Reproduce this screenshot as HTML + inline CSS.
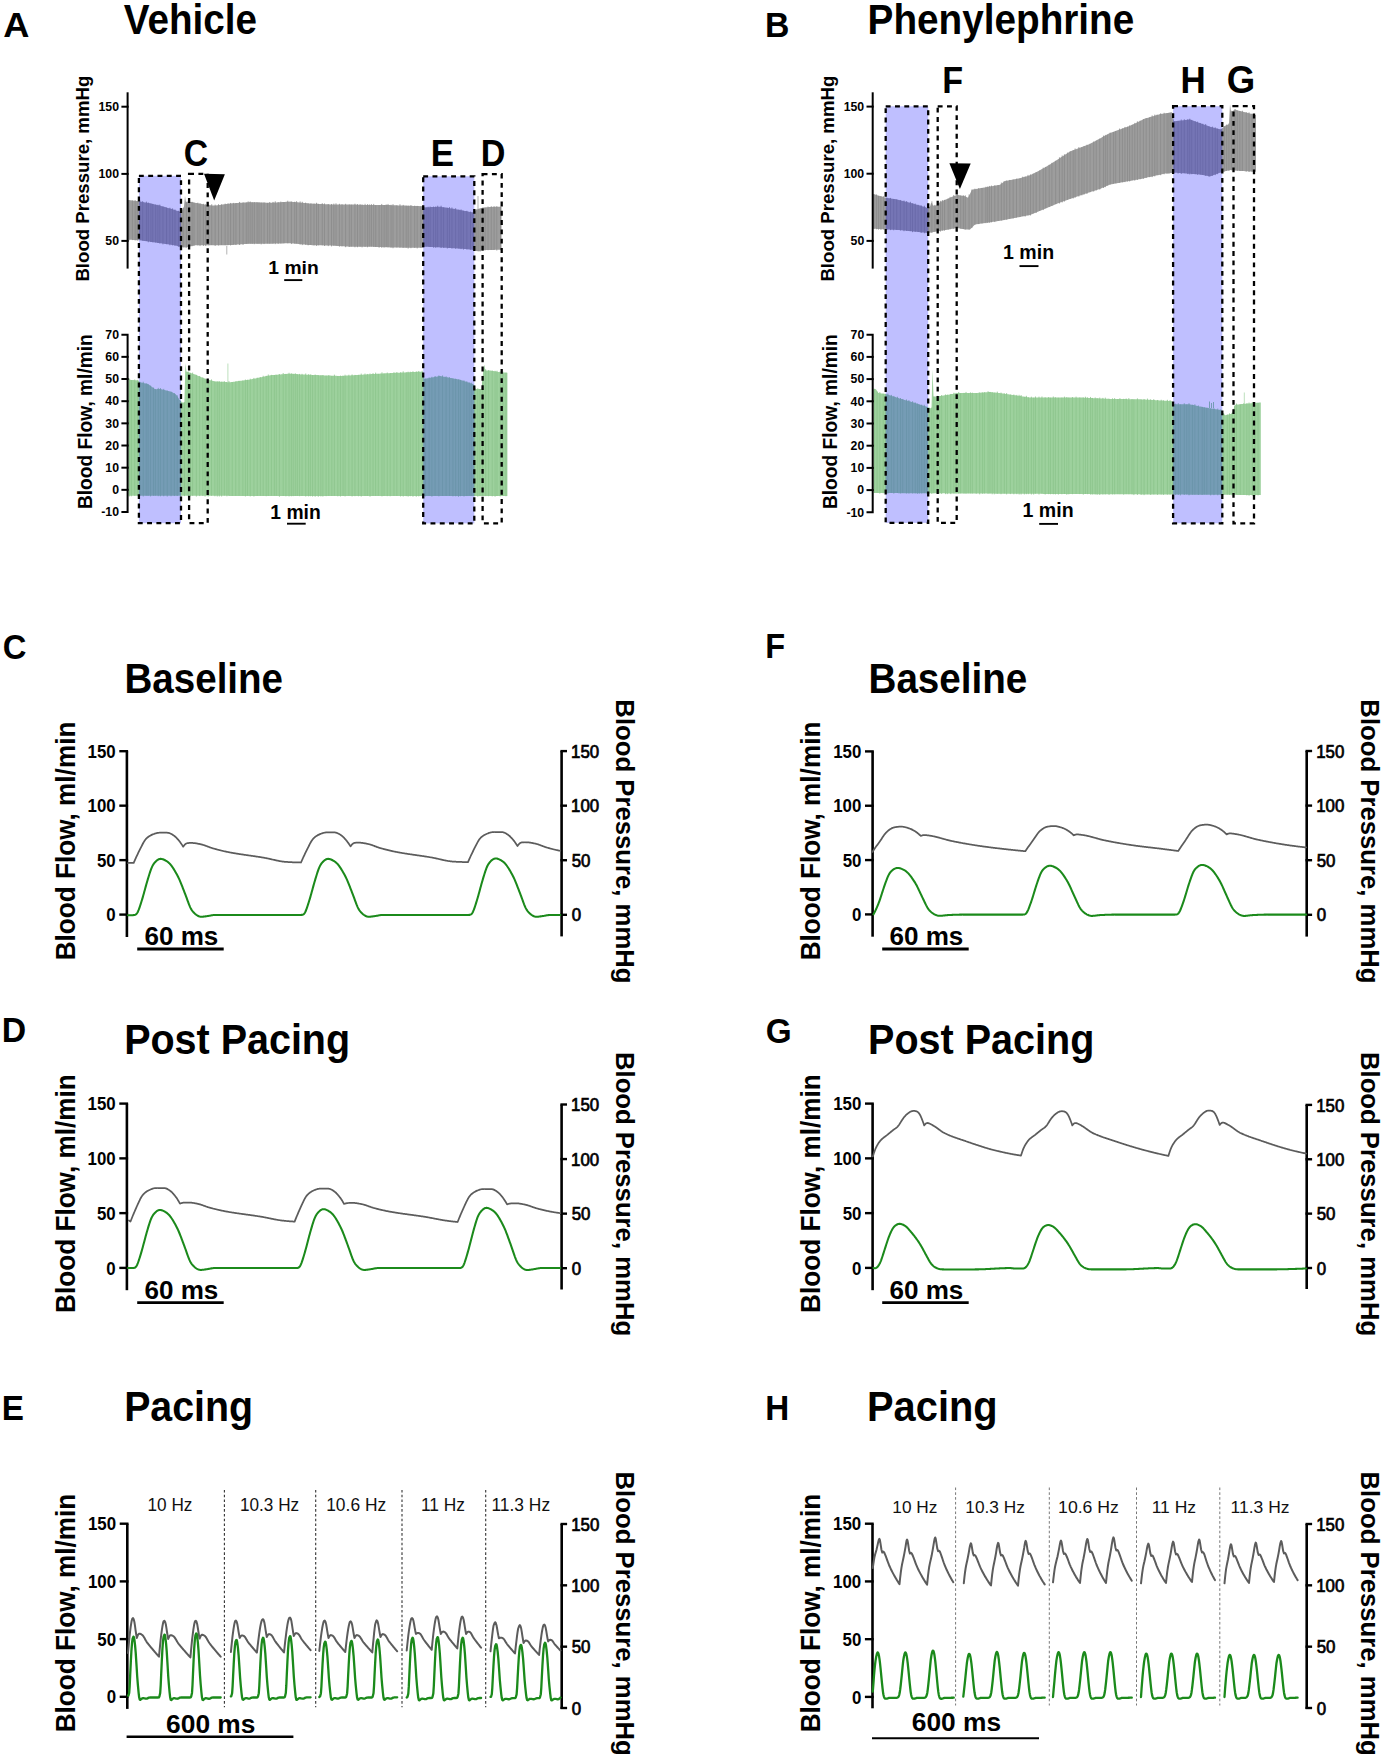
<!DOCTYPE html>
<html><head><meta charset="utf-8"><title>Figure</title>
<style>html,body{margin:0;padding:0;background:#fff;} svg{display:block;} text{font-family:"Liberation Sans", sans-serif;}</style>
</head><body>
<svg width="1385" height="1761" viewBox="0 0 1385 1761">
<rect width="1385" height="1761" fill="#fff"/>
<path d="M128.00,200.00 L129.00,200.12 L130.00,200.24 L131.00,200.35 L132.00,200.47 L133.00,200.59 L134.00,200.71 L135.00,200.83 L136.00,200.95 L137.00,201.06 L138.00,201.18 L139.00,201.30 L140.00,201.48 L141.00,201.66 L142.00,201.85 L143.00,202.03 L144.00,202.21 L145.00,202.39 L146.00,202.57 L147.00,202.75 L148.00,202.94 L149.00,203.12 L150.00,203.30 L151.00,203.53 L152.00,203.76 L153.00,203.99 L154.00,204.22 L155.00,204.45 L156.00,204.68 L157.00,204.91 L158.00,205.14 L159.00,205.37 L160.00,205.60 L161.00,205.89 L162.00,206.18 L163.00,206.47 L164.00,206.76 L165.00,207.05 L166.00,207.34 L167.00,207.63 L168.00,207.92 L169.00,208.21 L170.00,208.50 L171.00,208.81 L172.00,209.12 L173.00,209.44 L174.00,209.75 L175.00,210.06 L176.00,210.38 L177.00,210.69 L178.00,211.00 L179.00,211.33 L180.00,211.67 L181.00,212.00 L182.00,210.18 L183.00,208.36 L184.00,206.55 L185.00,196.00 L186.00,202.78 L187.00,202.04 L188.00,201.30 L189.00,201.50 L190.00,201.70 L191.00,201.90 L192.00,202.10 L193.00,202.30 L194.00,202.50 L195.00,202.70 L196.00,202.89 L197.00,203.08 L198.00,203.27 L199.00,203.47 L200.00,203.66 L201.00,203.85 L202.00,204.04 L203.00,204.23 L204.00,204.43 L205.00,204.62 L206.00,204.81 L207.00,205.00 L208.00,205.07 L209.00,205.15 L210.00,205.22 L211.00,205.30 L212.00,205.38 L213.00,205.45 L214.00,205.53 L215.00,205.60 L216.00,205.46 L217.00,205.32 L218.00,205.18 L219.00,205.04 L220.00,204.90 L221.00,204.76 L222.00,204.62 L223.00,204.48 L224.00,204.34 L225.00,204.20 L226.00,204.06 L227.00,203.92 L228.00,203.78 L229.00,203.64 L230.00,203.50 L231.00,203.43 L232.00,203.36 L233.00,203.29 L234.00,203.22 L235.00,203.15 L236.00,203.08 L237.00,203.01 L238.00,202.94 L239.00,202.87 L240.00,202.80 L241.00,202.73 L242.00,202.66 L243.00,202.59 L244.00,202.52 L245.00,202.45 L246.00,202.38 L247.00,202.31 L248.00,202.24 L249.00,202.17 L250.00,202.10 L251.00,202.13 L252.00,202.17 L253.00,202.20 L254.00,202.24 L255.00,202.28 L256.00,202.31 L257.00,202.34 L258.00,202.38 L259.00,202.41 L260.00,202.45 L261.00,202.49 L262.00,202.52 L263.00,202.56 L264.00,202.59 L265.00,202.62 L266.00,202.66 L267.00,202.70 L268.00,202.73 L269.00,202.77 L270.00,202.80 L271.00,202.74 L272.00,202.68 L273.00,202.62 L274.00,202.56 L275.00,202.50 L276.00,202.44 L277.00,202.38 L278.00,202.32 L279.00,202.26 L280.00,202.20 L281.00,202.14 L282.00,202.08 L283.00,202.02 L284.00,201.96 L285.00,201.90 L286.00,201.84 L287.00,201.78 L288.00,201.72 L289.00,201.66 L290.00,201.60 L291.00,201.69 L292.00,201.79 L293.00,201.88 L294.00,201.98 L295.00,202.07 L296.00,202.17 L297.00,202.26 L298.00,202.36 L299.00,202.45 L300.00,202.55 L301.00,202.65 L302.00,202.74 L303.00,202.84 L304.00,202.93 L305.00,203.03 L306.00,203.12 L307.00,203.22 L308.00,203.31 L309.00,203.41 L310.00,203.50 L311.00,203.54 L312.00,203.59 L313.00,203.63 L314.00,203.68 L315.00,203.72 L316.00,203.77 L317.00,203.81 L318.00,203.86 L319.00,203.91 L320.00,203.95 L321.00,204.00 L322.00,204.04 L323.00,204.09 L324.00,204.13 L325.00,204.18 L326.00,204.22 L327.00,204.27 L328.00,204.31 L329.00,204.36 L330.00,204.40 L331.00,204.40 L332.00,204.40 L333.00,204.40 L334.00,204.40 L335.00,204.40 L336.00,204.40 L337.00,204.40 L338.00,204.40 L339.00,204.40 L340.00,204.40 L341.00,204.40 L342.00,204.40 L343.00,204.40 L344.00,204.40 L345.00,204.40 L346.00,204.40 L347.00,204.40 L348.00,204.40 L349.00,204.40 L350.00,204.40 L351.00,204.44 L352.00,204.47 L353.00,204.50 L354.00,204.54 L355.00,204.57 L356.00,204.61 L357.00,204.65 L358.00,204.68 L359.00,204.72 L360.00,204.75 L361.00,204.78 L362.00,204.82 L363.00,204.85 L364.00,204.89 L365.00,204.93 L366.00,204.96 L367.00,205.00 L368.00,205.03 L369.00,205.06 L370.00,205.10 L371.00,205.10 L372.00,205.10 L373.00,205.10 L374.00,205.10 L375.00,205.10 L376.00,205.10 L377.00,205.10 L378.00,205.10 L379.00,205.10 L380.00,205.10 L381.00,205.10 L382.00,205.10 L383.00,205.10 L384.00,205.10 L385.00,205.10 L386.00,205.10 L387.00,205.10 L388.00,205.10 L389.00,205.10 L390.00,205.10 L391.00,205.13 L392.00,205.17 L393.00,205.20 L394.00,205.24 L395.00,205.28 L396.00,205.31 L397.00,205.34 L398.00,205.38 L399.00,205.41 L400.00,205.45 L401.00,205.49 L402.00,205.52 L403.00,205.56 L404.00,205.59 L405.00,205.62 L406.00,205.66 L407.00,205.70 L408.00,205.73 L409.00,205.77 L410.00,205.80 L411.00,205.83 L412.00,205.87 L413.00,205.90 L414.00,205.93 L415.00,205.97 L416.00,206.00 L417.00,206.03 L418.00,206.07 L419.00,206.10 L420.00,206.13 L421.00,206.17 L422.00,206.20 L423.00,206.60 L424.00,207.00 L425.00,207.40 L426.00,207.35 L427.00,207.31 L428.00,207.26 L429.00,207.21 L430.00,207.17 L431.00,207.12 L432.00,207.07 L433.00,207.03 L434.00,206.98 L435.00,206.93 L436.00,206.89 L437.00,206.84 L438.00,206.79 L439.00,206.75 L440.00,206.70 L441.00,206.85 L442.00,207.01 L443.00,207.16 L444.00,207.31 L445.00,207.47 L446.00,207.62 L447.00,207.77 L448.00,207.93 L449.00,208.08 L450.00,208.23 L451.00,208.39 L452.00,208.54 L453.00,208.69 L454.00,208.85 L455.00,209.00 L456.00,209.19 L457.00,209.38 L458.00,209.57 L459.00,209.76 L460.00,209.95 L461.00,210.14 L462.00,210.33 L463.00,210.52 L464.00,210.71 L465.00,210.90 L466.00,211.10 L467.00,211.30 L468.00,211.50 L469.00,211.70 L470.00,211.90 L471.00,212.10 L472.00,212.30 L473.00,212.50 L474.00,212.70 L475.00,211.20 L476.00,209.70 L477.00,209.39 L478.00,209.07 L479.00,208.76 L480.00,208.49 L481.00,208.27 L482.00,208.05 L483.00,207.84 L484.00,207.62 L485.00,207.40 L486.00,207.33 L487.00,207.26 L488.00,207.19 L489.00,207.12 L490.00,207.05 L491.00,206.98 L492.00,206.91 L493.00,206.84 L494.00,206.77 L495.00,206.70 L496.00,206.70 L497.00,206.70 L498.00,206.70 L499.00,206.70 L500.00,206.70 L501.00,206.70 L501.50,206.70 L501.50,249.70 L501.00,249.71 L500.00,249.74 L499.00,249.76 L498.00,249.78 L497.00,249.81 L496.00,249.83 L495.00,249.86 L494.00,249.88 L493.00,249.91 L492.00,249.93 L491.00,249.95 L490.00,249.98 L489.00,250.00 L488.00,250.03 L487.00,250.05 L486.00,250.08 L485.00,250.10 L484.00,250.27 L483.00,250.44 L482.00,250.61 L481.00,250.79 L480.00,250.96 L479.00,251.13 L478.00,251.30 L477.00,251.00 L476.00,250.70 L475.00,250.40 L474.00,250.10 L473.00,249.98 L472.00,249.86 L471.00,249.73 L470.00,249.61 L469.00,249.49 L468.00,249.37 L467.00,249.24 L466.00,249.12 L465.00,249.00 L464.00,248.93 L463.00,248.86 L462.00,248.79 L461.00,248.72 L460.00,248.65 L459.00,248.58 L458.00,248.51 L457.00,248.44 L456.00,248.37 L455.00,248.30 L454.00,248.24 L453.00,248.18 L452.00,248.12 L451.00,248.06 L450.00,248.00 L449.00,247.94 L448.00,247.88 L447.00,247.82 L446.00,247.76 L445.00,247.70 L444.00,247.64 L443.00,247.58 L442.00,247.52 L441.00,247.46 L440.00,247.40 L439.00,247.35 L438.00,247.31 L437.00,247.26 L436.00,247.21 L435.00,247.17 L434.00,247.12 L433.00,247.07 L432.00,247.03 L431.00,246.98 L430.00,246.93 L429.00,246.89 L428.00,246.84 L427.00,246.79 L426.00,246.75 L425.00,246.70 L424.00,247.07 L423.00,247.43 L422.00,247.80 L421.00,247.80 L420.00,247.80 L419.00,247.80 L418.00,247.80 L417.00,247.80 L416.00,247.80 L415.00,247.80 L414.00,247.80 L413.00,247.80 L412.00,247.80 L411.00,247.80 L410.00,247.80 L409.00,247.78 L408.00,247.76 L407.00,247.74 L406.00,247.72 L405.00,247.70 L404.00,247.68 L403.00,247.66 L402.00,247.64 L401.00,247.62 L400.00,247.60 L399.00,247.58 L398.00,247.56 L397.00,247.54 L396.00,247.52 L395.00,247.50 L394.00,247.48 L393.00,247.46 L392.00,247.44 L391.00,247.42 L390.00,247.40 L389.00,247.37 L388.00,247.33 L387.00,247.30 L386.00,247.26 L385.00,247.22 L384.00,247.19 L383.00,247.16 L382.00,247.12 L381.00,247.09 L380.00,247.05 L379.00,247.01 L378.00,246.98 L377.00,246.94 L376.00,246.91 L375.00,246.88 L374.00,246.84 L373.00,246.80 L372.00,246.77 L371.00,246.73 L370.00,246.70 L369.00,246.70 L368.00,246.70 L367.00,246.70 L366.00,246.70 L365.00,246.70 L364.00,246.70 L363.00,246.70 L362.00,246.70 L361.00,246.70 L360.00,246.70 L359.00,246.70 L358.00,246.70 L357.00,246.70 L356.00,246.70 L355.00,246.70 L354.00,246.70 L353.00,246.70 L352.00,246.70 L351.00,246.70 L350.00,246.70 L349.00,246.64 L348.00,246.58 L347.00,246.52 L346.00,246.46 L345.00,246.40 L344.00,246.34 L343.00,246.28 L342.00,246.22 L341.00,246.16 L340.00,246.10 L339.00,246.04 L338.00,245.98 L337.00,245.92 L336.00,245.86 L335.00,245.80 L334.00,245.74 L333.00,245.68 L332.00,245.62 L331.00,245.56 L330.00,245.50 L329.00,245.48 L328.00,245.46 L327.00,245.44 L326.00,245.42 L325.00,245.40 L324.00,245.38 L323.00,245.36 L322.00,245.34 L321.00,245.32 L320.00,245.30 L319.00,245.28 L318.00,245.26 L317.00,245.24 L316.00,245.22 L315.00,245.20 L314.00,245.18 L313.00,245.16 L312.00,245.14 L311.00,245.12 L310.00,245.10 L309.00,245.00 L308.00,244.91 L307.00,244.81 L306.00,244.72 L305.00,244.62 L304.00,244.53 L303.00,244.44 L302.00,244.34 L301.00,244.25 L300.00,244.15 L299.00,244.05 L298.00,243.96 L297.00,243.86 L296.00,243.77 L295.00,243.67 L294.00,243.58 L293.00,243.48 L292.00,243.39 L291.00,243.29 L290.00,243.20 L289.00,243.22 L288.00,243.25 L287.00,243.27 L286.00,243.30 L285.00,243.32 L284.00,243.35 L283.00,243.38 L282.00,243.40 L281.00,243.42 L280.00,243.45 L279.00,243.47 L278.00,243.50 L277.00,243.52 L276.00,243.55 L275.00,243.57 L274.00,243.60 L273.00,243.62 L272.00,243.65 L271.00,243.67 L270.00,243.70 L269.00,243.70 L268.00,243.70 L267.00,243.70 L266.00,243.70 L265.00,243.70 L264.00,243.70 L263.00,243.70 L262.00,243.70 L261.00,243.70 L260.00,243.70 L259.00,243.70 L258.00,243.70 L257.00,243.70 L256.00,243.70 L255.00,243.70 L254.00,243.70 L253.00,243.70 L252.00,243.70 L251.00,243.70 L250.00,243.70 L249.00,243.77 L248.00,243.84 L247.00,243.91 L246.00,243.98 L245.00,244.05 L244.00,244.12 L243.00,244.19 L242.00,244.26 L241.00,244.33 L240.00,244.40 L239.00,244.47 L238.00,244.54 L237.00,244.61 L236.00,244.68 L235.00,244.75 L234.00,244.82 L233.00,244.89 L232.00,244.96 L231.00,245.03 L230.00,245.10 L229.00,245.11 L228.00,245.12 L227.00,245.13 L226.00,245.14 L225.00,245.15 L224.00,245.16 L223.00,245.17 L222.00,245.18 L221.00,245.19 L220.00,245.20 L219.00,245.21 L218.00,245.22 L217.00,245.23 L216.00,245.24 L215.00,245.25 L214.00,245.26 L213.00,245.27 L212.00,245.28 L211.00,245.29 L210.00,245.30 L209.00,245.30 L208.00,245.30 L207.00,245.30 L206.00,245.30 L205.00,245.30 L204.00,245.30 L203.00,245.30 L202.00,245.30 L201.00,245.30 L200.00,245.30 L199.00,245.30 L198.00,245.30 L197.00,245.30 L196.00,245.30 L195.00,245.30 L194.00,245.54 L193.00,245.79 L192.00,246.03 L191.00,246.28 L190.00,246.52 L189.00,246.77 L188.00,247.01 L187.00,247.26 L186.00,247.50 L185.00,247.38 L184.00,247.27 L183.00,247.15 L182.00,247.03 L181.00,246.92 L180.00,246.80 L179.00,246.50 L178.00,246.20 L177.00,245.90 L176.00,245.60 L175.00,245.30 L174.00,245.16 L173.00,245.02 L172.00,244.88 L171.00,244.74 L170.00,244.60 L169.00,244.46 L168.00,244.32 L167.00,244.18 L166.00,244.04 L165.00,243.90 L164.00,243.76 L163.00,243.62 L162.00,243.48 L161.00,243.34 L160.00,243.20 L159.00,243.05 L158.00,242.91 L157.00,242.76 L156.00,242.62 L155.00,242.47 L154.00,242.33 L153.00,242.19 L152.00,242.04 L151.00,241.90 L150.00,241.75 L149.00,241.60 L148.00,241.46 L147.00,241.31 L146.00,241.17 L145.00,241.03 L144.00,240.88 L143.00,240.74 L142.00,240.59 L141.00,240.45 L140.00,240.30 L139.00,240.24 L138.00,240.18 L137.00,240.12 L136.00,240.07 L135.00,240.01 L134.00,239.95 L133.00,239.89 L132.00,239.83 L131.00,239.78 L130.00,239.72 L129.00,239.66 L128.00,239.60Z" fill="#9d9d9d"/>
<path d="M129.00,200.22V240.29M132.41,200.44V240.10M135.16,200.17V240.59M137.18,201.34V240.75M139.90,200.62V240.00M142.65,201.18V240.64M146.43,201.60V240.97M148.30,202.48V242.24M150.92,203.49V242.05M152.80,203.91V242.34M155.65,204.55V242.52M157.92,204.73V242.92M159.79,204.60V243.48M162.94,206.48V244.40M166.55,207.62V244.18M169.87,207.70V245.31M172.57,208.36V245.40M175.02,209.49V245.98M178.60,210.74V246.73M180.50,211.77V247.43M183.18,208.08V247.47M186.46,201.73V247.50M189.19,201.08V247.28M192.10,201.83V246.25M193.98,202.73V246.02M197.84,202.66V245.43M200.02,203.21V246.08M203.44,203.81V245.95M205.74,204.29V246.05M208.76,204.74V245.30M211.72,204.22V244.99M215.17,204.64V245.92M218.53,204.19V245.49M221.52,204.35V244.95M225.15,203.62V245.07M228.02,203.35V245.21M230.56,202.95V245.45M233.65,202.86V244.57M235.95,203.12V245.03M239.56,201.93V245.01M243.08,202.50V244.81M246.30,202.53V243.68M248.15,201.40V243.80M250.20,201.47V243.78M252.16,202.24V243.98M254.33,202.14V244.18M257.10,202.17V243.92M258.97,202.13V243.86M261.18,202.63V244.39M264.06,202.58V244.07M267.58,202.98V243.42M269.71,202.01V243.58M272.99,201.90V243.92M275.27,201.32V244.15M278.16,202.28V243.91M280.81,201.59V243.48M283.94,202.18V243.38M287.77,200.72V243.29M291.38,201.57V244.06M294.74,201.73V243.63M296.58,201.21V243.57M300.11,201.42V244.49M302.28,201.77V245.14M305.57,202.62V244.79M308.11,203.31V245.36M310.83,203.55V244.93M314.03,203.54V245.43M316.53,202.79V245.92M318.39,203.88V245.33M322.26,203.18V245.42M324.53,203.44V246.01M328.28,204.11V246.14M331.53,203.97V246.38M333.84,203.61V245.52M336.01,203.33V245.80M339.41,203.80V246.69M342.00,204.19V246.24M345.62,203.79V247.19M349.29,204.50V246.96M351.33,204.69V246.48M354.95,203.69V247.31M357.48,204.04V247.26M360.08,204.20V246.65M362.07,204.72V247.38M365.07,203.84V246.90M367.46,204.13V247.31M369.31,204.37V246.50M371.37,204.07V246.49M373.69,203.92V246.99M375.75,205.15V246.87M379.11,205.25V247.72M381.72,203.94V247.81M384.15,205.02V247.42M386.18,204.42V247.01M388.02,203.93V247.36M391.08,204.76V247.47M393.03,204.14V248.23M396.87,205.47V247.47M399.98,204.28V247.90M403.23,204.87V247.65M406.18,205.51V247.69M408.16,205.61V248.55M410.92,205.15V248.21M414.69,205.67V247.84M417.19,205.86V248.43M420.87,206.01V247.87M423.82,206.36V247.49M426.15,207.62V246.72M428.12,206.73V246.62M430.10,206.51V246.96M433.57,206.56V247.75M435.71,206.45V247.77M437.69,205.68V247.18M441.12,205.69V248.07M443.61,207.39V247.88M447.34,207.69V248.52M449.46,207.08V247.70M451.93,207.48V248.70M455.64,208.16V248.87M458.89,209.77V248.75M461.04,209.38V249.16M463.39,210.80V249.65M466.89,210.75V249.53M470.48,211.62V249.81M473.00,212.41V249.71M476.17,209.32V251.08M478.12,208.80V251.13M480.20,208.36V251.53M482.85,207.57V250.84M485.15,207.68V250.38M488.01,206.52V250.21M491.26,206.16V249.91M494.11,206.34V249.83M496.79,206.16V250.51M500.52,206.59V250.13" stroke="#8a8a8a" stroke-width="0.8" fill="none"/>
<path d="M128.40,379.60 L129.40,379.69 L130.40,379.79 L131.40,379.88 L132.40,379.98 L133.40,380.07 L134.40,380.16 L135.40,380.26 L136.40,380.35 L137.40,380.44 L138.40,380.84 L139.40,381.69 L140.40,382.29 L141.40,382.51 L142.40,382.74 L143.40,382.96 L144.40,383.19 L145.40,383.42 L146.40,383.64 L147.40,383.87 L148.40,384.30 L149.40,385.04 L150.40,385.78 L151.40,386.53 L152.40,387.27 L153.40,388.01 L154.40,388.75 L155.40,389.18 L156.40,389.14 L157.40,389.10 L158.40,389.06 L159.40,389.02 L160.40,389.10 L161.40,389.35 L162.40,389.60 L163.40,389.85 L164.40,390.10 L165.40,390.35 L166.40,390.60 L167.40,390.85 L168.40,391.10 L169.40,391.35 L170.40,391.60 L171.40,391.85 L172.40,392.25 L173.40,392.88 L174.40,393.50 L175.40,394.12 L176.40,395.10 L177.40,396.60 L178.40,398.10 L179.40,399.50 L180.40,400.75 L181.40,401.90 L182.40,402.50 L183.40,402.50 L184.40,402.50 L185.40,363.36 L186.40,371.62 L187.40,371.93 L188.40,372.25 L189.40,372.58 L190.40,372.90 L191.40,373.23 L192.40,373.56 L193.40,373.88 L194.40,374.20 L195.40,374.58 L196.40,375.02 L197.40,375.46 L198.40,375.90 L199.40,376.34 L200.40,376.78 L201.40,377.22 L202.40,377.66 L203.40,378.10 L204.40,378.54 L205.40,378.90 L206.40,379.16 L207.40,379.42 L208.40,379.68 L209.40,379.94 L210.40,380.20 L211.40,380.46 L212.40,380.72 L213.40,380.98 L214.40,381.24 L215.40,381.42 L216.40,381.47 L217.40,381.53 L218.40,381.58 L219.40,381.63 L220.40,381.69 L221.40,381.74 L222.40,381.79 L223.40,381.85 L224.40,381.90 L225.40,381.95 L226.40,382.01 L227.40,382.06 L228.40,382.11 L229.40,382.17 L230.40,382.15 L231.40,382.02 L232.40,381.89 L233.40,381.76 L234.40,381.63 L235.40,381.50 L236.40,381.37 L237.40,381.24 L238.40,381.11 L239.40,380.98 L240.40,380.85 L241.40,380.72 L242.40,380.59 L243.40,380.46 L244.40,380.33 L245.40,380.20 L246.40,380.07 L247.40,379.94 L248.40,379.81 L249.40,379.68 L250.40,379.51 L251.40,379.30 L252.40,379.08 L253.40,378.87 L254.40,378.65 L255.40,378.44 L256.40,378.22 L257.40,378.01 L258.40,377.79 L259.40,377.58 L260.40,377.36 L261.40,377.15 L262.40,376.93 L263.40,376.72 L264.40,376.50 L265.40,376.29 L266.40,376.07 L267.40,375.86 L268.40,375.64 L269.40,375.43 L270.40,375.27 L271.40,375.18 L272.40,375.10 L273.40,375.01 L274.40,374.93 L275.40,374.84 L276.40,374.76 L277.40,374.67 L278.40,374.59 L279.40,374.50 L280.40,374.42 L281.40,374.33 L282.40,374.25 L283.40,374.16 L284.40,374.08 L285.40,373.99 L286.40,373.91 L287.40,373.82 L288.40,373.74 L289.40,373.65 L290.40,373.63 L291.40,373.71 L292.40,373.79 L293.40,373.87 L294.40,373.95 L295.40,374.03 L296.40,374.11 L297.40,374.19 L298.40,374.27 L299.40,374.35 L300.40,374.42 L301.40,374.46 L302.40,374.50 L303.40,374.54 L304.40,374.58 L305.40,374.62 L306.40,374.66 L307.40,374.70 L308.40,374.74 L309.40,374.78 L310.40,374.82 L311.40,374.86 L312.40,374.90 L313.40,374.94 L314.40,374.98 L315.40,375.02 L316.40,375.06 L317.40,375.10 L318.40,375.14 L319.40,375.18 L320.40,375.22 L321.40,375.26 L322.40,375.30 L323.40,375.34 L324.40,375.38 L325.40,375.42 L326.40,375.46 L327.40,375.50 L328.40,375.54 L329.40,375.58 L330.40,375.62 L331.40,375.66 L332.40,375.70 L333.40,375.74 L334.40,375.78 L335.40,375.82 L336.40,375.86 L337.40,375.90 L338.40,375.94 L339.40,375.98 L340.40,375.98 L341.40,375.92 L342.40,375.86 L343.40,375.80 L344.40,375.74 L345.40,375.68 L346.40,375.62 L347.40,375.56 L348.40,375.50 L349.40,375.44 L350.40,375.38 L351.40,375.32 L352.40,375.26 L353.40,375.20 L354.40,375.14 L355.40,375.08 L356.40,375.02 L357.40,374.96 L358.40,374.90 L359.40,374.84 L360.40,374.78 L361.40,374.72 L362.40,374.66 L363.40,374.60 L364.40,374.54 L365.40,374.48 L366.40,374.42 L367.40,374.36 L368.40,374.30 L369.40,374.24 L370.40,374.18 L371.40,374.12 L372.40,374.06 L373.40,374.00 L374.40,373.94 L375.40,373.88 L376.40,373.82 L377.40,373.76 L378.40,373.70 L379.40,373.64 L380.40,373.58 L381.40,373.53 L382.40,373.49 L383.40,373.44 L384.40,373.39 L385.40,373.34 L386.40,373.30 L387.40,373.25 L388.40,373.20 L389.40,373.15 L390.40,373.11 L391.40,373.06 L392.40,373.01 L393.40,372.96 L394.40,372.92 L395.40,372.87 L396.40,372.82 L397.40,372.77 L398.40,372.73 L399.40,372.68 L400.40,372.63 L401.40,372.58 L402.40,372.54 L403.40,372.49 L404.40,372.44 L405.40,372.39 L406.40,372.35 L407.40,372.30 L408.40,372.25 L409.40,372.20 L410.40,372.16 L411.40,372.11 L412.40,372.06 L413.40,372.01 L414.40,371.97 L415.40,371.92 L416.40,371.87 L417.40,371.82 L418.40,371.78 L419.40,371.73 L420.40,371.70 L421.40,371.70 L422.40,371.70 L423.40,374.62 L424.40,378.93 L425.40,378.74 L426.40,378.55 L427.40,378.36 L428.40,378.18 L429.40,377.99 L430.40,377.80 L431.40,377.61 L432.40,377.43 L433.40,377.24 L434.40,377.05 L435.40,376.86 L436.40,376.68 L437.40,376.49 L438.40,376.30 L439.40,376.11 L440.40,376.07 L441.40,376.26 L442.40,376.44 L443.40,376.63 L444.40,376.81 L445.40,377.00 L446.40,377.18 L447.40,377.37 L448.40,377.55 L449.40,377.74 L450.40,377.92 L451.40,378.11 L452.40,378.29 L453.40,378.48 L454.40,378.66 L455.40,378.85 L456.40,379.03 L457.40,379.22 L458.40,379.40 L459.40,379.59 L460.40,379.83 L461.40,380.17 L462.40,380.51 L463.40,380.84 L464.40,381.18 L465.40,381.51 L466.40,381.85 L467.40,382.18 L468.40,382.52 L469.40,382.86 L470.40,383.19 L471.40,383.53 L472.40,383.86 L473.40,384.20 L474.40,385.65 L475.40,388.79 L476.40,389.10 L477.40,389.10 L478.40,389.10 L479.40,389.10 L480.40,389.10 L481.40,389.10 L482.40,381.98 L483.40,367.38 L484.40,365.06 L485.40,370.40 L486.40,370.40 L487.40,370.40 L488.40,370.40 L489.40,370.40 L490.40,370.47 L491.40,370.65 L492.40,370.83 L493.40,371.01 L494.40,371.19 L495.40,371.37 L496.40,371.55 L497.40,371.73 L498.40,371.91 L499.40,372.09 L500.40,372.23 L501.40,372.31 L502.40,372.39 L503.40,372.48 L504.40,372.56 L505.40,372.64 L506.40,372.72 L507.40,372.80 L507.40,496.00 L506.40,496.00 L505.40,496.00 L504.40,496.00 L503.40,496.00 L502.40,496.00 L501.40,496.00 L500.40,496.00 L499.40,496.00 L498.40,496.00 L497.40,496.00 L496.40,496.00 L495.40,496.00 L494.40,496.00 L493.40,496.00 L492.40,496.00 L491.40,496.00 L490.40,496.00 L489.40,496.00 L488.40,496.00 L487.40,496.00 L486.40,496.00 L485.40,496.00 L484.40,496.00 L483.40,496.00 L482.40,496.00 L481.40,496.00 L480.40,496.00 L479.40,496.00 L478.40,496.00 L477.40,496.00 L476.40,496.00 L475.40,496.00 L474.40,496.00 L473.40,496.00 L472.40,496.00 L471.40,496.00 L470.40,496.00 L469.40,496.00 L468.40,496.00 L467.40,496.00 L466.40,496.00 L465.40,496.00 L464.40,496.00 L463.40,496.00 L462.40,496.00 L461.40,496.00 L460.40,496.00 L459.40,496.00 L458.40,496.00 L457.40,496.00 L456.40,496.00 L455.40,496.00 L454.40,496.00 L453.40,496.00 L452.40,496.00 L451.40,496.00 L450.40,496.00 L449.40,496.00 L448.40,496.00 L447.40,496.00 L446.40,496.00 L445.40,496.00 L444.40,496.00 L443.40,496.00 L442.40,496.00 L441.40,496.00 L440.40,496.00 L439.40,496.00 L438.40,496.00 L437.40,496.00 L436.40,496.00 L435.40,496.00 L434.40,496.00 L433.40,496.00 L432.40,496.00 L431.40,496.00 L430.40,496.00 L429.40,496.00 L428.40,496.00 L427.40,496.00 L426.40,496.00 L425.40,496.00 L424.40,496.00 L423.40,496.00 L422.40,496.00 L421.40,496.00 L420.40,496.00 L419.40,496.00 L418.40,496.00 L417.40,496.00 L416.40,496.00 L415.40,496.00 L414.40,496.00 L413.40,496.00 L412.40,496.00 L411.40,496.00 L410.40,496.00 L409.40,496.00 L408.40,496.00 L407.40,496.00 L406.40,496.00 L405.40,496.00 L404.40,496.00 L403.40,496.00 L402.40,496.00 L401.40,496.00 L400.40,496.00 L399.40,496.00 L398.40,496.00 L397.40,496.00 L396.40,496.00 L395.40,496.00 L394.40,496.00 L393.40,496.00 L392.40,496.00 L391.40,496.00 L390.40,496.00 L389.40,496.00 L388.40,496.00 L387.40,496.00 L386.40,496.00 L385.40,496.00 L384.40,496.00 L383.40,496.00 L382.40,496.00 L381.40,496.00 L380.40,496.00 L379.40,496.00 L378.40,496.00 L377.40,496.00 L376.40,496.00 L375.40,496.00 L374.40,496.00 L373.40,496.00 L372.40,496.00 L371.40,496.00 L370.40,496.00 L369.40,496.00 L368.40,496.00 L367.40,496.00 L366.40,496.00 L365.40,496.00 L364.40,496.00 L363.40,496.00 L362.40,496.00 L361.40,496.00 L360.40,496.00 L359.40,496.00 L358.40,496.00 L357.40,496.00 L356.40,496.00 L355.40,496.00 L354.40,496.00 L353.40,496.00 L352.40,496.00 L351.40,496.00 L350.40,496.00 L349.40,496.00 L348.40,496.00 L347.40,496.00 L346.40,496.00 L345.40,496.00 L344.40,496.00 L343.40,496.00 L342.40,496.00 L341.40,496.00 L340.40,496.00 L339.40,496.00 L338.40,496.00 L337.40,496.00 L336.40,496.00 L335.40,496.00 L334.40,496.00 L333.40,496.00 L332.40,496.00 L331.40,496.00 L330.40,496.00 L329.40,496.00 L328.40,496.00 L327.40,496.00 L326.40,496.00 L325.40,496.00 L324.40,496.00 L323.40,496.00 L322.40,496.00 L321.40,496.00 L320.40,496.00 L319.40,496.00 L318.40,496.00 L317.40,496.00 L316.40,496.00 L315.40,496.00 L314.40,496.00 L313.40,496.00 L312.40,496.00 L311.40,496.00 L310.40,496.00 L309.40,496.00 L308.40,496.00 L307.40,496.00 L306.40,496.00 L305.40,496.00 L304.40,496.00 L303.40,496.00 L302.40,496.00 L301.40,496.00 L300.40,496.00 L299.40,496.00 L298.40,496.00 L297.40,496.00 L296.40,495.99 L295.40,495.99 L294.40,495.99 L293.40,495.99 L292.40,495.99 L291.40,495.98 L290.40,495.98 L289.40,495.98 L288.40,495.98 L287.40,495.98 L286.40,495.98 L285.40,495.97 L284.40,495.97 L283.40,495.97 L282.40,495.97 L281.40,495.97 L280.40,495.97 L279.40,495.96 L278.40,495.96 L277.40,495.96 L276.40,495.96 L275.40,495.96 L274.40,495.96 L273.40,495.95 L272.40,495.95 L271.40,495.95 L270.40,495.95 L269.40,495.95 L268.40,495.94 L267.40,495.94 L266.40,495.94 L265.40,495.94 L264.40,495.94 L263.40,495.94 L262.40,495.93 L261.40,495.93 L260.40,495.93 L259.40,495.93 L258.40,495.93 L257.40,495.93 L256.40,495.92 L255.40,495.92 L254.40,495.92 L253.40,495.92 L252.40,495.92 L251.40,495.92 L250.40,495.91 L249.40,495.91 L248.40,495.91 L247.40,495.91 L246.40,495.91 L245.40,495.90 L244.40,495.90 L243.40,495.90 L242.40,495.90 L241.40,495.90 L240.40,495.90 L239.40,495.89 L238.40,495.89 L237.40,495.89 L236.40,495.89 L235.40,495.89 L234.40,495.89 L233.40,495.88 L232.40,495.88 L231.40,495.88 L230.40,495.88 L229.40,495.88 L228.40,495.87 L227.40,495.87 L226.40,495.87 L225.40,495.87 L224.40,495.87 L223.40,495.87 L222.40,495.86 L221.40,495.86 L220.40,495.86 L219.40,495.86 L218.40,495.86 L217.40,495.86 L216.40,495.85 L215.40,495.85 L214.40,495.85 L213.40,495.85 L212.40,495.85 L211.40,495.85 L210.40,495.84 L209.40,495.84 L208.40,495.84 L207.40,495.84 L206.40,495.84 L205.40,495.83 L204.40,495.83 L203.40,495.83 L202.40,495.83 L201.40,495.83 L200.40,495.83 L199.40,495.82 L198.40,495.82 L197.40,495.82 L196.40,495.82 L195.40,495.82 L194.40,495.82 L193.40,495.81 L192.40,495.81 L191.40,495.81 L190.40,495.81 L189.40,495.81 L188.40,495.80 L187.40,495.80 L186.40,495.80 L185.40,495.80 L184.40,495.80 L183.40,495.80 L182.40,495.79 L181.40,495.79 L180.40,495.79 L179.40,495.79 L178.40,495.79 L177.40,495.79 L176.40,495.78 L175.40,495.78 L174.40,495.78 L173.40,495.78 L172.40,495.78 L171.40,495.78 L170.40,495.77 L169.40,495.77 L168.40,495.77 L167.40,495.77 L166.40,495.77 L165.40,495.76 L164.40,495.76 L163.40,495.76 L162.40,495.76 L161.40,495.76 L160.40,495.76 L159.40,495.75 L158.40,495.75 L157.40,495.75 L156.40,495.75 L155.40,495.75 L154.40,495.75 L153.40,495.74 L152.40,495.74 L151.40,495.74 L150.40,495.74 L149.40,495.74 L148.40,495.73 L147.40,495.73 L146.40,495.73 L145.40,495.73 L144.40,495.73 L143.40,495.73 L142.40,495.72 L141.40,495.72 L140.40,495.72 L139.40,495.72 L138.40,495.72 L137.40,495.72 L136.40,495.71 L135.40,495.71 L134.40,495.71 L133.40,495.71 L132.40,495.71 L131.40,495.71 L130.40,495.70 L129.40,495.70 L128.40,495.70Z" fill="#9dd19d"/>
<path d="M129.40,378.56V496.44M131.34,380.05V496.32M134.69,379.48V495.75M137.77,379.87V496.06M139.92,381.78V495.85M143.24,381.74V496.47M146.19,383.23V495.73M148.09,384.32V495.95M150.57,385.64V496.42M153.48,387.53V495.70M155.35,389.00V495.60M158.24,387.87V496.19M160.43,388.07V496.33M163.78,388.89V496.30M167.24,390.58V496.55M171.06,391.82V496.30M174.37,393.09V496.06M177.21,395.23V496.04M180.76,400.97V496.46M184.45,402.11V496.12M188.19,371.40V496.04M190.47,372.74V496.28M192.63,372.57V495.81M196.35,374.83V496.57M199.64,375.98V496.09M202.81,377.26V495.87M205.07,378.35V496.56M208.18,379.81V496.44M211.51,379.43V495.76M214.88,381.58V496.27M217.27,381.48V496.52M219.31,381.15V496.50M221.64,381.74V496.53M224.34,381.12V495.60M226.91,382.08V496.31M228.91,381.01V495.60M232.24,382.18V495.86M235.75,381.52V495.79M239.01,380.75V495.64M242.89,380.60V495.64M245.43,379.57V496.42M247.48,379.72V495.64M250.24,378.70V496.43M253.93,377.92V496.57M257.22,377.64V495.87M260.41,377.19V495.74M263.17,375.76V495.78M266.20,375.83V496.21M268.32,374.52V495.93M271.40,374.85V495.67M274.38,375.02V495.72M276.27,374.83V495.76M279.41,374.04V496.75M283.18,372.99V495.93M285.92,373.87V496.33M289.04,372.78V496.46M291.39,373.38V496.26M293.22,374.10V496.14M295.27,373.24V495.96M297.30,374.21V495.95M299.57,373.88V496.21M302.04,373.82V495.93M305.74,373.49V496.50M308.47,374.27V496.34M310.39,374.49V496.28M312.59,375.06V496.58M315.17,374.53V496.71M318.26,375.00V496.78M320.86,375.51V496.45M322.89,375.16V496.62M326.10,375.72V496.20M328.78,375.12V495.93M331.82,375.86V496.01M334.42,374.67V495.78M337.81,375.92V496.33M340.44,375.58V496.53M343.09,375.93V495.83M345.07,374.72V496.41M348.89,374.73V495.73M352.08,374.41V496.50M354.94,374.87V496.20M358.42,374.79V496.28M361.23,373.59V496.58M364.99,373.55V496.03M367.29,373.93V495.99M370.00,373.48V496.71M373.04,373.09V495.81M375.60,372.67V495.86M378.29,373.90V495.79M381.97,372.32V496.41M384.06,373.26V495.95M387.27,372.53V496.18M390.18,373.25V496.29M393.98,372.10V495.81M396.87,372.03V495.98M400.55,372.23V496.47M403.21,371.30V496.56M406.23,372.44V496.19M408.11,371.67V496.67M410.30,371.70V496.23M412.97,371.27V496.73M416.25,371.47V496.76M418.76,370.94V496.42M422.17,370.72V495.95M425.28,378.46V496.43M429.13,377.39V495.71M431.92,376.75V496.67M435.09,376.00V495.72M438.87,375.42V496.37M442.57,375.45V495.81M446.09,376.28V495.92M449.46,377.17V495.91M452.95,378.49V496.37M455.67,378.82V496.32M458.47,379.41V496.76M460.44,380.14V496.23M464.00,380.35V496.53M466.83,381.28V496.07M469.20,382.34V495.73M471.19,382.63V495.89M474.57,385.31V496.14M477.79,388.22V496.65M479.89,389.16V496.12M482.68,376.85V495.71M485.66,369.25V496.10M488.60,370.13V496.19M492.23,370.64V496.41M495.06,370.80V496.71M497.03,370.73V496.03M500.20,371.32V496.42M502.84,371.47V495.80M505.97,372.40V496.28" stroke="#8cc48c" stroke-width="0.8" fill="none"/>
<path d="M873.00,194.00 L874.00,194.28 L875.00,194.57 L876.00,194.85 L877.00,195.14 L878.00,195.42 L879.00,195.71 L880.00,195.99 L881.00,196.28 L882.00,196.56 L883.00,196.85 L884.00,197.13 L885.00,197.42 L886.00,197.70 L887.00,197.86 L888.00,198.01 L889.00,198.17 L890.00,198.32 L891.00,198.48 L892.00,198.63 L893.00,198.79 L894.00,198.94 L895.00,199.10 L896.00,199.34 L897.00,199.58 L898.00,199.82 L899.00,200.06 L900.00,200.30 L901.00,200.54 L902.00,200.78 L903.00,201.02 L904.00,201.26 L905.00,201.50 L906.00,201.74 L907.00,201.98 L908.00,202.22 L909.00,202.46 L910.00,202.70 L911.00,202.99 L912.00,203.27 L913.00,203.56 L914.00,203.85 L915.00,204.13 L916.00,204.42 L917.00,204.71 L918.00,204.99 L919.00,205.28 L920.00,205.57 L921.00,205.85 L922.00,206.14 L923.00,206.43 L924.00,206.71 L925.00,207.00 L926.00,207.50 L927.00,208.00 L928.00,208.50 L929.00,207.50 L930.00,206.50 L931.00,203.25 L932.00,203.05 L933.00,205.60 L934.00,205.60 L935.00,205.60 L936.00,205.60 L937.00,204.70 L938.00,203.80 L939.00,202.90 L940.00,202.00 L941.00,201.57 L942.00,201.14 L943.00,200.71 L944.00,200.28 L945.00,199.85 L946.00,199.42 L947.00,198.99 L948.00,198.56 L949.00,198.13 L950.00,197.70 L951.00,197.29 L952.00,196.87 L953.00,196.46 L954.00,196.04 L955.00,195.63 L956.00,195.21 L957.00,194.80 L958.00,194.98 L959.00,195.15 L960.00,195.32 L961.00,195.50 L962.00,195.68 L963.00,195.85 L964.00,196.02 L965.00,196.20 L966.00,196.70 L967.00,197.20 L968.00,197.70 L969.00,195.70 L970.00,193.70 L971.00,191.70 L972.00,189.70 L973.00,189.52 L974.00,189.35 L975.00,189.18 L976.00,189.00 L977.00,188.82 L978.00,188.65 L979.00,188.48 L980.00,188.30 L981.00,188.12 L982.00,187.94 L983.00,187.76 L984.00,187.58 L985.00,187.40 L986.00,187.22 L987.00,187.04 L988.00,186.86 L989.00,186.68 L990.00,186.50 L991.00,186.32 L992.00,186.14 L993.00,185.96 L994.00,185.78 L995.00,185.60 L996.00,185.42 L997.00,185.24 L998.00,185.06 L999.00,184.88 L1000.00,184.70 L1001.00,183.96 L1002.00,183.22 L1003.00,182.48 L1004.00,181.74 L1005.00,181.00 L1006.00,180.81 L1007.00,180.63 L1008.00,180.44 L1009.00,180.25 L1010.00,180.07 L1011.00,179.88 L1012.00,179.69 L1013.00,179.51 L1014.00,179.32 L1015.00,179.13 L1016.00,178.95 L1017.00,178.76 L1018.00,178.57 L1019.00,178.39 L1020.00,178.20 L1021.00,177.91 L1022.00,177.62 L1023.00,177.33 L1024.00,177.04 L1025.00,176.75 L1026.00,176.46 L1027.00,176.17 L1028.00,175.88 L1029.00,175.59 L1030.00,175.30 L1031.00,174.79 L1032.00,174.28 L1033.00,173.77 L1034.00,173.26 L1035.00,172.75 L1036.00,172.24 L1037.00,171.73 L1038.00,171.22 L1039.00,170.71 L1040.00,170.20 L1041.00,169.62 L1042.00,169.04 L1043.00,168.46 L1044.00,167.88 L1045.00,167.30 L1046.00,166.72 L1047.00,166.14 L1048.00,165.56 L1049.00,164.98 L1050.00,164.40 L1051.00,163.76 L1052.00,163.12 L1053.00,162.48 L1054.00,161.84 L1055.00,161.20 L1056.00,160.56 L1057.00,159.92 L1058.00,159.28 L1059.00,158.64 L1060.00,158.00 L1061.00,157.35 L1062.00,156.70 L1063.00,156.05 L1064.00,155.40 L1065.00,154.75 L1066.00,154.10 L1067.00,153.45 L1068.00,152.80 L1069.00,152.15 L1070.00,151.50 L1071.00,151.12 L1072.00,150.74 L1073.00,150.36 L1074.00,149.98 L1075.00,149.60 L1076.00,149.22 L1077.00,148.84 L1078.00,148.46 L1079.00,148.08 L1080.00,147.70 L1081.00,147.32 L1082.00,146.94 L1083.00,146.56 L1084.00,146.18 L1085.00,145.80 L1086.00,145.42 L1087.00,145.04 L1088.00,144.66 L1089.00,144.28 L1090.00,143.90 L1091.00,143.36 L1092.00,142.81 L1093.00,142.27 L1094.00,141.72 L1095.00,141.18 L1096.00,140.63 L1097.00,140.09 L1098.00,139.54 L1099.00,139.00 L1100.00,138.45 L1101.00,137.91 L1102.00,137.36 L1103.00,136.81 L1104.00,136.27 L1105.00,135.72 L1106.00,135.18 L1107.00,134.63 L1108.00,134.09 L1109.00,133.54 L1110.00,133.00 L1111.00,132.64 L1112.00,132.28 L1113.00,131.92 L1114.00,131.56 L1115.00,131.20 L1116.00,130.84 L1117.00,130.48 L1118.00,130.12 L1119.00,129.76 L1120.00,129.40 L1121.00,129.04 L1122.00,128.68 L1123.00,128.32 L1124.00,127.96 L1125.00,127.60 L1126.00,127.24 L1127.00,126.88 L1128.00,126.52 L1129.00,126.16 L1130.00,125.80 L1131.00,125.32 L1132.00,124.84 L1133.00,124.36 L1134.00,123.88 L1135.00,123.40 L1136.00,122.92 L1137.00,122.44 L1138.00,121.96 L1139.00,121.48 L1140.00,121.00 L1141.00,120.52 L1142.00,120.04 L1143.00,119.56 L1144.00,119.08 L1145.00,118.60 L1146.00,118.30 L1147.00,118.00 L1148.00,117.70 L1149.00,117.40 L1150.00,117.10 L1151.00,116.80 L1152.00,116.50 L1153.00,116.20 L1154.00,115.90 L1155.00,115.60 L1156.00,115.30 L1157.00,115.00 L1158.00,114.70 L1159.00,114.40 L1160.00,114.10 L1161.00,113.95 L1162.00,113.80 L1163.00,113.65 L1164.00,113.50 L1165.00,113.35 L1166.00,113.20 L1167.00,113.05 L1168.00,112.90 L1169.00,112.75 L1170.00,112.60 L1171.00,112.45 L1172.00,112.30 L1173.00,116.80 L1174.00,121.30 L1175.00,121.19 L1176.00,121.08 L1177.00,120.96 L1178.00,120.85 L1179.00,120.74 L1180.00,120.62 L1181.00,120.51 L1182.00,120.40 L1183.00,120.29 L1184.00,120.17 L1185.00,120.06 L1186.00,119.95 L1187.00,119.84 L1188.00,119.72 L1189.00,119.61 L1190.00,119.50 L1191.00,119.86 L1192.00,120.22 L1193.00,120.58 L1194.00,120.94 L1195.00,121.30 L1196.00,121.66 L1197.00,122.02 L1198.00,122.38 L1199.00,122.74 L1200.00,123.10 L1201.00,123.46 L1202.00,123.82 L1203.00,124.18 L1204.00,124.54 L1205.00,124.90 L1206.00,125.26 L1207.00,125.62 L1208.00,125.98 L1209.00,126.34 L1210.00,126.70 L1211.00,126.95 L1212.00,127.19 L1213.00,127.44 L1214.00,127.68 L1215.00,127.93 L1216.00,128.17 L1217.00,128.42 L1218.00,128.66 L1219.00,128.91 L1220.00,129.15 L1221.00,129.40 L1222.00,128.50 L1223.00,127.60 L1224.00,126.70 L1225.00,125.80 L1226.00,125.39 L1227.00,124.98 L1228.00,124.57 L1229.00,124.16 L1230.00,104.20 L1231.00,111.78 L1232.00,111.24 L1233.00,110.69 L1234.00,110.15 L1235.00,109.60 L1236.00,109.87 L1237.00,110.14 L1238.00,110.41 L1239.00,110.68 L1240.00,110.95 L1241.00,111.22 L1242.00,111.49 L1243.00,111.76 L1244.00,112.03 L1245.00,112.30 L1246.00,112.55 L1247.00,112.79 L1248.00,113.04 L1249.00,113.28 L1250.00,113.53 L1251.00,113.77 L1252.00,114.02 L1253.00,114.26 L1254.00,114.51 L1255.00,114.75 L1256.00,115.00 L1256.00,171.80 L1255.00,171.74 L1254.00,171.69 L1253.00,171.63 L1252.00,171.58 L1251.00,171.52 L1250.00,171.46 L1249.00,171.41 L1248.00,171.35 L1247.00,171.29 L1246.00,171.24 L1245.00,171.18 L1244.00,171.12 L1243.00,171.07 L1242.00,171.01 L1241.00,170.96 L1240.00,170.90 L1239.00,170.81 L1238.00,170.72 L1237.00,170.63 L1236.00,170.54 L1235.00,170.45 L1234.00,170.36 L1233.00,170.27 L1232.00,170.18 L1231.00,170.09 L1230.00,170.00 L1229.00,170.27 L1228.00,170.54 L1227.00,170.81 L1226.00,171.08 L1225.00,171.35 L1224.00,171.62 L1223.00,171.89 L1222.00,172.16 L1221.00,172.43 L1220.00,172.70 L1219.00,173.07 L1218.00,173.44 L1217.00,173.81 L1216.00,174.18 L1215.00,174.55 L1214.00,174.92 L1213.00,175.29 L1212.00,175.66 L1211.00,176.03 L1210.00,176.40 L1209.00,176.21 L1208.00,176.02 L1207.00,175.83 L1206.00,175.64 L1205.00,175.45 L1204.00,175.26 L1203.00,175.07 L1202.00,174.88 L1201.00,174.69 L1200.00,174.50 L1199.00,174.43 L1198.00,174.36 L1197.00,174.28 L1196.00,174.21 L1195.00,174.14 L1194.00,174.07 L1193.00,174.00 L1192.00,173.92 L1191.00,173.85 L1190.00,173.78 L1189.00,173.71 L1188.00,173.64 L1187.00,173.56 L1186.00,173.49 L1185.00,173.42 L1184.00,173.35 L1183.00,173.28 L1182.00,173.20 L1181.00,173.13 L1180.00,173.06 L1179.00,172.99 L1178.00,172.92 L1177.00,172.84 L1176.00,172.77 L1175.00,172.70 L1174.00,172.79 L1173.00,172.88 L1172.00,172.97 L1171.00,173.06 L1170.00,173.15 L1169.00,173.24 L1168.00,173.33 L1167.00,173.42 L1166.00,173.51 L1165.00,173.60 L1164.00,173.82 L1163.00,174.04 L1162.00,174.26 L1161.00,174.48 L1160.00,174.70 L1159.00,174.92 L1158.00,175.14 L1157.00,175.36 L1156.00,175.58 L1155.00,175.80 L1154.00,176.02 L1153.00,176.24 L1152.00,176.46 L1151.00,176.68 L1150.00,176.90 L1149.00,177.12 L1148.00,177.34 L1147.00,177.56 L1146.00,177.78 L1145.00,178.00 L1144.00,178.22 L1143.00,178.44 L1142.00,178.66 L1141.00,178.88 L1140.00,179.10 L1139.00,179.28 L1138.00,179.46 L1137.00,179.64 L1136.00,179.82 L1135.00,180.00 L1134.00,180.18 L1133.00,180.36 L1132.00,180.54 L1131.00,180.72 L1130.00,180.90 L1129.00,181.08 L1128.00,181.26 L1127.00,181.44 L1126.00,181.62 L1125.00,181.80 L1124.00,181.98 L1123.00,182.16 L1122.00,182.34 L1121.00,182.52 L1120.00,182.70 L1119.00,182.88 L1118.00,183.06 L1117.00,183.24 L1116.00,183.42 L1115.00,183.60 L1114.00,183.78 L1113.00,183.96 L1112.00,184.14 L1111.00,184.32 L1110.00,184.50 L1109.00,184.94 L1108.00,185.38 L1107.00,185.82 L1106.00,186.26 L1105.00,186.70 L1104.00,187.14 L1103.00,187.58 L1102.00,188.02 L1101.00,188.46 L1100.00,188.90 L1099.00,189.23 L1098.00,189.56 L1097.00,189.89 L1096.00,190.22 L1095.00,190.55 L1094.00,190.88 L1093.00,191.21 L1092.00,191.54 L1091.00,191.87 L1090.00,192.20 L1089.00,192.53 L1088.00,192.86 L1087.00,193.19 L1086.00,193.52 L1085.00,193.85 L1084.00,194.18 L1083.00,194.51 L1082.00,194.84 L1081.00,195.17 L1080.00,195.50 L1079.00,195.85 L1078.00,196.20 L1077.00,196.55 L1076.00,196.90 L1075.00,197.25 L1074.00,197.60 L1073.00,197.95 L1072.00,198.30 L1071.00,198.65 L1070.00,199.00 L1069.00,199.35 L1068.00,199.70 L1067.00,200.05 L1066.00,200.40 L1065.00,200.75 L1064.00,201.10 L1063.00,201.45 L1062.00,201.80 L1061.00,202.15 L1060.00,202.50 L1059.00,202.92 L1058.00,203.33 L1057.00,203.75 L1056.00,204.17 L1055.00,204.58 L1054.00,205.00 L1053.00,205.42 L1052.00,205.83 L1051.00,206.25 L1050.00,206.67 L1049.00,207.08 L1048.00,207.50 L1047.00,207.92 L1046.00,208.33 L1045.00,208.75 L1044.00,209.17 L1043.00,209.58 L1042.00,210.00 L1041.00,210.42 L1040.00,210.83 L1039.00,211.25 L1038.00,211.67 L1037.00,212.08 L1036.00,212.50 L1035.00,212.92 L1034.00,213.33 L1033.00,213.75 L1032.00,214.17 L1031.00,214.58 L1030.00,215.00 L1029.00,215.19 L1028.00,215.39 L1027.00,215.58 L1026.00,215.77 L1025.00,215.97 L1024.00,216.16 L1023.00,216.35 L1022.00,216.55 L1021.00,216.74 L1020.00,216.93 L1019.00,217.13 L1018.00,217.32 L1017.00,217.51 L1016.00,217.71 L1015.00,217.90 L1014.00,218.09 L1013.00,218.29 L1012.00,218.48 L1011.00,218.67 L1010.00,218.87 L1009.00,219.06 L1008.00,219.25 L1007.00,219.45 L1006.00,219.64 L1005.00,219.83 L1004.00,220.03 L1003.00,220.22 L1002.00,220.41 L1001.00,220.61 L1000.00,220.80 L999.00,220.95 L998.00,221.10 L997.00,221.24 L996.00,221.39 L995.00,221.54 L994.00,221.69 L993.00,221.84 L992.00,221.98 L991.00,222.13 L990.00,222.28 L989.00,222.43 L988.00,222.58 L987.00,222.72 L986.00,222.87 L985.00,223.02 L984.00,223.17 L983.00,223.32 L982.00,223.46 L981.00,223.61 L980.00,223.76 L979.00,223.91 L978.00,224.06 L977.00,224.20 L976.00,224.35 L975.00,224.50 L974.00,225.50 L973.00,226.50 L972.00,227.50 L971.00,228.50 L970.00,229.50 L969.00,229.48 L968.00,229.46 L967.00,229.44 L966.00,229.42 L965.00,229.40 L964.00,229.22 L963.00,229.05 L962.00,228.88 L961.00,228.70 L960.00,228.53 L959.00,228.35 L958.00,228.18 L957.00,228.00 L956.00,228.17 L955.00,228.34 L954.00,228.51 L953.00,228.68 L952.00,228.85 L951.00,229.02 L950.00,229.19 L949.00,229.36 L948.00,229.54 L947.00,229.71 L946.00,229.88 L945.00,230.05 L944.00,230.22 L943.00,230.39 L942.00,230.56 L941.00,230.73 L940.00,230.90 L939.00,231.08 L938.00,231.25 L937.00,231.43 L936.00,231.60 L935.00,231.78 L934.00,231.95 L933.00,232.12 L932.00,232.30 L931.00,232.47 L930.00,232.65 L929.00,232.82 L928.00,233.00 L927.00,232.90 L926.00,232.79 L925.00,232.69 L924.00,232.59 L923.00,232.48 L922.00,232.38 L921.00,232.28 L920.00,232.17 L919.00,232.07 L918.00,231.96 L917.00,231.86 L916.00,231.76 L915.00,231.65 L914.00,231.55 L913.00,231.45 L912.00,231.34 L911.00,231.24 L910.00,231.14 L909.00,231.03 L908.00,230.93 L907.00,230.82 L906.00,230.72 L905.00,230.62 L904.00,230.51 L903.00,230.41 L902.00,230.31 L901.00,230.20 L900.00,230.10 L899.00,230.05 L898.00,230.00 L897.00,229.94 L896.00,229.89 L895.00,229.84 L894.00,229.79 L893.00,229.74 L892.00,229.69 L891.00,229.63 L890.00,229.58 L889.00,229.53 L888.00,229.48 L887.00,229.43 L886.00,229.37 L885.00,229.32 L884.00,229.27 L883.00,229.22 L882.00,229.17 L881.00,229.11 L880.00,229.06 L879.00,229.01 L878.00,228.96 L877.00,228.91 L876.00,228.86 L875.00,228.80 L874.00,228.75 L873.00,228.70Z" fill="#9d9d9d"/>
<path d="M874.00,194.23V229.05M876.59,194.42V229.27M878.55,195.86V229.61M880.91,196.20V229.91M883.70,196.09V229.48M886.85,197.91V229.82M890.48,197.91V230.12M893.69,199.10V230.31M896.74,199.37V229.67M900.36,199.98V230.63M904.01,200.49V231.23M906.65,201.00V230.98M910.42,201.80V230.99M912.52,203.40V232.16M915.25,203.57V231.71M918.13,204.75V232.06M921.16,205.32V232.99M924.40,205.73V233.27M928.28,207.51V232.83M931.89,201.35V233.01M934.90,204.83V231.73M938.45,202.84V231.19M940.40,200.85V231.62M942.40,200.07V230.64M944.54,199.91V230.67M948.17,198.72V229.88M950.08,196.89V229.24M953.74,194.98V228.81M957.63,194.75V227.90M960.70,195.70V228.56M963.37,195.30V228.99M965.28,195.34V229.45M969.09,194.47V229.60M971.87,189.48V228.04M974.93,188.65V224.95M978.70,188.07V224.13M982.02,187.88V223.49M985.88,186.76V223.19M987.72,186.59V222.96M989.58,185.95V222.74M991.53,185.58V222.27M994.76,185.41V222.05M998.12,185.31V220.85M1001.34,182.56V220.52M1004.11,181.07V220.06M1006.69,180.52V219.61M1009.75,179.96V219.03M1013.17,179.73V218.58M1016.52,178.68V217.55M1020.01,178.14V216.84M1022.74,176.66V216.22M1025.23,176.48V216.54M1027.96,174.91V215.28M1030.48,174.38V215.47M1033.24,173.61V213.48M1036.16,172.17V213.02M1039.72,170.36V210.95M1043.22,167.67V210.08M1045.76,166.96V208.45M1049.23,164.74V207.07M1051.92,162.84V206.02M1055.66,160.85V204.02M1059.44,157.34V203.52M1062.16,155.47V202.46M1064.44,154.29V201.57M1067.64,152.55V199.84M1070.17,151.39V198.71M1073.22,150.15V198.47M1075.13,148.50V197.67M1078.87,147.08V196.58M1081.89,147.26V195.40M1084.07,146.00V194.59M1086.98,144.73V193.93M1090.07,143.65V192.15M1093.69,141.48V191.54M1096.24,140.50V190.43M1099.76,138.63V189.55M1103.49,135.64V187.97M1105.33,134.90V187.20M1107.25,134.39V185.70M1110.17,132.60V184.69M1113.61,132.00V183.61M1115.69,131.06V183.25M1119.54,128.59V182.58M1122.40,128.36V182.31M1124.95,126.95V182.15M1127.52,126.71V181.41M1129.60,125.41V181.46M1132.21,124.92V180.40M1134.81,122.89V180.60M1137.42,121.34V179.95M1140.14,120.68V179.32M1143.42,119.03V178.81M1146.20,118.17V178.03M1149.46,117.45V177.19M1152.17,115.43V177.15M1154.77,114.62V176.42M1157.13,114.56V175.17M1160.64,113.31V175.23M1164.11,112.78V174.30M1167.10,113.18V173.76M1168.93,112.84V173.80M1170.85,112.64V172.88M1174.50,121.28V172.47M1178.07,120.96V173.55M1181.29,119.53V173.90M1184.31,119.24V173.11M1187.73,119.29V174.10M1189.77,118.70V174.49M1191.72,119.93V174.22M1195.26,121.33V174.06M1197.60,121.61V174.86M1200.24,122.94V174.68M1202.79,123.78V174.82M1205.65,123.97V175.73M1209.02,126.41V176.67M1212.42,126.58V175.77M1215.24,127.32V175.15M1217.37,128.67V174.19M1221.10,128.83V172.59M1224.42,126.35V171.50M1226.65,124.55V170.95M1228.95,123.45V171.03M1231.39,110.81V170.28M1234.98,109.03V170.44M1237.26,110.47V170.88M1239.87,110.96V170.99M1242.36,110.73V170.89M1246.24,112.19V171.61M1249.04,112.34V172.01M1252.02,113.60V172.07" stroke="#8a8a8a" stroke-width="0.8" fill="none"/>
<path d="M873.50,388.80 L874.50,388.88 L875.50,388.96 L876.50,390.00 L877.50,392.00 L878.50,393.06 L879.50,393.19 L880.50,393.31 L881.50,393.44 L882.50,393.56 L883.50,393.69 L884.50,393.81 L885.50,393.94 L886.50,394.16 L887.50,394.49 L888.50,394.82 L889.50,395.15 L890.50,395.48 L891.50,395.81 L892.50,396.14 L893.50,396.46 L894.50,396.79 L895.50,397.12 L896.50,397.45 L897.50,397.78 L898.50,398.11 L899.50,398.44 L900.50,398.74 L901.50,399.03 L902.50,399.32 L903.50,399.60 L904.50,399.89 L905.50,400.18 L906.50,400.46 L907.50,400.75 L908.50,401.04 L909.50,401.32 L910.50,401.61 L911.50,401.90 L912.50,402.18 L913.50,402.47 L914.50,402.76 L915.50,403.07 L916.50,403.40 L917.50,403.73 L918.50,404.06 L919.50,404.39 L920.50,404.72 L921.50,405.05 L922.50,405.38 L923.50,405.71 L924.50,406.04 L925.50,406.37 L926.50,406.70 L927.50,407.03 L928.50,407.48 L929.50,408.02 L930.50,408.23 L931.50,408.07 L932.50,369.30 L933.50,396.40 L934.50,396.40 L935.50,396.40 L936.50,396.40 L937.50,396.33 L938.50,396.19 L939.50,396.06 L940.50,395.92 L941.50,395.78 L942.50,395.64 L943.50,395.51 L944.50,395.37 L945.50,395.21 L946.50,395.03 L947.50,394.84 L948.50,394.66 L949.50,394.48 L950.50,394.29 L951.50,394.11 L952.50,393.93 L953.50,393.74 L954.50,393.56 L955.50,393.38 L956.50,393.19 L957.50,393.10 L958.50,393.10 L959.50,393.10 L960.50,393.10 L961.50,393.10 L962.50,393.10 L963.50,393.10 L964.50,393.10 L965.50,393.10 L966.50,393.10 L967.50,393.10 L968.50,393.10 L969.50,393.10 L970.50,393.10 L971.50,393.10 L972.50,393.10 L973.50,393.10 L974.50,393.10 L975.50,393.06 L976.50,392.99 L977.50,392.92 L978.50,392.84 L979.50,392.77 L980.50,392.70 L981.50,392.62 L982.50,392.55 L983.50,392.48 L984.50,392.40 L985.50,392.33 L986.50,392.26 L987.50,392.18 L988.50,392.11 L989.50,392.04 L990.50,392.06 L991.50,392.17 L992.50,392.27 L993.50,392.38 L994.50,392.50 L995.50,392.61 L996.50,392.72 L997.50,392.83 L998.50,392.94 L999.50,393.05 L1000.50,393.17 L1001.50,393.32 L1002.50,393.47 L1003.50,393.61 L1004.50,393.76 L1005.50,393.91 L1006.50,394.05 L1007.50,394.20 L1008.50,394.35 L1009.50,394.49 L1010.50,394.64 L1011.50,394.79 L1012.50,394.93 L1013.50,395.08 L1014.50,395.23 L1015.50,395.37 L1016.50,395.52 L1017.50,395.67 L1018.50,395.81 L1019.50,395.96 L1020.50,396.11 L1021.50,396.25 L1022.50,396.40 L1023.50,396.55 L1024.50,396.69 L1025.50,396.84 L1026.50,396.99 L1027.50,397.13 L1028.50,397.28 L1029.50,397.43 L1030.50,397.50 L1031.50,397.50 L1032.50,397.50 L1033.50,397.50 L1034.50,397.50 L1035.50,397.50 L1036.50,397.50 L1037.50,397.50 L1038.50,397.50 L1039.50,397.50 L1040.50,397.50 L1041.50,397.50 L1042.50,397.50 L1043.50,397.50 L1044.50,397.50 L1045.50,397.50 L1046.50,397.50 L1047.50,397.50 L1048.50,397.50 L1049.50,397.50 L1050.50,397.50 L1051.50,397.50 L1052.50,397.50 L1053.50,397.50 L1054.50,397.50 L1055.50,397.50 L1056.50,397.50 L1057.50,397.50 L1058.50,397.50 L1059.50,397.50 L1060.50,397.50 L1061.50,397.50 L1062.50,397.50 L1063.50,397.50 L1064.50,397.50 L1065.50,397.50 L1066.50,397.50 L1067.50,397.50 L1068.50,397.50 L1069.50,397.50 L1070.50,397.50 L1071.50,397.50 L1072.50,397.50 L1073.50,397.50 L1074.50,397.50 L1075.50,397.50 L1076.50,397.50 L1077.50,397.50 L1078.50,397.50 L1079.50,397.50 L1080.50,397.52 L1081.50,397.57 L1082.50,397.62 L1083.50,397.66 L1084.50,397.71 L1085.50,397.76 L1086.50,397.80 L1087.50,397.85 L1088.50,397.90 L1089.50,397.94 L1090.50,397.99 L1091.50,398.04 L1092.50,398.08 L1093.50,398.13 L1094.50,398.18 L1095.50,398.22 L1096.50,398.27 L1097.50,398.32 L1098.50,398.36 L1099.50,398.41 L1100.50,398.46 L1101.50,398.50 L1102.50,398.55 L1103.50,398.60 L1104.50,398.64 L1105.50,398.69 L1106.50,398.74 L1107.50,398.78 L1108.50,398.83 L1109.50,398.88 L1110.50,398.91 L1111.50,398.92 L1112.50,398.93 L1113.50,398.95 L1114.50,398.96 L1115.50,398.97 L1116.50,398.99 L1117.50,399.00 L1118.50,399.01 L1119.50,399.03 L1120.50,399.04 L1121.50,399.05 L1122.50,399.07 L1123.50,399.08 L1124.50,399.09 L1125.50,399.11 L1126.50,399.12 L1127.50,399.13 L1128.50,399.15 L1129.50,399.16 L1130.50,399.17 L1131.50,399.19 L1132.50,399.20 L1133.50,399.21 L1134.50,399.23 L1135.50,399.24 L1136.50,399.25 L1137.50,399.27 L1138.50,399.28 L1139.50,399.29 L1140.50,399.33 L1141.50,399.38 L1142.50,399.44 L1143.50,399.50 L1144.50,399.55 L1145.50,399.61 L1146.50,399.67 L1147.50,399.72 L1148.50,399.78 L1149.50,399.83 L1150.50,399.89 L1151.50,399.95 L1152.50,400.00 L1153.50,400.06 L1154.50,400.12 L1155.50,400.17 L1156.50,400.23 L1157.50,400.28 L1158.50,400.34 L1159.50,400.40 L1160.50,400.45 L1161.50,400.51 L1162.50,400.57 L1163.50,400.62 L1164.50,400.68 L1165.50,400.73 L1166.50,400.79 L1167.50,400.85 L1168.50,400.90 L1169.50,400.96 L1170.50,401.02 L1171.50,401.07 L1172.50,401.90 L1173.50,403.50 L1174.50,404.30 L1175.50,404.30 L1176.50,404.30 L1177.50,404.30 L1178.50,404.30 L1179.50,404.30 L1180.50,404.30 L1181.50,404.30 L1182.50,404.30 L1183.50,404.30 L1184.50,404.30 L1185.50,404.30 L1186.50,404.30 L1187.50,404.30 L1188.50,404.30 L1189.50,404.30 L1190.50,404.41 L1191.50,404.63 L1192.50,404.85 L1193.50,405.07 L1194.50,405.29 L1195.50,405.51 L1196.50,405.73 L1197.50,405.95 L1198.50,406.17 L1199.50,406.39 L1200.50,406.59 L1201.50,406.77 L1202.50,406.95 L1203.50,407.13 L1204.50,407.31 L1205.50,407.49 L1206.50,407.67 L1207.50,407.85 L1208.50,408.03 L1209.50,408.21 L1210.50,408.38 L1211.50,408.55 L1212.50,408.71 L1213.50,408.87 L1214.50,409.04 L1215.50,409.20 L1216.50,409.36 L1217.50,409.53 L1218.50,409.69 L1219.50,409.85 L1220.50,410.02 L1221.50,410.78 L1222.50,412.12 L1223.50,413.48 L1224.50,414.82 L1225.50,415.37 L1226.50,415.11 L1227.50,414.86 L1228.50,414.60 L1229.50,414.34 L1230.50,414.09 L1231.50,413.83 L1232.50,412.20 L1233.50,409.20 L1234.50,406.20 L1235.50,404.65 L1236.50,404.56 L1237.50,404.48 L1238.50,404.38 L1239.50,404.30 L1240.50,404.20 L1241.50,404.12 L1242.50,404.02 L1243.50,403.94 L1244.50,403.85 L1245.50,403.76 L1246.50,403.68 L1247.50,403.59 L1248.50,403.51 L1249.50,403.43 L1250.50,403.35 L1251.50,403.27 L1252.50,403.18 L1253.50,403.10 L1254.50,403.02 L1255.50,402.94 L1256.50,402.85 L1257.50,402.77 L1258.50,402.69 L1259.50,402.61 L1260.50,402.52 L1260.80,402.50 L1260.80,495.00 L1260.50,495.00 L1259.50,494.99 L1258.50,494.99 L1257.50,494.98 L1256.50,494.98 L1255.50,494.97 L1254.50,494.97 L1253.50,494.96 L1252.50,494.96 L1251.50,494.95 L1250.50,494.95 L1249.50,494.94 L1248.50,494.94 L1247.50,494.93 L1246.50,494.93 L1245.50,494.92 L1244.50,494.92 L1243.50,494.91 L1242.50,494.91 L1241.50,494.90 L1240.50,494.90 L1239.50,494.89 L1238.50,494.88 L1237.50,494.88 L1236.50,494.87 L1235.50,494.87 L1234.50,494.86 L1233.50,494.86 L1232.50,494.85 L1231.50,494.85 L1230.50,494.84 L1229.50,494.84 L1228.50,494.83 L1227.50,494.83 L1226.50,494.82 L1225.50,494.82 L1224.50,494.81 L1223.50,494.81 L1222.50,494.80 L1221.50,494.80 L1220.50,494.79 L1219.50,494.79 L1218.50,494.78 L1217.50,494.78 L1216.50,494.77 L1215.50,494.77 L1214.50,494.76 L1213.50,494.76 L1212.50,494.75 L1211.50,494.75 L1210.50,494.74 L1209.50,494.74 L1208.50,494.73 L1207.50,494.72 L1206.50,494.72 L1205.50,494.71 L1204.50,494.71 L1203.50,494.70 L1202.50,494.70 L1201.50,494.69 L1200.50,494.69 L1199.50,494.68 L1198.50,494.68 L1197.50,494.67 L1196.50,494.67 L1195.50,494.66 L1194.50,494.66 L1193.50,494.65 L1192.50,494.65 L1191.50,494.64 L1190.50,494.64 L1189.50,494.63 L1188.50,494.63 L1187.50,494.62 L1186.50,494.62 L1185.50,494.61 L1184.50,494.61 L1183.50,494.60 L1182.50,494.60 L1181.50,494.59 L1180.50,494.59 L1179.50,494.58 L1178.50,494.58 L1177.50,494.57 L1176.50,494.56 L1175.50,494.56 L1174.50,494.55 L1173.50,494.55 L1172.50,494.54 L1171.50,494.54 L1170.50,494.53 L1169.50,494.53 L1168.50,494.52 L1167.50,494.52 L1166.50,494.51 L1165.50,494.51 L1164.50,494.50 L1163.50,494.50 L1162.50,494.49 L1161.50,494.49 L1160.50,494.48 L1159.50,494.48 L1158.50,494.47 L1157.50,494.47 L1156.50,494.46 L1155.50,494.46 L1154.50,494.45 L1153.50,494.45 L1152.50,494.44 L1151.50,494.44 L1150.50,494.43 L1149.50,494.43 L1148.50,494.42 L1147.50,494.41 L1146.50,494.41 L1145.50,494.40 L1144.50,494.40 L1143.50,494.39 L1142.50,494.39 L1141.50,494.38 L1140.50,494.38 L1139.50,494.37 L1138.50,494.37 L1137.50,494.36 L1136.50,494.36 L1135.50,494.35 L1134.50,494.35 L1133.50,494.34 L1132.50,494.34 L1131.50,494.33 L1130.50,494.33 L1129.50,494.32 L1128.50,494.32 L1127.50,494.31 L1126.50,494.31 L1125.50,494.30 L1124.50,494.30 L1123.50,494.29 L1122.50,494.29 L1121.50,494.28 L1120.50,494.28 L1119.50,494.27 L1118.50,494.27 L1117.50,494.26 L1116.50,494.25 L1115.50,494.25 L1114.50,494.24 L1113.50,494.24 L1112.50,494.23 L1111.50,494.23 L1110.50,494.22 L1109.50,494.22 L1108.50,494.21 L1107.50,494.21 L1106.50,494.20 L1105.50,494.20 L1104.50,494.19 L1103.50,494.19 L1102.50,494.18 L1101.50,494.18 L1100.50,494.17 L1099.50,494.17 L1098.50,494.16 L1097.50,494.16 L1096.50,494.15 L1095.50,494.15 L1094.50,494.14 L1093.50,494.14 L1092.50,494.13 L1091.50,494.13 L1090.50,494.12 L1089.50,494.12 L1088.50,494.11 L1087.50,494.11 L1086.50,494.10 L1085.50,494.09 L1084.50,494.09 L1083.50,494.08 L1082.50,494.08 L1081.50,494.07 L1080.50,494.07 L1079.50,494.06 L1078.50,494.06 L1077.50,494.05 L1076.50,494.05 L1075.50,494.04 L1074.50,494.04 L1073.50,494.03 L1072.50,494.03 L1071.50,494.02 L1070.50,494.02 L1069.50,494.01 L1068.50,494.01 L1067.50,494.00 L1066.50,494.00 L1065.50,493.99 L1064.50,493.99 L1063.50,493.98 L1062.50,493.98 L1061.50,493.97 L1060.50,493.97 L1059.50,493.96 L1058.50,493.96 L1057.50,493.95 L1056.50,493.95 L1055.50,493.94 L1054.50,493.93 L1053.50,493.93 L1052.50,493.92 L1051.50,493.92 L1050.50,493.91 L1049.50,493.91 L1048.50,493.90 L1047.50,493.90 L1046.50,493.89 L1045.50,493.89 L1044.50,493.88 L1043.50,493.88 L1042.50,493.87 L1041.50,493.87 L1040.50,493.86 L1039.50,493.86 L1038.50,493.85 L1037.50,493.85 L1036.50,493.84 L1035.50,493.84 L1034.50,493.83 L1033.50,493.83 L1032.50,493.82 L1031.50,493.82 L1030.50,493.81 L1029.50,493.81 L1028.50,493.80 L1027.50,493.80 L1026.50,493.79 L1025.50,493.78 L1024.50,493.78 L1023.50,493.77 L1022.50,493.77 L1021.50,493.76 L1020.50,493.76 L1019.50,493.75 L1018.50,493.75 L1017.50,493.74 L1016.50,493.74 L1015.50,493.73 L1014.50,493.73 L1013.50,493.72 L1012.50,493.72 L1011.50,493.71 L1010.50,493.71 L1009.50,493.70 L1008.50,493.70 L1007.50,493.69 L1006.50,493.69 L1005.50,493.68 L1004.50,493.68 L1003.50,493.67 L1002.50,493.67 L1001.50,493.66 L1000.50,493.66 L999.50,493.65 L998.50,493.65 L997.50,493.64 L996.50,493.64 L995.50,493.63 L994.50,493.62 L993.50,493.62 L992.50,493.61 L991.50,493.61 L990.50,493.60 L989.50,493.60 L988.50,493.59 L987.50,493.59 L986.50,493.58 L985.50,493.58 L984.50,493.57 L983.50,493.57 L982.50,493.56 L981.50,493.56 L980.50,493.55 L979.50,493.55 L978.50,493.54 L977.50,493.54 L976.50,493.53 L975.50,493.53 L974.50,493.52 L973.50,493.52 L972.50,493.51 L971.50,493.51 L970.50,493.50 L969.50,493.50 L968.50,493.49 L967.50,493.49 L966.50,493.48 L965.50,493.48 L964.50,493.47 L963.50,493.46 L962.50,493.46 L961.50,493.45 L960.50,493.45 L959.50,493.44 L958.50,493.44 L957.50,493.43 L956.50,493.43 L955.50,493.42 L954.50,493.42 L953.50,493.41 L952.50,493.41 L951.50,493.40 L950.50,493.40 L949.50,493.39 L948.50,493.39 L947.50,493.38 L946.50,493.38 L945.50,493.37 L944.50,493.37 L943.50,493.36 L942.50,493.36 L941.50,493.35 L940.50,493.35 L939.50,493.34 L938.50,493.34 L937.50,493.33 L936.50,493.33 L935.50,493.32 L934.50,493.32 L933.50,493.31 L932.50,493.30 L931.50,493.30 L930.50,493.29 L929.50,493.29 L928.50,493.28 L927.50,493.28 L926.50,493.27 L925.50,493.27 L924.50,493.26 L923.50,493.26 L922.50,493.25 L921.50,493.25 L920.50,493.24 L919.50,493.24 L918.50,493.23 L917.50,493.23 L916.50,493.22 L915.50,493.22 L914.50,493.21 L913.50,493.21 L912.50,493.20 L911.50,493.20 L910.50,493.19 L909.50,493.19 L908.50,493.18 L907.50,493.18 L906.50,493.17 L905.50,493.17 L904.50,493.16 L903.50,493.15 L902.50,493.15 L901.50,493.14 L900.50,493.14 L899.50,493.13 L898.50,493.13 L897.50,493.12 L896.50,493.12 L895.50,493.11 L894.50,493.11 L893.50,493.10 L892.50,493.10 L891.50,493.09 L890.50,493.09 L889.50,493.08 L888.50,493.08 L887.50,493.07 L886.50,493.07 L885.50,493.06 L884.50,493.06 L883.50,493.05 L882.50,493.05 L881.50,493.04 L880.50,493.04 L879.50,493.03 L878.50,493.03 L877.50,493.02 L876.50,493.02 L875.50,493.01 L874.50,493.01 L873.50,493.00Z" fill="#9dd19d"/>
<path d="M874.50,388.83V492.82M877.14,391.36V492.79M879.80,392.15V493.61M883.21,393.62V493.34M885.61,393.99V492.88M887.87,393.52V493.69M891.37,394.86V493.01M893.83,395.93V493.61M897.43,396.74V492.92M900.51,398.04V493.40M902.70,398.96V492.95M906.47,399.46V493.47M908.91,400.09V493.51M912.57,401.23V493.46M915.25,402.38V493.39M917.40,403.54V493.82M919.31,404.56V493.63M921.72,404.62V493.47M924.25,404.76V493.18M926.93,406.84V493.67M929.32,407.69V493.81M931.81,407.49V494.00M933.84,396.61V493.26M937.25,395.74V493.29M939.76,396.05V493.55M941.67,395.01V494.04M945.47,394.41V494.13M947.33,394.74V494.14M950.76,393.93V494.14M953.88,392.75V493.44M956.09,392.90V493.28M958.71,391.96V493.50M960.55,393.33V493.34M964.00,392.86V493.49M966.02,391.93V493.64M968.27,393.31V493.25M970.44,392.38V493.37M972.35,392.66V493.48M976.24,393.13V493.81M979.67,392.44V494.33M982.49,392.49V493.71M984.38,392.08V493.55M988.05,391.20V493.84M989.94,391.92V493.57M992.19,392.19V494.27M994.31,392.70V494.34M997.30,391.62V493.78M1001.00,392.56V494.23M1004.36,393.30V493.48M1006.62,393.06V494.38M1010.37,394.42V494.13M1013.85,394.47V494.32M1016.77,394.88V494.19M1019.15,394.82V494.50M1021.12,395.04V494.52M1024.33,396.90V494.47M1026.42,395.82V494.22M1028.36,397.31V494.20M1031.37,396.68V494.54M1033.64,397.80V494.54M1035.49,396.49V493.66M1038.99,396.63V494.52M1041.96,396.48V493.79M1045.17,397.30V494.57M1048.60,397.09V494.18M1050.48,397.75V494.27M1053.31,396.50V494.30M1055.42,397.26V494.48M1058.33,397.78V494.58M1061.87,397.67V494.27M1064.48,396.62V494.03M1066.79,397.07V494.76M1068.81,397.63V494.39M1072.47,397.03V494.20M1076.07,396.64V493.82M1079.73,397.51V494.10M1083.29,397.32V494.66M1085.46,396.74V493.99M1087.59,397.41V494.18M1090.53,396.94V494.60M1092.37,397.91V494.43M1095.20,397.44V494.38M1097.17,398.23V494.79M1099.74,397.57V494.95M1102.86,397.85V494.55M1105.33,397.61V494.41M1109.05,398.70V494.87M1112.50,398.31V494.42M1114.62,398.10V494.34M1117.81,399.10V494.05M1119.93,398.12V494.17M1123.63,398.82V494.63M1126.18,398.48V494.11M1128.84,398.05V494.22M1132.02,399.00V494.37M1133.88,399.49V495.09M1137.43,398.36V494.95M1141.23,399.43V494.73M1144.08,398.97V495.13M1147.48,398.57V494.24M1150.66,399.19V494.95M1153.77,399.13V494.48M1157.51,399.98V494.83M1161.20,399.74V494.53M1163.50,400.43V494.89M1167.39,399.79V494.66M1170.05,400.06V494.54M1172.72,402.53V494.45M1175.67,403.56V494.94M1178.24,403.17V494.96M1180.39,404.50V495.36M1184.26,403.22V494.97M1186.73,404.46V494.60M1189.01,403.21V495.31M1192.45,404.92V494.61M1194.89,404.25V494.54M1198.36,405.42V494.98M1202.17,406.80V494.97M1204.32,407.43V494.44M1206.80,407.84V494.49M1210.68,408.28V495.42M1213.96,408.15V495.18M1217.77,408.55V495.27M1220.75,409.32V495.29M1223.72,413.32V494.68M1227.30,414.48V494.60M1229.47,413.34V494.82M1232.10,412.68V495.50M1234.60,405.61V495.03M1236.48,403.55V494.60M1240.30,404.29V494.77M1243.88,402.97V494.87M1246.85,403.23V495.42M1249.06,402.53V495.74M1252.35,402.11V495.69M1254.96,402.01V495.59M1258.00,402.87V495.37" stroke="#8cc48c" stroke-width="0.8" fill="none"/>
<line x1="227.90" y1="383.00" x2="227.90" y2="363.50" stroke="#b5dcb5" stroke-width="0.9"/>
<line x1="226.80" y1="246.00" x2="226.80" y2="254.50" stroke="#aaaaaa" stroke-width="0.9"/>
<line x1="1244.30" y1="404.00" x2="1244.30" y2="392.50" stroke="#b5dcb5" stroke-width="0.9"/>
<line x1="1209.50" y1="408.00" x2="1209.50" y2="401.50" stroke="#9dd19d" stroke-width="1.0"/>
<line x1="1211.50" y1="408.00" x2="1211.50" y2="403.00" stroke="#9dd19d" stroke-width="1.0"/>
<line x1="1213.50" y1="408.00" x2="1213.50" y2="402.00" stroke="#9dd19d" stroke-width="1.0"/>
<line x1="478.00" y1="209.00" x2="478.00" y2="196.00" stroke="#aaaaaa" stroke-width="0.9"/>
<rect x="138.90" y="175.80" width="42.10" height="347.40" fill="rgb(0,0,255)" fill-opacity="0.25"/>
<rect x="423.20" y="176.30" width="51.10" height="347.10" fill="rgb(0,0,255)" fill-opacity="0.25"/>
<rect x="885.70" y="106.30" width="42.50" height="416.60" fill="rgb(0,0,255)" fill-opacity="0.25"/>
<rect x="1173.10" y="106.20" width="49.20" height="417.10" fill="rgb(0,0,255)" fill-opacity="0.25"/>
<rect x="138.90" y="175.80" width="42.10" height="347.40" fill="none" stroke="#000" stroke-width="2.3" stroke-dasharray="4.9 4.4"/>
<rect x="189.10" y="173.80" width="18.60" height="349.40" fill="none" stroke="#000" stroke-width="2.3" stroke-dasharray="4.9 4.4"/>
<rect x="423.20" y="176.30" width="51.10" height="347.10" fill="none" stroke="#000" stroke-width="2.3" stroke-dasharray="4.9 4.4"/>
<rect x="482.60" y="174.10" width="19.10" height="349.30" fill="none" stroke="#000" stroke-width="2.3" stroke-dasharray="4.9 4.4"/>
<rect x="885.70" y="106.30" width="42.50" height="416.60" fill="none" stroke="#000" stroke-width="2.3" stroke-dasharray="4.9 4.4"/>
<rect x="937.70" y="106.30" width="19.00" height="416.60" fill="none" stroke="#000" stroke-width="2.3" stroke-dasharray="4.9 4.4"/>
<rect x="1173.10" y="106.20" width="49.20" height="417.10" fill="none" stroke="#000" stroke-width="2.3" stroke-dasharray="4.9 4.4"/>
<rect x="1233.50" y="106.20" width="20.50" height="417.10" fill="none" stroke="#000" stroke-width="2.3" stroke-dasharray="4.9 4.4"/>
<path d="M204,173.7 L224.9,174.2 L214.2,200.4 Z" fill="#000"/>
<path d="M949.4,163.2 L970.7,163.4 L959.9,189 Z" fill="#000"/>
<line x1="127.60" y1="92.30" x2="127.60" y2="268.60" stroke="#000" stroke-width="2.0"/>
<line x1="121.40" y1="106.70" x2="128.60" y2="106.70" stroke="#000" stroke-width="2.0"/>
<line x1="121.40" y1="173.90" x2="128.60" y2="173.90" stroke="#000" stroke-width="2.0"/>
<line x1="121.40" y1="240.90" x2="128.60" y2="240.90" stroke="#000" stroke-width="2.0"/>
<path d="M121.40,334.70 H127.60 V512.00 H121.40" fill="none" stroke="#000" stroke-width="2"/>
<line x1="121.40" y1="356.86" x2="128.60" y2="356.86" stroke="#000" stroke-width="2.0"/>
<line x1="121.40" y1="379.02" x2="128.60" y2="379.02" stroke="#000" stroke-width="2.0"/>
<line x1="121.40" y1="401.19" x2="128.60" y2="401.19" stroke="#000" stroke-width="2.0"/>
<line x1="121.40" y1="423.35" x2="128.60" y2="423.35" stroke="#000" stroke-width="2.0"/>
<line x1="121.40" y1="445.51" x2="128.60" y2="445.51" stroke="#000" stroke-width="2.0"/>
<line x1="121.40" y1="467.68" x2="128.60" y2="467.68" stroke="#000" stroke-width="2.0"/>
<line x1="121.40" y1="489.84" x2="128.60" y2="489.84" stroke="#000" stroke-width="2.0"/>
<line x1="872.70" y1="92.30" x2="872.70" y2="268.60" stroke="#000" stroke-width="2.0"/>
<line x1="866.50" y1="106.60" x2="873.70" y2="106.60" stroke="#000" stroke-width="2.0"/>
<line x1="866.50" y1="173.70" x2="873.70" y2="173.70" stroke="#000" stroke-width="2.0"/>
<line x1="866.50" y1="240.90" x2="873.70" y2="240.90" stroke="#000" stroke-width="2.0"/>
<path d="M866.50,334.70 H872.70 V512.30 H866.50" fill="none" stroke="#000" stroke-width="2"/>
<line x1="866.50" y1="356.90" x2="873.70" y2="356.90" stroke="#000" stroke-width="2.0"/>
<line x1="866.50" y1="379.10" x2="873.70" y2="379.10" stroke="#000" stroke-width="2.0"/>
<line x1="866.50" y1="401.30" x2="873.70" y2="401.30" stroke="#000" stroke-width="2.0"/>
<line x1="866.50" y1="423.50" x2="873.70" y2="423.50" stroke="#000" stroke-width="2.0"/>
<line x1="866.50" y1="445.70" x2="873.70" y2="445.70" stroke="#000" stroke-width="2.0"/>
<line x1="866.50" y1="467.90" x2="873.70" y2="467.90" stroke="#000" stroke-width="2.0"/>
<line x1="866.50" y1="490.10" x2="873.70" y2="490.10" stroke="#000" stroke-width="2.0"/>
<line x1="284.20" y1="280.10" x2="302.30" y2="280.10" stroke="#000" stroke-width="1.9"/>
<line x1="287.00" y1="523.70" x2="305.70" y2="523.70" stroke="#000" stroke-width="1.9"/>
<line x1="1019.50" y1="266.10" x2="1038.50" y2="266.10" stroke="#000" stroke-width="1.9"/>
<line x1="1039.20" y1="523.90" x2="1058.00" y2="523.90" stroke="#000" stroke-width="1.9"/>
<line x1="137.20" y1="949.00" x2="223.70" y2="949.00" stroke="#000" stroke-width="2.9"/>
<line x1="137.20" y1="1302.70" x2="223.70" y2="1302.70" stroke="#000" stroke-width="2.7"/>
<line x1="882.20" y1="949.00" x2="968.70" y2="949.00" stroke="#000" stroke-width="2.9"/>
<line x1="882.20" y1="1302.70" x2="968.70" y2="1302.70" stroke="#000" stroke-width="2.7"/>
<line x1="126.60" y1="1736.80" x2="293.40" y2="1736.80" stroke="#000" stroke-width="2.6"/>
<line x1="872.00" y1="1738.30" x2="1039.00" y2="1738.30" stroke="#000" stroke-width="1.9"/>
<line x1="126.90" y1="751.20" x2="126.90" y2="937.00" stroke="#000" stroke-width="2.6"/>
<line x1="119.30" y1="751.20" x2="128.10" y2="751.20" stroke="#000" stroke-width="2.4"/>
<line x1="119.30" y1="805.67" x2="128.10" y2="805.67" stroke="#000" stroke-width="2.4"/>
<line x1="119.30" y1="860.13" x2="128.10" y2="860.13" stroke="#000" stroke-width="2.4"/>
<line x1="119.30" y1="914.60" x2="128.10" y2="914.60" stroke="#000" stroke-width="2.4"/>
<line x1="561.60" y1="751.10" x2="561.60" y2="936.40" stroke="#000" stroke-width="2.6"/>
<line x1="560.40" y1="751.10" x2="567.00" y2="751.10" stroke="#000" stroke-width="2.4"/>
<line x1="560.40" y1="805.67" x2="567.00" y2="805.67" stroke="#000" stroke-width="2.4"/>
<line x1="560.40" y1="860.23" x2="567.00" y2="860.23" stroke="#000" stroke-width="2.4"/>
<line x1="560.40" y1="914.80" x2="567.00" y2="914.80" stroke="#000" stroke-width="2.4"/>
<line x1="126.90" y1="1103.60" x2="126.90" y2="1290.20" stroke="#000" stroke-width="2.6"/>
<line x1="119.30" y1="1103.60" x2="128.10" y2="1103.60" stroke="#000" stroke-width="2.4"/>
<line x1="119.30" y1="1158.37" x2="128.10" y2="1158.37" stroke="#000" stroke-width="2.4"/>
<line x1="119.30" y1="1213.13" x2="128.10" y2="1213.13" stroke="#000" stroke-width="2.4"/>
<line x1="119.30" y1="1267.90" x2="128.10" y2="1267.90" stroke="#000" stroke-width="2.4"/>
<line x1="561.60" y1="1104.50" x2="561.60" y2="1289.50" stroke="#000" stroke-width="2.6"/>
<line x1="560.40" y1="1104.50" x2="567.00" y2="1104.50" stroke="#000" stroke-width="2.4"/>
<line x1="560.40" y1="1159.07" x2="567.00" y2="1159.07" stroke="#000" stroke-width="2.4"/>
<line x1="560.40" y1="1213.63" x2="567.00" y2="1213.63" stroke="#000" stroke-width="2.4"/>
<line x1="560.40" y1="1268.20" x2="567.00" y2="1268.20" stroke="#000" stroke-width="2.4"/>
<line x1="127.30" y1="1523.70" x2="127.30" y2="1708.90" stroke="#000" stroke-width="2.6"/>
<line x1="119.70" y1="1523.70" x2="128.50" y2="1523.70" stroke="#000" stroke-width="2.4"/>
<line x1="119.70" y1="1581.40" x2="128.50" y2="1581.40" stroke="#000" stroke-width="2.4"/>
<line x1="119.70" y1="1639.10" x2="128.50" y2="1639.10" stroke="#000" stroke-width="2.4"/>
<line x1="119.70" y1="1696.80" x2="128.50" y2="1696.80" stroke="#000" stroke-width="2.4"/>
<line x1="561.70" y1="1524.00" x2="561.70" y2="1708.90" stroke="#000" stroke-width="2.6"/>
<line x1="560.50" y1="1524.00" x2="567.10" y2="1524.00" stroke="#000" stroke-width="2.4"/>
<line x1="560.50" y1="1585.33" x2="567.10" y2="1585.33" stroke="#000" stroke-width="2.4"/>
<line x1="560.50" y1="1646.67" x2="567.10" y2="1646.67" stroke="#000" stroke-width="2.4"/>
<line x1="560.50" y1="1708.00" x2="567.10" y2="1708.00" stroke="#000" stroke-width="2.4"/>
<line x1="872.60" y1="751.40" x2="872.60" y2="936.70" stroke="#000" stroke-width="2.6"/>
<line x1="865.00" y1="751.40" x2="873.80" y2="751.40" stroke="#000" stroke-width="2.4"/>
<line x1="865.00" y1="805.73" x2="873.80" y2="805.73" stroke="#000" stroke-width="2.4"/>
<line x1="865.00" y1="860.07" x2="873.80" y2="860.07" stroke="#000" stroke-width="2.4"/>
<line x1="865.00" y1="914.40" x2="873.80" y2="914.40" stroke="#000" stroke-width="2.4"/>
<line x1="1306.70" y1="751.00" x2="1306.70" y2="936.60" stroke="#000" stroke-width="2.6"/>
<line x1="1305.50" y1="751.00" x2="1312.10" y2="751.00" stroke="#000" stroke-width="2.4"/>
<line x1="1305.50" y1="805.60" x2="1312.10" y2="805.60" stroke="#000" stroke-width="2.4"/>
<line x1="1305.50" y1="860.20" x2="1312.10" y2="860.20" stroke="#000" stroke-width="2.4"/>
<line x1="1305.50" y1="914.80" x2="1312.10" y2="914.80" stroke="#000" stroke-width="2.4"/>
<line x1="872.60" y1="1103.60" x2="872.60" y2="1290.20" stroke="#000" stroke-width="2.6"/>
<line x1="865.00" y1="1103.60" x2="873.80" y2="1103.60" stroke="#000" stroke-width="2.4"/>
<line x1="865.00" y1="1158.37" x2="873.80" y2="1158.37" stroke="#000" stroke-width="2.4"/>
<line x1="865.00" y1="1213.13" x2="873.80" y2="1213.13" stroke="#000" stroke-width="2.4"/>
<line x1="865.00" y1="1267.90" x2="873.80" y2="1267.90" stroke="#000" stroke-width="2.4"/>
<line x1="1306.70" y1="1104.90" x2="1306.70" y2="1289.00" stroke="#000" stroke-width="2.6"/>
<line x1="1305.50" y1="1104.90" x2="1312.10" y2="1104.90" stroke="#000" stroke-width="2.4"/>
<line x1="1305.50" y1="1159.27" x2="1312.10" y2="1159.27" stroke="#000" stroke-width="2.4"/>
<line x1="1305.50" y1="1213.63" x2="1312.10" y2="1213.63" stroke="#000" stroke-width="2.4"/>
<line x1="1305.50" y1="1268.00" x2="1312.10" y2="1268.00" stroke="#000" stroke-width="2.4"/>
<line x1="872.50" y1="1523.70" x2="872.50" y2="1708.30" stroke="#000" stroke-width="2.6"/>
<line x1="864.90" y1="1523.70" x2="873.70" y2="1523.70" stroke="#000" stroke-width="2.4"/>
<line x1="864.90" y1="1581.43" x2="873.70" y2="1581.43" stroke="#000" stroke-width="2.4"/>
<line x1="864.90" y1="1639.17" x2="873.70" y2="1639.17" stroke="#000" stroke-width="2.4"/>
<line x1="864.90" y1="1696.90" x2="873.70" y2="1696.90" stroke="#000" stroke-width="2.4"/>
<line x1="1306.70" y1="1524.00" x2="1306.70" y2="1708.90" stroke="#000" stroke-width="2.6"/>
<line x1="1305.50" y1="1524.00" x2="1312.10" y2="1524.00" stroke="#000" stroke-width="2.4"/>
<line x1="1305.50" y1="1585.33" x2="1312.10" y2="1585.33" stroke="#000" stroke-width="2.4"/>
<line x1="1305.50" y1="1646.67" x2="1312.10" y2="1646.67" stroke="#000" stroke-width="2.4"/>
<line x1="1305.50" y1="1708.00" x2="1312.10" y2="1708.00" stroke="#000" stroke-width="2.4"/>
<path d="M128.00,863.00 L128.52,862.98 L129.04,862.96 L129.55,862.95 L130.07,862.93 L130.59,862.91 L131.11,862.89 L131.63,862.87 L132.15,862.85 L132.66,862.84 L133.18,862.82 L133.70,862.80 L134.20,861.67 L134.70,860.54 L135.20,859.42 L135.70,858.31 L136.20,857.21 L136.70,856.13 L137.20,855.07 L137.70,854.02 L138.20,852.98 L138.70,851.95 L139.20,850.93 L139.70,849.91 L140.20,848.89 L140.73,847.86 L141.25,846.82 L141.78,845.78 L142.31,844.75 L142.84,843.75 L143.36,842.78 L143.89,841.86 L144.42,841.02 L144.95,840.25 L145.47,839.55 L146.00,838.94 L146.51,838.40 L147.03,837.91 L147.54,837.47 L148.06,837.06 L148.57,836.68 L149.09,836.33 L149.60,836.00 L150.11,835.69 L150.63,835.41 L151.14,835.14 L151.66,834.89 L152.17,834.65 L152.69,834.43 L153.20,834.22 L153.73,834.03 L154.25,833.83 L154.78,833.65 L155.31,833.48 L155.84,833.32 L156.36,833.17 L156.89,833.04 L157.42,832.94 L157.95,832.85 L158.47,832.79 L159.00,832.75 L159.51,832.72 L160.02,832.71 L160.54,832.70 L161.05,832.70 L161.56,832.70 L162.07,832.70 L162.58,832.70 L163.09,832.70 L163.61,832.70 L164.12,832.70 L164.63,832.70 L165.14,832.70 L165.65,832.70 L166.16,832.71 L166.68,832.72 L167.19,832.74 L167.70,832.78 L168.22,832.85 L168.74,832.95 L169.25,833.09 L169.77,833.27 L170.29,833.48 L170.81,833.72 L171.33,833.99 L171.85,834.28 L172.36,834.59 L172.88,834.92 L173.40,835.27 L173.93,835.64 L174.45,836.04 L174.98,836.48 L175.51,836.94 L176.04,837.44 L176.56,837.97 L177.09,838.52 L177.62,839.10 L178.15,839.69 L178.67,840.30 L179.20,840.92 L179.70,841.57 L180.20,842.24 L180.70,842.93 L181.20,843.64 L181.70,844.38 L182.20,845.14 L182.70,845.91 L183.20,846.70 L183.73,845.97 L184.27,845.28 L184.80,844.66 L185.33,844.14 L185.87,843.74 L186.40,843.45 L186.93,843.25 L187.46,843.13 L187.99,843.06 L188.52,843.02 L189.05,842.99 L189.58,842.97 L190.11,842.96 L190.64,842.95 L191.17,842.95 L191.70,842.96 L192.21,842.97 L192.72,842.99 L193.23,843.02 L193.74,843.06 L194.26,843.11 L194.77,843.17 L195.28,843.24 L195.79,843.31 L196.30,843.39 L196.81,843.48 L197.32,843.57 L197.83,843.67 L198.34,843.77 L198.86,843.87 L199.37,843.98 L199.88,844.08 L200.39,844.19 L200.90,844.30 L201.40,844.42 L201.90,844.55 L202.40,844.68 L202.90,844.82 L203.40,844.98 L203.90,845.14 L204.40,845.30 L204.90,845.48 L205.40,845.66 L205.90,845.84 L206.40,846.03 L206.90,846.22 L207.40,846.42 L207.90,846.61 L208.40,846.80 L208.90,846.99 L209.40,847.17 L209.90,847.36 L210.40,847.54 L210.90,847.71 L211.40,847.87 L211.90,848.03 L212.40,848.19 L212.91,848.34 L213.43,848.49 L213.94,848.64 L214.45,848.78 L214.96,848.92 L215.48,849.06 L215.99,849.20 L216.50,849.34 L217.02,849.48 L217.53,849.61 L218.04,849.75 L218.55,849.88 L219.07,850.01 L219.58,850.14 L220.09,850.27 L220.61,850.40 L221.12,850.52 L221.63,850.65 L222.15,850.77 L222.66,850.89 L223.17,851.01 L223.68,851.13 L224.20,851.24 L224.71,851.36 L225.22,851.47 L225.74,851.58 L226.25,851.69 L226.76,851.80 L227.27,851.90 L227.79,852.01 L228.30,852.11 L228.80,852.21 L229.30,852.31 L229.80,852.40 L230.31,852.50 L230.81,852.59 L231.31,852.68 L231.81,852.77 L232.31,852.86 L232.81,852.95 L233.31,853.04 L233.82,853.13 L234.32,853.21 L234.82,853.30 L235.32,853.38 L235.82,853.47 L236.32,853.55 L236.82,853.63 L237.32,853.71 L237.83,853.79 L238.33,853.87 L238.83,853.95 L239.33,854.03 L239.83,854.10 L240.33,854.18 L240.83,854.26 L241.34,854.33 L241.84,854.41 L242.34,854.48 L242.84,854.56 L243.34,854.63 L243.84,854.71 L244.34,854.78 L244.85,854.85 L245.35,854.92 L245.85,855.00 L246.35,855.07 L246.85,855.14 L247.35,855.21 L247.85,855.28 L248.36,855.36 L248.86,855.43 L249.36,855.50 L249.86,855.57 L250.36,855.64 L250.86,855.71 L251.36,855.79 L251.87,855.86 L252.37,855.93 L252.87,856.00 L253.37,856.08 L253.87,856.15 L254.37,856.22 L254.87,856.30 L255.37,856.37 L255.88,856.44 L256.38,856.52 L256.88,856.59 L257.38,856.67 L257.88,856.75 L258.38,856.82 L258.88,856.90 L259.39,856.98 L259.89,857.06 L260.39,857.14 L260.89,857.22 L261.39,857.30 L261.89,857.38 L262.39,857.47 L262.90,857.55 L263.40,857.63 L263.90,857.72 L264.40,857.81 L264.90,857.90 L265.40,857.99 L265.91,858.09 L266.41,858.19 L266.91,858.29 L267.41,858.39 L267.92,858.50 L268.42,858.60 L268.92,858.71 L269.42,858.82 L269.93,858.94 L270.43,859.05 L270.93,859.16 L271.43,859.28 L271.93,859.40 L272.44,859.51 L272.94,859.63 L273.44,859.74 L273.94,859.86 L274.45,859.97 L274.95,860.09 L275.45,860.20 L275.95,860.31 L276.46,860.42 L276.96,860.53 L277.46,860.63 L277.96,860.73 L278.47,860.84 L278.97,860.93 L279.47,861.03 L279.97,861.12 L280.47,861.21 L280.98,861.29 L281.48,861.37 L281.98,861.45 L282.48,861.52 L282.99,861.59 L283.49,861.65 L283.99,861.71 L284.49,861.76 L285.00,861.81 L285.50,861.85 L286.00,861.89 L286.50,861.92 L287.00,861.96 L287.50,861.99 L288.00,862.02 L288.50,862.05 L289.00,862.08 L289.50,862.11 L290.00,862.14 L290.50,862.17 L291.00,862.19 L291.50,862.22 L292.00,862.24 L292.50,862.27 L293.00,862.29 L293.50,862.32 L294.00,862.34 L294.50,862.36 L295.00,862.38 L295.50,862.39 L296.00,862.41 L296.50,862.43 L297.00,862.44 L297.50,862.45 L298.00,862.46 L298.50,862.47 L299.00,862.48 L299.50,862.49 L300.00,862.49 L300.50,862.50 L301.00,862.50 L301.50,861.37 L302.00,860.24 L302.50,859.12 L303.00,858.01 L303.50,856.91 L304.00,855.83 L304.50,854.77 L305.00,853.72 L305.50,852.68 L306.00,851.65 L306.50,850.63 L307.00,849.61 L307.50,848.59 L308.03,847.56 L308.55,846.52 L309.08,845.48 L309.61,844.45 L310.14,843.45 L310.66,842.48 L311.19,841.56 L311.72,840.72 L312.25,839.95 L312.77,839.25 L313.30,838.64 L313.81,838.10 L314.33,837.61 L314.84,837.17 L315.36,836.76 L315.87,836.38 L316.39,836.03 L316.90,835.70 L317.41,835.39 L317.93,835.11 L318.44,834.84 L318.96,834.59 L319.47,834.35 L319.99,834.13 L320.50,833.92 L321.03,833.73 L321.55,833.53 L322.08,833.35 L322.61,833.18 L323.14,833.02 L323.66,832.87 L324.19,832.74 L324.72,832.64 L325.25,832.55 L325.77,832.49 L326.30,832.45 L326.81,832.42 L327.32,832.41 L327.84,832.40 L328.35,832.40 L328.86,832.40 L329.37,832.40 L329.88,832.40 L330.39,832.40 L330.91,832.40 L331.42,832.40 L331.93,832.40 L332.44,832.40 L332.95,832.40 L333.46,832.41 L333.98,832.42 L334.49,832.44 L335.00,832.48 L335.52,832.55 L336.04,832.65 L336.55,832.79 L337.07,832.97 L337.59,833.18 L338.11,833.42 L338.63,833.69 L339.15,833.98 L339.66,834.29 L340.18,834.62 L340.70,834.97 L341.23,835.34 L341.75,835.74 L342.28,836.18 L342.81,836.64 L343.34,837.14 L343.86,837.67 L344.39,838.22 L344.92,838.80 L345.45,839.39 L345.97,840.00 L346.50,840.62 L347.00,841.27 L347.50,841.94 L348.00,842.63 L348.50,843.34 L349.00,844.08 L349.50,844.84 L350.00,845.61 L350.50,846.40 L351.03,845.67 L351.57,844.98 L352.10,844.36 L352.63,843.84 L353.17,843.44 L353.70,843.15 L354.23,842.95 L354.76,842.83 L355.29,842.76 L355.82,842.72 L356.35,842.69 L356.88,842.67 L357.41,842.66 L357.94,842.65 L358.47,842.65 L359.00,842.66 L359.51,842.67 L360.02,842.69 L360.53,842.72 L361.04,842.76 L361.56,842.81 L362.07,842.87 L362.58,842.94 L363.09,843.01 L363.60,843.09 L364.11,843.18 L364.62,843.27 L365.13,843.37 L365.64,843.47 L366.16,843.57 L366.67,843.68 L367.18,843.78 L367.69,843.89 L368.20,844.00 L368.70,844.12 L369.20,844.25 L369.70,844.38 L370.20,844.52 L370.70,844.68 L371.20,844.84 L371.70,845.00 L372.20,845.18 L372.70,845.36 L373.20,845.54 L373.70,845.73 L374.20,845.92 L374.70,846.12 L375.20,846.31 L375.70,846.50 L376.20,846.69 L376.70,846.87 L377.20,847.06 L377.70,847.24 L378.20,847.41 L378.70,847.57 L379.20,847.73 L379.70,847.89 L380.21,848.04 L380.73,848.19 L381.24,848.34 L381.75,848.48 L382.26,848.62 L382.78,848.76 L383.29,848.90 L383.80,849.04 L384.32,849.18 L384.83,849.31 L385.34,849.45 L385.85,849.58 L386.37,849.71 L386.88,849.84 L387.39,849.97 L387.91,850.10 L388.42,850.22 L388.93,850.35 L389.45,850.47 L389.96,850.59 L390.47,850.71 L390.98,850.83 L391.50,850.94 L392.01,851.06 L392.52,851.17 L393.04,851.28 L393.55,851.39 L394.06,851.50 L394.57,851.60 L395.09,851.71 L395.60,851.81 L396.10,851.91 L396.60,852.01 L397.10,852.10 L397.61,852.20 L398.11,852.29 L398.61,852.38 L399.11,852.47 L399.61,852.56 L400.11,852.65 L400.61,852.74 L401.12,852.83 L401.62,852.91 L402.12,853.00 L402.62,853.08 L403.12,853.17 L403.62,853.25 L404.12,853.33 L404.62,853.41 L405.13,853.49 L405.63,853.57 L406.13,853.65 L406.63,853.73 L407.13,853.80 L407.63,853.88 L408.13,853.96 L408.64,854.03 L409.14,854.11 L409.64,854.18 L410.14,854.26 L410.64,854.33 L411.14,854.41 L411.64,854.48 L412.15,854.55 L412.65,854.62 L413.15,854.70 L413.65,854.77 L414.15,854.84 L414.65,854.91 L415.15,854.98 L415.66,855.06 L416.16,855.13 L416.66,855.20 L417.16,855.27 L417.66,855.34 L418.16,855.41 L418.66,855.49 L419.17,855.56 L419.67,855.63 L420.17,855.70 L420.67,855.78 L421.17,855.85 L421.67,855.92 L422.17,856.00 L422.68,856.07 L423.18,856.14 L423.68,856.22 L424.18,856.29 L424.68,856.37 L425.18,856.45 L425.68,856.52 L426.18,856.60 L426.69,856.68 L427.19,856.76 L427.69,856.84 L428.19,856.92 L428.69,857.00 L429.19,857.08 L429.69,857.17 L430.20,857.25 L430.70,857.33 L431.20,857.42 L431.70,857.51 L432.20,857.60 L432.70,857.69 L433.21,857.79 L433.71,857.89 L434.21,857.99 L434.71,858.09 L435.22,858.20 L435.72,858.31 L436.22,858.42 L436.72,858.53 L437.23,858.65 L437.73,858.76 L438.23,858.88 L438.73,858.99 L439.23,859.11 L439.74,859.23 L440.24,859.34 L440.74,859.46 L441.24,859.58 L441.75,859.69 L442.25,859.81 L442.75,859.92 L443.25,860.03 L443.76,860.14 L444.26,860.25 L444.76,860.36 L445.26,860.46 L445.77,860.56 L446.27,860.66 L446.77,860.75 L447.27,860.84 L447.77,860.93 L448.28,861.01 L448.78,861.09 L449.28,861.17 L449.78,861.24 L450.29,861.30 L450.79,861.36 L451.29,861.42 L451.79,861.47 L452.30,861.51 L452.80,861.55 L453.30,861.59 L453.81,861.62 L454.31,861.65 L454.82,861.68 L455.33,861.71 L455.83,861.73 L456.34,861.76 L456.85,861.78 L457.36,861.81 L457.86,861.83 L458.37,861.85 L458.88,861.88 L459.38,861.90 L459.89,861.92 L460.40,861.94 L460.90,861.96 L461.41,861.97 L461.92,861.99 L462.42,862.01 L462.93,862.02 L463.44,862.04 L463.94,862.05 L464.45,862.06 L464.96,862.07 L465.47,862.08 L465.97,862.08 L466.48,862.09 L466.99,862.09 L467.49,862.10 L468.00,862.10 L468.50,860.97 L469.00,859.84 L469.50,858.72 L470.00,857.61 L470.50,856.51 L471.00,855.43 L471.50,854.37 L472.00,853.32 L472.50,852.28 L473.00,851.25 L473.50,850.23 L474.00,849.21 L474.50,848.19 L475.03,847.16 L475.55,846.12 L476.08,845.08 L476.61,844.05 L477.14,843.05 L477.66,842.08 L478.19,841.16 L478.72,840.32 L479.25,839.55 L479.77,838.85 L480.30,838.24 L480.81,837.70 L481.33,837.21 L481.84,836.77 L482.36,836.36 L482.87,835.98 L483.39,835.63 L483.90,835.30 L484.41,834.99 L484.93,834.71 L485.44,834.44 L485.96,834.19 L486.47,833.95 L486.99,833.73 L487.50,833.52 L488.03,833.33 L488.55,833.13 L489.08,832.95 L489.61,832.78 L490.14,832.62 L490.66,832.47 L491.19,832.34 L491.72,832.24 L492.25,832.15 L492.77,832.09 L493.30,832.05 L493.81,832.02 L494.32,832.01 L494.84,832.00 L495.35,832.00 L495.86,832.00 L496.37,832.00 L496.88,832.00 L497.39,832.00 L497.91,832.00 L498.42,832.00 L498.93,832.00 L499.44,832.00 L499.95,832.00 L500.46,832.01 L500.98,832.02 L501.49,832.04 L502.00,832.08 L502.52,832.15 L503.04,832.25 L503.55,832.39 L504.07,832.57 L504.59,832.78 L505.11,833.02 L505.63,833.29 L506.15,833.58 L506.66,833.89 L507.18,834.22 L507.70,834.57 L508.23,834.94 L508.75,835.34 L509.28,835.78 L509.81,836.24 L510.34,836.74 L510.86,837.27 L511.39,837.82 L511.92,838.40 L512.45,838.99 L512.97,839.60 L513.50,840.22 L514.00,840.87 L514.50,841.54 L515.00,842.23 L515.50,842.94 L516.00,843.68 L516.50,844.44 L517.00,845.21 L517.50,846.00 L518.03,845.27 L518.57,844.58 L519.10,843.96 L519.63,843.44 L520.17,843.04 L520.70,842.75 L521.23,842.55 L521.76,842.43 L522.29,842.36 L522.82,842.32 L523.35,842.29 L523.88,842.27 L524.41,842.26 L524.94,842.25 L525.47,842.25 L526.00,842.26 L526.51,842.27 L527.02,842.29 L527.53,842.32 L528.04,842.36 L528.56,842.41 L529.07,842.47 L529.58,842.54 L530.09,842.61 L530.60,842.69 L531.11,842.78 L531.62,842.87 L532.13,842.97 L532.64,843.07 L533.16,843.17 L533.67,843.28 L534.18,843.38 L534.69,843.49 L535.20,843.60 L535.70,843.72 L536.20,843.85 L536.70,843.98 L537.20,844.12 L537.70,844.28 L538.20,844.44 L538.70,844.60 L539.20,844.78 L539.70,844.96 L540.20,845.15 L540.70,845.33 L541.20,845.52 L541.70,845.72 L542.20,845.91 L542.70,846.10 L543.20,846.29 L543.70,846.48 L544.20,846.66 L544.70,846.84 L545.20,847.01 L545.70,847.17 L546.20,847.33 L546.70,847.49 L547.20,847.64 L547.71,847.78 L548.21,847.93 L548.71,848.07 L549.22,848.20 L549.72,848.34 L550.23,848.48 L550.73,848.61 L551.23,848.75 L551.74,848.88 L552.24,849.01 L552.74,849.14 L553.25,849.26 L553.75,849.39 L554.26,849.51 L554.76,849.63 L555.26,849.75 L555.77,849.87 L556.27,849.99 L556.77,850.10 L557.28,850.21 L557.78,850.32 L558.29,850.43 L558.79,850.54 L559.29,850.64 L559.80,850.75 L560.30,850.85" fill="none" stroke="#5c5c5c" stroke-width="1.75" stroke-linejoin="round" stroke-linecap="round"/>
<path d="M128.00,915.30 L128.53,915.29 L129.05,915.29 L129.58,915.28 L130.11,915.26 L130.63,915.25 L131.16,915.23 L131.69,915.21 L132.21,915.18 L132.74,915.15 L133.27,915.11 L133.79,915.06 L134.32,914.99 L134.85,914.88 L135.37,914.70 L135.90,914.41 L136.43,913.96 L136.95,913.32 L137.48,912.47 L138.01,911.42 L138.54,910.18 L139.06,908.80 L139.59,907.30 L140.12,905.73 L140.65,904.11 L141.17,902.46 L141.70,900.79 L142.22,899.09 L142.74,897.35 L143.25,895.56 L143.77,893.71 L144.29,891.83 L144.81,889.93 L145.33,888.02 L145.85,886.14 L146.36,884.28 L146.88,882.46 L147.40,880.68 L147.93,878.92 L148.45,877.18 L148.98,875.46 L149.51,873.78 L150.04,872.15 L150.56,870.59 L151.09,869.14 L151.62,867.81 L152.15,866.63 L152.67,865.59 L153.20,864.69 L153.71,863.90 L154.23,863.20 L154.74,862.57 L155.26,862.00 L155.77,861.46 L156.29,860.97 L156.80,860.52 L157.31,860.11 L157.83,859.76 L158.34,859.46 L158.86,859.22 L159.37,859.04 L159.89,858.93 L160.40,858.87 L160.92,858.87 L161.44,858.91 L161.96,859.01 L162.49,859.14 L163.01,859.31 L163.53,859.51 L164.05,859.73 L164.57,859.98 L165.09,860.26 L165.61,860.54 L166.14,860.85 L166.66,861.17 L167.18,861.51 L167.70,861.87 L168.21,862.25 L168.71,862.68 L169.22,863.14 L169.72,863.65 L170.23,864.20 L170.73,864.79 L171.24,865.43 L171.74,866.10 L172.25,866.81 L172.75,867.55 L173.26,868.32 L173.76,869.12 L174.27,869.94 L174.77,870.79 L175.28,871.65 L175.78,872.53 L176.29,873.42 L176.79,874.34 L177.30,875.28 L177.80,876.25 L178.31,877.27 L178.83,878.33 L179.34,879.44 L179.86,880.61 L180.37,881.82 L180.89,883.07 L181.40,884.35 L181.91,885.66 L182.43,886.98 L182.94,888.30 L183.46,889.62 L183.97,890.95 L184.49,892.27 L185.00,893.60 L185.51,894.95 L186.03,896.32 L186.54,897.71 L187.06,899.12 L187.57,900.54 L188.09,901.95 L188.60,903.33 L189.11,904.66 L189.63,905.92 L190.14,907.09 L190.66,908.16 L191.17,909.11 L191.69,909.96 L192.20,910.70 L192.71,911.36 L193.22,911.95 L193.74,912.49 L194.25,913.00 L194.76,913.49 L195.27,913.94 L195.78,914.37 L196.29,914.77 L196.81,915.14 L197.32,915.48 L197.83,915.78 L198.34,916.04 L198.85,916.26 L199.36,916.44 L199.88,916.57 L200.39,916.66 L200.90,916.72 L201.40,916.74 L201.90,916.74 L202.40,916.72 L202.90,916.68 L203.40,916.63 L203.90,916.58 L204.40,916.52 L204.90,916.45 L205.40,916.38 L205.90,916.31 L206.40,916.24 L206.90,916.16 L207.40,916.09 L207.90,916.01 L208.43,915.93 L208.96,915.84 L209.49,915.75 L210.01,915.65 L210.54,915.55 L211.07,915.45 L211.60,915.36 L212.13,915.26 L212.66,915.18 L213.19,915.10 L213.71,915.04 L214.24,914.99 L214.77,914.95 L215.30,914.93 L215.80,914.92 L216.30,914.91 L216.80,914.90 L217.30,914.90 L217.81,914.90 L218.31,914.90 L218.81,914.90 L219.31,914.90 L219.81,914.90 L220.31,914.90 L220.81,914.90 L221.31,914.90 L221.82,914.90 L222.32,914.90 L222.82,914.90 L223.32,914.90 L223.82,914.90 L224.32,914.90 L224.82,914.90 L225.32,914.90 L225.83,914.90 L226.33,914.90 L226.83,914.90 L227.33,914.90 L227.83,914.90 L228.33,914.90 L228.83,914.90 L229.33,914.90 L229.84,914.90 L230.34,914.90 L230.84,914.90 L231.34,914.90 L231.84,914.90 L232.34,914.90 L232.84,914.90 L233.34,914.90 L233.85,914.90 L234.35,914.90 L234.85,914.90 L235.35,914.90 L235.85,914.90 L236.35,914.90 L236.85,914.90 L237.35,914.90 L237.86,914.90 L238.36,914.90 L238.86,914.90 L239.36,914.90 L239.86,914.90 L240.36,914.90 L240.86,914.90 L241.36,914.90 L241.87,914.90 L242.37,914.90 L242.87,914.90 L243.37,914.90 L243.87,914.90 L244.37,914.90 L244.87,914.90 L245.37,914.90 L245.88,914.90 L246.38,914.90 L246.88,914.90 L247.38,914.90 L247.88,914.90 L248.38,914.90 L248.88,914.90 L249.38,914.90 L249.89,914.90 L250.39,914.90 L250.89,914.90 L251.39,914.90 L251.89,914.90 L252.39,914.90 L252.89,914.90 L253.39,914.90 L253.90,914.90 L254.40,914.90 L254.90,914.90 L255.40,914.90 L255.90,914.90 L256.41,914.90 L256.91,914.90 L257.42,914.90 L257.93,914.90 L258.43,914.90 L258.94,914.90 L259.45,914.90 L259.95,914.90 L260.46,914.90 L260.97,914.90 L261.47,914.90 L261.98,914.90 L262.49,914.90 L262.99,914.90 L263.50,914.90 L264.01,914.90 L264.51,914.90 L265.02,914.90 L265.53,914.90 L266.04,914.90 L266.54,914.90 L267.05,914.90 L267.56,914.90 L268.06,914.90 L268.57,914.90 L269.08,914.90 L269.58,914.90 L270.09,914.90 L270.60,914.90 L271.10,914.90 L271.61,914.90 L272.12,914.90 L272.62,914.90 L273.13,914.90 L273.64,914.90 L274.14,914.90 L274.65,914.90 L275.16,914.90 L275.66,914.90 L276.17,914.90 L276.68,914.90 L277.18,914.90 L277.69,914.90 L278.20,914.90 L278.70,914.90 L279.21,914.90 L279.72,914.90 L280.22,914.90 L280.73,914.90 L281.24,914.90 L281.74,914.90 L282.25,914.90 L282.76,914.90 L283.26,914.90 L283.77,914.90 L284.28,914.90 L284.79,914.90 L285.29,914.90 L285.80,914.90 L286.31,914.90 L286.81,914.90 L287.32,914.90 L287.83,914.90 L288.33,914.90 L288.84,914.90 L289.35,914.90 L289.85,914.90 L290.36,914.90 L290.87,914.90 L291.37,914.90 L291.88,914.90 L292.39,914.90 L292.89,914.90 L293.40,914.90 L293.90,914.90 L294.40,914.90 L294.90,914.90 L295.40,914.90 L295.90,914.90 L296.40,914.90 L296.90,914.90 L297.40,914.90 L297.90,914.90 L298.40,914.90 L298.90,914.90 L299.40,914.90 L299.90,914.90 L300.40,914.90 L300.90,914.90 L301.40,914.88 L301.90,914.86 L302.40,914.79 L302.90,914.65 L303.40,914.39 L303.93,913.97 L304.45,913.36 L304.98,912.53 L305.51,911.49 L306.04,910.25 L306.56,908.86 L307.09,907.35 L307.62,905.76 L308.15,904.13 L308.67,902.48 L309.20,900.80 L309.72,899.10 L310.24,897.35 L310.75,895.56 L311.27,893.72 L311.79,891.83 L312.31,889.93 L312.83,888.02 L313.35,886.14 L313.86,884.28 L314.38,882.46 L314.90,880.68 L315.43,878.92 L315.95,877.18 L316.48,875.46 L317.01,873.78 L317.54,872.15 L318.06,870.59 L318.59,869.14 L319.12,867.81 L319.65,866.63 L320.17,865.59 L320.70,864.69 L321.21,863.90 L321.73,863.20 L322.24,862.57 L322.76,862.00 L323.27,861.46 L323.79,860.97 L324.30,860.52 L324.81,860.11 L325.33,859.76 L325.84,859.46 L326.36,859.22 L326.87,859.04 L327.39,858.93 L327.90,858.87 L328.42,858.87 L328.94,858.91 L329.46,859.01 L329.99,859.14 L330.51,859.31 L331.03,859.51 L331.55,859.73 L332.07,859.98 L332.59,860.26 L333.11,860.54 L333.64,860.85 L334.16,861.17 L334.68,861.51 L335.20,861.87 L335.70,862.25 L336.21,862.68 L336.71,863.14 L337.22,863.65 L337.72,864.20 L338.23,864.79 L338.73,865.43 L339.24,866.10 L339.74,866.81 L340.25,867.55 L340.75,868.32 L341.26,869.12 L341.76,869.94 L342.27,870.79 L342.77,871.65 L343.28,872.53 L343.78,873.42 L344.29,874.34 L344.79,875.28 L345.30,876.25 L345.81,877.27 L346.33,878.33 L346.84,879.44 L347.36,880.61 L347.87,881.82 L348.39,883.07 L348.90,884.35 L349.41,885.66 L349.93,886.98 L350.44,888.30 L350.96,889.62 L351.47,890.95 L351.99,892.27 L352.50,893.60 L353.01,894.95 L353.53,896.32 L354.04,897.71 L354.56,899.12 L355.07,900.54 L355.59,901.95 L356.10,903.33 L356.61,904.66 L357.13,905.92 L357.64,907.09 L358.16,908.16 L358.67,909.11 L359.19,909.96 L359.70,910.70 L360.21,911.36 L360.72,911.95 L361.24,912.49 L361.75,913.00 L362.26,913.49 L362.77,913.94 L363.28,914.37 L363.79,914.77 L364.31,915.14 L364.82,915.48 L365.33,915.78 L365.84,916.04 L366.35,916.26 L366.86,916.44 L367.38,916.57 L367.89,916.66 L368.40,916.72 L368.90,916.74 L369.40,916.74 L369.90,916.72 L370.40,916.68 L370.90,916.63 L371.40,916.58 L371.90,916.52 L372.40,916.45 L372.90,916.38 L373.40,916.31 L373.90,916.24 L374.40,916.16 L374.90,916.09 L375.40,916.01 L375.93,915.93 L376.46,915.84 L376.99,915.75 L377.51,915.65 L378.04,915.55 L378.57,915.45 L379.10,915.36 L379.63,915.26 L380.16,915.18 L380.69,915.10 L381.21,915.04 L381.74,914.99 L382.27,914.95 L382.80,914.93 L383.30,914.92 L383.80,914.91 L384.30,914.90 L384.80,914.90 L385.31,914.90 L385.81,914.90 L386.31,914.90 L386.81,914.90 L387.31,914.90 L387.81,914.90 L388.31,914.90 L388.81,914.90 L389.32,914.90 L389.82,914.90 L390.32,914.90 L390.82,914.90 L391.32,914.90 L391.82,914.90 L392.32,914.90 L392.82,914.90 L393.33,914.90 L393.83,914.90 L394.33,914.90 L394.83,914.90 L395.33,914.90 L395.83,914.90 L396.33,914.90 L396.83,914.90 L397.34,914.90 L397.84,914.90 L398.34,914.90 L398.84,914.90 L399.34,914.90 L399.84,914.90 L400.34,914.90 L400.84,914.90 L401.35,914.90 L401.85,914.90 L402.35,914.90 L402.85,914.90 L403.35,914.90 L403.85,914.90 L404.35,914.90 L404.85,914.90 L405.36,914.90 L405.86,914.90 L406.36,914.90 L406.86,914.90 L407.36,914.90 L407.86,914.90 L408.36,914.90 L408.86,914.90 L409.37,914.90 L409.87,914.90 L410.37,914.90 L410.87,914.90 L411.37,914.90 L411.87,914.90 L412.37,914.90 L412.87,914.90 L413.38,914.90 L413.88,914.90 L414.38,914.90 L414.88,914.90 L415.38,914.90 L415.88,914.90 L416.38,914.90 L416.88,914.90 L417.39,914.90 L417.89,914.90 L418.39,914.90 L418.89,914.90 L419.39,914.90 L419.89,914.90 L420.39,914.90 L420.89,914.90 L421.40,914.90 L421.90,914.90 L422.40,914.90 L422.90,914.90 L423.40,914.90 L423.90,914.90 L424.40,914.90 L424.90,914.90 L425.41,914.90 L425.91,914.90 L426.41,914.90 L426.91,914.90 L427.41,914.90 L427.91,914.90 L428.41,914.90 L428.91,914.90 L429.42,914.90 L429.92,914.90 L430.42,914.90 L430.92,914.90 L431.42,914.90 L431.92,914.90 L432.42,914.90 L432.93,914.90 L433.43,914.90 L433.93,914.90 L434.43,914.90 L434.93,914.90 L435.43,914.90 L435.93,914.90 L436.43,914.90 L436.94,914.90 L437.44,914.90 L437.94,914.90 L438.44,914.90 L438.94,914.90 L439.44,914.90 L439.94,914.90 L440.45,914.90 L440.95,914.90 L441.45,914.90 L441.95,914.90 L442.45,914.90 L442.95,914.90 L443.45,914.90 L443.95,914.90 L444.46,914.90 L444.96,914.90 L445.46,914.90 L445.96,914.90 L446.46,914.90 L446.96,914.90 L447.46,914.90 L447.97,914.90 L448.47,914.90 L448.97,914.90 L449.47,914.90 L449.97,914.90 L450.47,914.90 L450.97,914.90 L451.47,914.90 L451.98,914.90 L452.48,914.90 L452.98,914.90 L453.48,914.90 L453.98,914.90 L454.48,914.90 L454.98,914.90 L455.49,914.90 L455.99,914.90 L456.49,914.90 L456.99,914.90 L457.49,914.90 L457.99,914.90 L458.49,914.90 L458.99,914.90 L459.50,914.90 L460.00,914.90 L460.50,914.90 L461.00,914.90 L461.50,914.90 L462.00,914.90 L462.50,914.90 L463.00,914.90 L463.50,914.90 L464.00,914.90 L464.50,914.90 L465.00,914.90 L465.50,914.90 L466.00,914.90 L466.50,914.90 L467.00,914.90 L467.50,914.90 L468.00,914.90 L468.50,914.90 L469.00,914.88 L469.50,914.86 L470.00,914.79 L470.50,914.64 L471.00,914.39 L471.53,913.97 L472.05,913.35 L472.58,912.51 L473.11,911.46 L473.64,910.22 L474.16,908.81 L474.69,907.29 L475.22,905.70 L475.75,904.06 L476.27,902.39 L476.80,900.70 L477.32,898.99 L477.84,897.23 L478.35,895.42 L478.87,893.56 L479.39,891.67 L479.91,889.75 L480.43,887.83 L480.95,885.93 L481.46,884.06 L481.98,882.23 L482.50,880.43 L483.03,878.66 L483.55,876.91 L484.08,875.18 L484.61,873.48 L485.14,871.84 L485.66,870.28 L486.19,868.81 L486.72,867.48 L487.25,866.29 L487.77,865.24 L488.30,864.33 L488.81,863.54 L489.33,862.83 L489.84,862.20 L490.36,861.62 L490.87,861.08 L491.39,860.59 L491.90,860.13 L492.41,859.73 L492.93,859.37 L493.44,859.07 L493.96,858.83 L494.47,858.65 L494.99,858.53 L495.50,858.47 L496.02,858.47 L496.54,858.52 L497.06,858.61 L497.59,858.74 L498.11,858.91 L498.63,859.11 L499.15,859.34 L499.67,859.59 L500.19,859.87 L500.71,860.16 L501.24,860.46 L501.76,860.79 L502.28,861.13 L502.80,861.49 L503.31,861.88 L503.81,862.31 L504.31,862.77 L504.82,863.28 L505.32,863.84 L505.83,864.43 L506.33,865.07 L506.84,865.75 L507.34,866.47 L507.85,867.21 L508.36,867.99 L508.86,868.79 L509.37,869.62 L509.87,870.47 L510.38,871.34 L510.88,872.23 L511.38,873.13 L511.89,874.05 L512.39,875.00 L512.90,875.98 L513.41,877.00 L513.93,878.07 L514.44,879.19 L514.96,880.36 L515.47,881.58 L515.99,882.84 L516.50,884.14 L517.01,885.45 L517.53,886.78 L518.04,888.11 L518.56,889.44 L519.07,890.78 L519.59,892.11 L520.10,893.45 L520.61,894.81 L521.13,896.19 L521.64,897.59 L522.16,899.01 L522.67,900.44 L523.19,901.86 L523.70,903.24 L524.21,904.58 L524.73,905.85 L525.24,907.03 L525.76,908.11 L526.27,909.07 L526.79,909.92 L527.30,910.67 L527.81,911.33 L528.32,911.93 L528.84,912.48 L529.35,912.99 L529.86,913.48 L530.37,913.93 L530.88,914.37 L531.39,914.77 L531.91,915.14 L532.42,915.48 L532.93,915.78 L533.44,916.05 L533.95,916.27 L534.46,916.45 L534.98,916.58 L535.49,916.67 L536.00,916.73 L536.50,916.75 L537.00,916.75 L537.50,916.73 L538.00,916.69 L538.50,916.65 L539.00,916.59 L539.50,916.53 L540.00,916.46 L540.50,916.39 L541.00,916.32 L541.50,916.25 L542.00,916.17 L542.50,916.10 L543.00,916.02 L543.53,915.93 L544.06,915.85 L544.59,915.75 L545.11,915.66 L545.64,915.56 L546.17,915.46 L546.70,915.36 L547.23,915.27 L547.76,915.18 L548.29,915.11 L548.81,915.04 L549.34,914.99 L549.87,914.96 L550.40,914.93 L550.92,914.92 L551.44,914.91 L551.96,914.90 L552.48,914.90 L553.01,914.90 L553.53,914.90 L554.05,914.90 L554.57,914.90 L555.09,914.90 L555.61,914.90 L556.13,914.90 L556.65,914.90 L557.17,914.90 L557.69,914.90 L558.22,914.90 L558.74,914.90 L559.26,914.90 L559.78,914.90 L560.30,914.90" fill="none" stroke="#1b8a1b" stroke-width="2.05" stroke-linejoin="round" stroke-linecap="round"/>
<path d="M128.90,1220.50 L129.43,1220.83 L129.97,1221.17 L130.50,1221.50 L131.00,1220.24 L131.50,1218.98 L132.00,1217.74 L132.50,1216.50 L133.00,1215.28 L133.50,1214.08 L134.00,1212.89 L134.50,1211.72 L135.00,1210.57 L135.50,1209.43 L136.00,1208.29 L136.50,1207.16 L137.00,1206.02 L137.53,1204.87 L138.05,1203.72 L138.58,1202.56 L139.11,1201.42 L139.64,1200.30 L140.16,1199.22 L140.69,1198.20 L141.22,1197.26 L141.75,1196.40 L142.27,1195.63 L142.80,1194.95 L143.31,1194.34 L143.83,1193.80 L144.34,1193.31 L144.86,1192.85 L145.37,1192.43 L145.89,1192.04 L146.40,1191.67 L146.91,1191.33 L147.43,1191.01 L147.94,1190.71 L148.46,1190.43 L148.97,1190.17 L149.49,1189.93 L150.00,1189.70 L150.53,1189.47 L151.05,1189.26 L151.58,1189.06 L152.11,1188.86 L152.64,1188.68 L153.16,1188.52 L153.69,1188.38 L154.22,1188.26 L154.75,1188.17 L155.27,1188.10 L155.80,1188.06 L156.31,1188.03 L156.82,1188.01 L157.34,1188.00 L157.85,1188.00 L158.36,1188.00 L158.87,1188.00 L159.38,1188.00 L159.89,1188.00 L160.41,1188.00 L160.92,1188.00 L161.43,1188.00 L161.94,1188.00 L162.45,1188.00 L162.96,1188.01 L163.48,1188.02 L163.99,1188.05 L164.50,1188.09 L165.02,1188.17 L165.54,1188.28 L166.05,1188.44 L166.57,1188.63 L167.09,1188.87 L167.61,1189.14 L168.13,1189.44 L168.65,1189.76 L169.16,1190.11 L169.68,1190.47 L170.20,1190.86 L170.73,1191.27 L171.25,1191.72 L171.78,1192.20 L172.31,1192.72 L172.84,1193.28 L173.36,1193.86 L173.89,1194.48 L174.42,1195.12 L174.95,1195.78 L175.47,1196.46 L176.00,1197.15 L176.50,1197.87 L177.00,1198.61 L177.50,1199.38 L178.00,1200.18 L178.50,1201.00 L179.00,1201.84 L179.50,1202.71 L180.00,1203.58 L180.53,1203.40 L181.07,1203.22 L181.60,1203.06 L182.13,1202.93 L182.67,1202.82 L183.20,1202.73 L183.73,1202.67 L184.26,1202.62 L184.79,1202.59 L185.32,1202.56 L185.85,1202.54 L186.38,1202.52 L186.91,1202.51 L187.44,1202.51 L187.97,1202.50 L188.50,1202.51 L189.01,1202.52 L189.52,1202.54 L190.03,1202.57 L190.54,1202.61 L191.06,1202.66 L191.57,1202.71 L192.08,1202.78 L192.59,1202.85 L193.10,1202.93 L193.61,1203.01 L194.12,1203.10 L194.63,1203.19 L195.14,1203.29 L195.66,1203.38 L196.17,1203.48 L196.68,1203.58 L197.19,1203.69 L197.70,1203.80 L198.20,1203.91 L198.70,1204.03 L199.20,1204.16 L199.70,1204.29 L200.20,1204.44 L200.70,1204.59 L201.20,1204.75 L201.70,1204.92 L202.20,1205.09 L202.70,1205.27 L203.20,1205.45 L203.70,1205.63 L204.20,1205.82 L204.70,1206.00 L205.20,1206.18 L205.70,1206.37 L206.20,1206.54 L206.70,1206.72 L207.20,1206.89 L207.70,1207.05 L208.20,1207.21 L208.70,1207.37 L209.20,1207.52 L209.71,1207.66 L210.23,1207.80 L210.74,1207.94 L211.25,1208.08 L211.76,1208.22 L212.28,1208.35 L212.79,1208.48 L213.30,1208.62 L213.82,1208.75 L214.33,1208.88 L214.84,1209.01 L215.35,1209.13 L215.87,1209.26 L216.38,1209.38 L216.89,1209.51 L217.41,1209.63 L217.92,1209.75 L218.43,1209.87 L218.95,1209.98 L219.46,1210.10 L219.97,1210.21 L220.48,1210.33 L221.00,1210.44 L221.51,1210.55 L222.02,1210.65 L222.54,1210.76 L223.05,1210.87 L223.56,1210.97 L224.07,1211.07 L224.59,1211.17 L225.10,1211.27 L225.60,1211.36 L226.10,1211.46 L226.60,1211.55 L227.11,1211.64 L227.61,1211.73 L228.11,1211.82 L228.61,1211.90 L229.11,1211.99 L229.61,1212.08 L230.11,1212.16 L230.62,1212.24 L231.12,1212.33 L231.62,1212.41 L232.12,1212.49 L232.62,1212.57 L233.12,1212.65 L233.62,1212.72 L234.12,1212.80 L234.63,1212.88 L235.13,1212.95 L235.63,1213.03 L236.13,1213.10 L236.63,1213.18 L237.13,1213.25 L237.63,1213.32 L238.14,1213.40 L238.64,1213.47 L239.14,1213.54 L239.64,1213.61 L240.14,1213.68 L240.64,1213.75 L241.14,1213.82 L241.65,1213.89 L242.15,1213.96 L242.65,1214.03 L243.15,1214.10 L243.65,1214.17 L244.15,1214.24 L244.65,1214.31 L245.16,1214.37 L245.66,1214.44 L246.16,1214.51 L246.66,1214.58 L247.16,1214.65 L247.66,1214.72 L248.16,1214.79 L248.67,1214.86 L249.17,1214.92 L249.67,1214.99 L250.17,1215.06 L250.67,1215.13 L251.17,1215.20 L251.67,1215.27 L252.17,1215.35 L252.68,1215.42 L253.18,1215.49 L253.68,1215.56 L254.18,1215.63 L254.68,1215.71 L255.18,1215.78 L255.68,1215.85 L256.19,1215.93 L256.69,1216.01 L257.19,1216.08 L257.69,1216.16 L258.19,1216.24 L258.69,1216.32 L259.19,1216.39 L259.70,1216.47 L260.20,1216.56 L260.70,1216.64 L261.20,1216.72 L261.70,1216.81 L262.20,1216.89 L262.71,1216.98 L263.21,1217.07 L263.71,1217.17 L264.21,1217.26 L264.72,1217.36 L265.22,1217.45 L265.72,1217.55 L266.22,1217.65 L266.73,1217.75 L267.23,1217.85 L267.73,1217.95 L268.23,1218.06 L268.73,1218.16 L269.24,1218.26 L269.74,1218.37 L270.24,1218.47 L270.74,1218.57 L271.25,1218.68 L271.75,1218.78 L272.25,1218.88 L272.75,1218.98 L273.26,1219.08 L273.76,1219.18 L274.26,1219.28 L274.76,1219.38 L275.27,1219.47 L275.77,1219.56 L276.27,1219.66 L276.77,1219.75 L277.27,1219.83 L277.78,1219.92 L278.28,1220.00 L278.78,1220.08 L279.28,1220.16 L279.79,1220.24 L280.29,1220.31 L280.79,1220.38 L281.29,1220.45 L281.80,1220.51 L282.30,1220.57 L282.80,1220.63 L283.31,1220.69 L283.83,1220.74 L284.34,1220.80 L284.85,1220.85 L285.37,1220.90 L285.88,1220.95 L286.39,1221.00 L286.90,1221.05 L287.42,1221.09 L287.93,1221.14 L288.44,1221.18 L288.96,1221.23 L289.47,1221.27 L289.98,1221.31 L290.50,1221.35 L291.01,1221.38 L291.52,1221.42 L292.03,1221.45 L292.55,1221.48 L293.06,1221.52 L293.57,1221.54 L294.09,1221.57 L294.60,1221.60 L295.10,1220.36 L295.60,1219.12 L296.10,1217.89 L296.60,1216.68 L297.10,1215.48 L297.60,1214.29 L298.10,1213.12 L298.60,1211.97 L299.10,1210.83 L299.60,1209.71 L300.10,1208.59 L300.60,1207.47 L301.10,1206.35 L301.63,1205.22 L302.15,1204.08 L302.68,1202.94 L303.21,1201.82 L303.74,1200.71 L304.26,1199.65 L304.79,1198.65 L305.32,1197.72 L305.85,1196.87 L306.37,1196.11 L306.90,1195.44 L307.41,1194.85 L307.93,1194.31 L308.44,1193.83 L308.96,1193.38 L309.47,1192.97 L309.99,1192.58 L310.50,1192.22 L311.01,1191.88 L311.53,1191.57 L312.04,1191.27 L312.56,1191.00 L313.07,1190.74 L313.59,1190.50 L314.10,1190.27 L314.63,1190.05 L315.15,1189.84 L315.68,1189.64 L316.21,1189.45 L316.74,1189.27 L317.26,1189.11 L317.79,1188.97 L318.32,1188.86 L318.85,1188.77 L319.37,1188.70 L319.90,1188.65 L320.41,1188.63 L320.92,1188.61 L321.44,1188.60 L321.95,1188.60 L322.46,1188.60 L322.97,1188.60 L323.48,1188.60 L323.99,1188.60 L324.51,1188.60 L325.02,1188.60 L325.53,1188.60 L326.04,1188.60 L326.55,1188.60 L327.06,1188.61 L327.58,1188.62 L328.09,1188.65 L328.60,1188.69 L329.12,1188.77 L329.64,1188.88 L330.15,1189.03 L330.67,1189.22 L331.19,1189.46 L331.71,1189.72 L332.23,1190.02 L332.75,1190.34 L333.26,1190.68 L333.78,1191.04 L334.30,1191.42 L334.83,1191.83 L335.35,1192.27 L335.88,1192.74 L336.41,1193.25 L336.94,1193.80 L337.46,1194.38 L337.99,1194.98 L338.52,1195.61 L339.05,1196.26 L339.57,1196.93 L340.10,1197.62 L340.60,1198.32 L341.10,1199.05 L341.60,1199.81 L342.10,1200.59 L342.60,1201.40 L343.10,1202.24 L343.60,1203.09 L344.10,1203.94 L344.63,1203.77 L345.17,1203.59 L345.70,1203.44 L346.23,1203.31 L346.77,1203.20 L347.30,1203.11 L347.83,1203.05 L348.36,1203.00 L348.89,1202.97 L349.42,1202.94 L349.95,1202.92 L350.48,1202.91 L351.01,1202.90 L351.54,1202.89 L352.07,1202.89 L352.60,1202.89 L353.11,1202.90 L353.62,1202.92 L354.13,1202.95 L354.64,1202.99 L355.16,1203.04 L355.67,1203.09 L356.18,1203.16 L356.69,1203.23 L357.20,1203.30 L357.71,1203.39 L358.22,1203.47 L358.73,1203.56 L359.24,1203.66 L359.76,1203.75 L360.27,1203.85 L360.78,1203.95 L361.29,1204.05 L361.80,1204.16 L362.30,1204.27 L362.80,1204.39 L363.30,1204.52 L363.80,1204.65 L364.30,1204.79 L364.80,1204.95 L365.30,1205.10 L365.80,1205.27 L366.30,1205.44 L366.80,1205.61 L367.30,1205.79 L367.80,1205.97 L368.30,1206.15 L368.80,1206.33 L369.30,1206.51 L369.80,1206.69 L370.30,1206.87 L370.80,1207.04 L371.30,1207.21 L371.80,1207.37 L372.30,1207.53 L372.80,1207.68 L373.30,1207.83 L373.81,1207.97 L374.33,1208.11 L374.84,1208.24 L375.35,1208.38 L375.86,1208.51 L376.38,1208.65 L376.89,1208.78 L377.40,1208.91 L377.92,1209.04 L378.43,1209.17 L378.94,1209.29 L379.45,1209.42 L379.97,1209.54 L380.48,1209.66 L380.99,1209.79 L381.51,1209.91 L382.02,1210.02 L382.53,1210.14 L383.05,1210.26 L383.56,1210.37 L384.07,1210.48 L384.58,1210.59 L385.10,1210.70 L385.61,1210.81 L386.12,1210.92 L386.64,1211.02 L387.15,1211.12 L387.66,1211.23 L388.17,1211.33 L388.69,1211.42 L389.20,1211.52 L389.70,1211.61 L390.20,1211.71 L390.70,1211.80 L391.21,1211.89 L391.71,1211.97 L392.21,1212.06 L392.71,1212.15 L393.21,1212.23 L393.71,1212.32 L394.21,1212.40 L394.72,1212.48 L395.22,1212.56 L395.72,1212.64 L396.22,1212.72 L396.72,1212.80 L397.22,1212.88 L397.72,1212.95 L398.23,1213.03 L398.73,1213.11 L399.23,1213.18 L399.73,1213.26 L400.23,1213.33 L400.73,1213.40 L401.23,1213.47 L401.73,1213.55 L402.24,1213.62 L402.74,1213.69 L403.24,1213.76 L403.74,1213.83 L404.24,1213.90 L404.74,1213.97 L405.24,1214.04 L405.75,1214.11 L406.25,1214.17 L406.75,1214.24 L407.25,1214.31 L407.75,1214.38 L408.25,1214.45 L408.75,1214.51 L409.26,1214.58 L409.76,1214.65 L410.26,1214.72 L410.76,1214.78 L411.26,1214.85 L411.76,1214.92 L412.26,1214.99 L412.77,1215.05 L413.27,1215.12 L413.77,1215.19 L414.27,1215.26 L414.77,1215.33 L415.27,1215.40 L415.77,1215.47 L416.28,1215.54 L416.78,1215.61 L417.28,1215.68 L417.78,1215.75 L418.28,1215.82 L418.78,1215.89 L419.28,1215.97 L419.78,1216.04 L420.29,1216.11 L420.79,1216.19 L421.29,1216.26 L421.79,1216.34 L422.29,1216.42 L422.79,1216.49 L423.29,1216.57 L423.80,1216.65 L424.30,1216.73 L424.80,1216.81 L425.30,1216.89 L425.80,1216.98 L426.30,1217.06 L426.81,1217.15 L427.31,1217.23 L427.81,1217.32 L428.31,1217.41 L428.82,1217.50 L429.32,1217.59 L429.82,1217.69 L430.32,1217.78 L430.83,1217.87 L431.33,1217.97 L431.83,1218.06 L432.33,1218.16 L432.83,1218.26 L433.34,1218.35 L433.84,1218.45 L434.34,1218.55 L434.84,1218.64 L435.35,1218.74 L435.85,1218.84 L436.35,1218.93 L436.85,1219.03 L437.36,1219.13 L437.86,1219.22 L438.36,1219.32 L438.86,1219.41 L439.37,1219.50 L439.87,1219.60 L440.37,1219.69 L440.87,1219.78 L441.37,1219.87 L441.88,1219.95 L442.38,1220.04 L442.88,1220.12 L443.38,1220.21 L443.89,1220.29 L444.39,1220.37 L444.89,1220.45 L445.39,1220.53 L445.90,1220.60 L446.40,1220.67 L446.90,1220.74 L447.41,1220.82 L447.92,1220.88 L448.43,1220.95 L448.94,1221.02 L449.45,1221.08 L449.96,1221.15 L450.47,1221.21 L450.98,1221.28 L451.49,1221.34 L452.00,1221.40 L452.50,1221.46 L453.01,1221.52 L453.52,1221.57 L454.03,1221.63 L454.54,1221.68 L455.05,1221.74 L455.56,1221.79 L456.07,1221.85 L456.58,1221.90 L457.09,1221.95 L457.60,1222.00 L458.10,1220.76 L458.60,1219.52 L459.10,1218.29 L459.60,1217.08 L460.10,1215.88 L460.60,1214.69 L461.10,1213.52 L461.60,1212.37 L462.10,1211.23 L462.60,1210.11 L463.10,1208.99 L463.60,1207.87 L464.10,1206.75 L464.63,1205.62 L465.15,1204.48 L465.68,1203.34 L466.21,1202.22 L466.74,1201.11 L467.26,1200.05 L467.79,1199.05 L468.32,1198.12 L468.85,1197.27 L469.37,1196.51 L469.90,1195.84 L470.41,1195.25 L470.93,1194.71 L471.44,1194.23 L471.96,1193.78 L472.47,1193.37 L472.99,1192.98 L473.50,1192.62 L474.01,1192.28 L474.53,1191.97 L475.04,1191.67 L475.56,1191.40 L476.07,1191.14 L476.59,1190.90 L477.10,1190.67 L477.63,1190.45 L478.15,1190.24 L478.68,1190.04 L479.21,1189.85 L479.74,1189.67 L480.26,1189.51 L480.79,1189.37 L481.32,1189.26 L481.85,1189.17 L482.37,1189.10 L482.90,1189.05 L483.41,1189.03 L483.92,1189.01 L484.44,1189.00 L484.95,1189.00 L485.46,1189.00 L485.97,1189.00 L486.48,1189.00 L486.99,1189.00 L487.51,1189.00 L488.02,1189.00 L488.53,1189.00 L489.04,1189.00 L489.55,1189.00 L490.06,1189.01 L490.58,1189.02 L491.09,1189.05 L491.60,1189.09 L492.12,1189.17 L492.64,1189.28 L493.15,1189.43 L493.67,1189.62 L494.19,1189.86 L494.71,1190.12 L495.23,1190.42 L495.75,1190.74 L496.26,1191.08 L496.78,1191.44 L497.30,1191.82 L497.83,1192.23 L498.35,1192.67 L498.88,1193.14 L499.41,1193.65 L499.94,1194.20 L500.46,1194.78 L500.99,1195.38 L501.52,1196.01 L502.05,1196.66 L502.57,1197.33 L503.10,1198.02 L503.60,1198.72 L504.10,1199.45 L504.60,1200.21 L505.10,1200.99 L505.60,1201.80 L506.10,1202.64 L506.60,1203.49 L507.10,1204.35 L507.63,1204.17 L508.17,1203.99 L508.70,1203.84 L509.23,1203.71 L509.77,1203.60 L510.30,1203.51 L510.83,1203.45 L511.36,1203.40 L511.89,1203.37 L512.42,1203.34 L512.95,1203.32 L513.48,1203.31 L514.01,1203.30 L514.54,1203.29 L515.07,1203.29 L515.60,1203.29 L516.11,1203.30 L516.62,1203.32 L517.13,1203.35 L517.64,1203.39 L518.16,1203.44 L518.67,1203.49 L519.18,1203.56 L519.69,1203.63 L520.20,1203.70 L520.71,1203.79 L521.22,1203.87 L521.73,1203.96 L522.24,1204.06 L522.76,1204.15 L523.27,1204.25 L523.78,1204.35 L524.29,1204.45 L524.80,1204.56 L525.30,1204.67 L525.80,1204.79 L526.30,1204.92 L526.80,1205.05 L527.30,1205.19 L527.80,1205.35 L528.30,1205.50 L528.80,1205.67 L529.30,1205.84 L529.80,1206.01 L530.30,1206.19 L530.80,1206.37 L531.30,1206.55 L531.80,1206.73 L532.30,1206.91 L532.80,1207.09 L533.30,1207.27 L533.80,1207.44 L534.30,1207.61 L534.80,1207.77 L535.30,1207.93 L535.80,1208.08 L536.30,1208.23 L536.81,1208.37 L537.33,1208.51 L537.84,1208.65 L538.35,1208.78 L538.86,1208.92 L539.38,1209.05 L539.89,1209.19 L540.40,1209.32 L540.92,1209.45 L541.43,1209.58 L541.94,1209.71 L542.45,1209.83 L542.97,1209.96 L543.48,1210.08 L543.99,1210.20 L544.51,1210.32 L545.02,1210.44 L545.53,1210.56 L546.05,1210.68 L546.56,1210.79 L547.07,1210.90 L547.58,1211.01 L548.10,1211.12 L548.61,1211.23 L549.12,1211.33 L549.64,1211.44 L550.15,1211.54 L550.66,1211.64 L551.17,1211.73 L551.69,1211.83 L552.20,1211.92 L552.71,1212.01 L553.21,1212.10 L553.72,1212.18 L554.23,1212.26 L554.73,1212.35 L555.24,1212.42 L555.74,1212.50 L556.25,1212.58 L556.76,1212.65 L557.26,1212.73 L557.77,1212.80 L558.27,1212.87 L558.78,1212.93 L559.29,1213.00 L559.79,1213.06 L560.30,1213.13" fill="none" stroke="#5c5c5c" stroke-width="1.75" stroke-linejoin="round" stroke-linecap="round"/>
<path d="M128.00,1268.00 L128.51,1268.00 L129.03,1268.00 L129.54,1268.00 L130.06,1268.00 L130.57,1268.00 L131.09,1268.00 L131.60,1268.00 L132.11,1268.00 L132.63,1268.00 L133.14,1267.98 L133.66,1267.95 L134.17,1267.88 L134.69,1267.74 L135.20,1267.47 L135.73,1267.04 L136.25,1266.41 L136.78,1265.55 L137.31,1264.46 L137.84,1263.18 L138.36,1261.74 L138.89,1260.18 L139.42,1258.54 L139.95,1256.85 L140.47,1255.14 L141.00,1253.40 L141.52,1251.64 L142.04,1249.83 L142.55,1247.97 L143.07,1246.06 L143.59,1244.11 L144.11,1242.14 L144.63,1240.17 L145.15,1238.21 L145.66,1236.29 L146.18,1234.41 L146.70,1232.56 L147.23,1230.74 L147.75,1228.94 L148.28,1227.16 L148.81,1225.41 L149.34,1223.72 L149.86,1222.11 L150.39,1220.61 L150.92,1219.24 L151.45,1218.01 L151.97,1216.93 L152.50,1216.00 L153.01,1215.18 L153.53,1214.46 L154.04,1213.81 L154.56,1213.21 L155.07,1212.66 L155.59,1212.15 L156.10,1211.68 L156.61,1211.27 L157.13,1210.90 L157.64,1210.59 L158.16,1210.34 L158.67,1210.16 L159.19,1210.03 L159.70,1209.97 L160.22,1209.97 L160.74,1210.02 L161.26,1210.12 L161.79,1210.26 L162.31,1210.43 L162.83,1210.64 L163.35,1210.87 L163.87,1211.13 L164.39,1211.41 L164.91,1211.71 L165.44,1212.02 L165.96,1212.36 L166.48,1212.71 L167.00,1213.08 L167.50,1213.48 L168.01,1213.92 L168.51,1214.40 L169.02,1214.92 L169.53,1215.49 L170.03,1216.11 L170.53,1216.77 L171.04,1217.46 L171.54,1218.20 L172.05,1218.97 L172.56,1219.76 L173.06,1220.59 L173.56,1221.44 L174.07,1222.32 L174.57,1223.21 L175.08,1224.12 L175.59,1225.05 L176.09,1226.00 L176.59,1226.97 L177.10,1227.98 L177.61,1229.03 L178.13,1230.13 L178.64,1231.28 L179.16,1232.49 L179.67,1233.74 L180.19,1235.04 L180.70,1236.37 L181.21,1237.72 L181.73,1239.08 L182.24,1240.45 L182.76,1241.82 L183.27,1243.19 L183.79,1244.56 L184.30,1245.94 L184.81,1247.34 L185.33,1248.76 L185.84,1250.20 L186.36,1251.66 L186.87,1253.13 L187.39,1254.59 L187.90,1256.02 L188.41,1257.39 L188.93,1258.70 L189.44,1259.91 L189.96,1261.02 L190.47,1262.01 L190.99,1262.88 L191.50,1263.65 L192.01,1264.33 L192.52,1264.95 L193.04,1265.51 L193.55,1266.04 L194.06,1266.53 L194.57,1267.01 L195.08,1267.45 L195.59,1267.87 L196.11,1268.25 L196.62,1268.60 L197.13,1268.91 L197.64,1269.18 L198.15,1269.41 L198.66,1269.59 L199.18,1269.73 L199.69,1269.82 L200.20,1269.88 L200.70,1269.90 L201.20,1269.90 L201.70,1269.88 L202.20,1269.84 L202.70,1269.80 L203.20,1269.74 L203.70,1269.67 L204.20,1269.61 L204.70,1269.53 L205.20,1269.46 L205.70,1269.38 L206.20,1269.31 L206.70,1269.23 L207.20,1269.15 L207.73,1269.06 L208.26,1268.97 L208.79,1268.88 L209.31,1268.78 L209.84,1268.68 L210.37,1268.57 L210.90,1268.47 L211.43,1268.38 L211.96,1268.29 L212.49,1268.21 L213.01,1268.15 L213.54,1268.09 L214.07,1268.06 L214.60,1268.03 L215.10,1268.02 L215.60,1268.01 L216.10,1268.00 L216.60,1268.00 L217.11,1268.00 L217.61,1268.00 L218.11,1268.00 L218.61,1268.00 L219.11,1268.00 L219.61,1268.00 L220.11,1268.00 L220.61,1268.00 L221.12,1268.00 L221.62,1268.00 L222.12,1268.00 L222.62,1268.00 L223.12,1268.00 L223.62,1268.00 L224.12,1268.00 L224.62,1268.00 L225.13,1268.00 L225.63,1268.00 L226.13,1268.00 L226.63,1268.00 L227.13,1268.00 L227.63,1268.00 L228.13,1268.00 L228.63,1268.00 L229.14,1268.00 L229.64,1268.00 L230.14,1268.00 L230.64,1268.00 L231.14,1268.00 L231.64,1268.00 L232.14,1268.00 L232.64,1268.00 L233.15,1268.00 L233.65,1268.00 L234.15,1268.00 L234.65,1268.00 L235.15,1268.00 L235.65,1268.00 L236.15,1268.00 L236.65,1268.00 L237.16,1268.00 L237.66,1268.00 L238.16,1268.00 L238.66,1268.00 L239.16,1268.00 L239.66,1268.00 L240.16,1268.00 L240.66,1268.00 L241.17,1268.00 L241.67,1268.00 L242.17,1268.00 L242.67,1268.00 L243.17,1268.00 L243.67,1268.00 L244.17,1268.00 L244.67,1268.00 L245.18,1268.00 L245.68,1268.00 L246.18,1268.00 L246.68,1268.00 L247.18,1268.00 L247.68,1268.00 L248.18,1268.00 L248.68,1268.00 L249.19,1268.00 L249.69,1268.00 L250.19,1268.00 L250.69,1268.00 L251.19,1268.00 L251.69,1268.00 L252.19,1268.00 L252.69,1268.00 L253.20,1268.00 L253.70,1268.00 L254.20,1268.00 L254.70,1268.00 L255.20,1268.00 L255.70,1268.00 L256.20,1268.00 L256.70,1268.00 L257.21,1268.00 L257.71,1268.00 L258.21,1268.00 L258.71,1268.00 L259.21,1268.00 L259.71,1268.00 L260.21,1268.00 L260.72,1268.00 L261.22,1268.00 L261.72,1268.00 L262.22,1268.00 L262.72,1268.00 L263.22,1268.00 L263.73,1268.00 L264.23,1268.00 L264.73,1268.00 L265.23,1268.00 L265.73,1268.00 L266.23,1268.00 L266.73,1268.00 L267.24,1268.00 L267.74,1268.00 L268.24,1268.00 L268.74,1268.00 L269.24,1268.00 L269.74,1268.00 L270.24,1268.00 L270.75,1268.00 L271.25,1268.00 L271.75,1268.00 L272.25,1268.00 L272.75,1268.00 L273.25,1268.00 L273.76,1268.00 L274.26,1268.00 L274.76,1268.00 L275.26,1268.00 L275.76,1268.00 L276.26,1268.00 L276.76,1268.00 L277.27,1268.00 L277.77,1268.00 L278.27,1268.00 L278.77,1268.00 L279.27,1268.00 L279.77,1268.00 L280.27,1268.00 L280.78,1268.00 L281.28,1268.00 L281.78,1268.00 L282.28,1268.00 L282.78,1268.00 L283.28,1268.00 L283.79,1268.00 L284.29,1268.00 L284.79,1268.00 L285.29,1268.00 L285.79,1268.00 L286.29,1268.00 L286.79,1268.00 L287.30,1268.00 L287.80,1268.00 L288.30,1268.00 L288.80,1268.00 L289.30,1268.00 L289.80,1268.00 L290.30,1268.00 L290.80,1268.00 L291.30,1268.00 L291.80,1268.00 L292.30,1268.00 L292.80,1268.00 L293.30,1268.00 L293.80,1268.00 L294.30,1268.00 L294.80,1268.00 L295.30,1268.00 L295.80,1268.00 L296.30,1268.00 L296.80,1267.98 L297.30,1267.95 L297.80,1267.88 L298.30,1267.73 L298.80,1267.47 L299.33,1267.03 L299.85,1266.38 L300.38,1265.51 L300.91,1264.42 L301.44,1263.12 L301.96,1261.65 L302.49,1260.07 L303.02,1258.41 L303.55,1256.70 L304.07,1254.96 L304.60,1253.20 L305.12,1251.41 L305.64,1249.58 L306.15,1247.69 L306.67,1245.76 L307.19,1243.78 L307.71,1241.79 L308.23,1239.79 L308.75,1237.80 L309.26,1235.86 L309.78,1233.95 L310.30,1232.07 L310.83,1230.22 L311.35,1228.40 L311.88,1226.60 L312.41,1224.83 L312.94,1223.12 L313.46,1221.48 L313.99,1219.96 L314.52,1218.57 L315.05,1217.32 L315.57,1216.23 L316.10,1215.28 L316.61,1214.46 L317.13,1213.73 L317.64,1213.07 L318.16,1212.46 L318.67,1211.90 L319.19,1211.38 L319.70,1210.91 L320.21,1210.49 L320.73,1210.11 L321.24,1209.80 L321.76,1209.55 L322.27,1209.36 L322.79,1209.24 L323.30,1209.18 L323.82,1209.17 L324.34,1209.22 L324.86,1209.32 L325.39,1209.46 L325.91,1209.64 L326.43,1209.85 L326.95,1210.09 L327.47,1210.35 L327.99,1210.63 L328.51,1210.94 L329.04,1211.26 L329.56,1211.59 L330.08,1211.95 L330.60,1212.32 L331.11,1212.73 L331.61,1213.18 L332.12,1213.66 L332.62,1214.19 L333.12,1214.77 L333.63,1215.40 L334.13,1216.06 L334.64,1216.77 L335.14,1217.51 L335.65,1218.29 L336.16,1219.10 L336.66,1219.94 L337.17,1220.80 L337.67,1221.69 L338.18,1222.59 L338.68,1223.52 L339.19,1224.46 L339.69,1225.42 L340.19,1226.41 L340.70,1227.43 L341.21,1228.49 L341.73,1229.61 L342.24,1230.78 L342.76,1232.00 L343.27,1233.27 L343.79,1234.58 L344.30,1235.93 L344.81,1237.30 L345.33,1238.68 L345.84,1240.07 L346.36,1241.46 L346.87,1242.85 L347.39,1244.24 L347.90,1245.64 L348.41,1247.05 L348.93,1248.49 L349.44,1249.95 L349.96,1251.44 L350.47,1252.93 L350.99,1254.40 L351.50,1255.85 L352.01,1257.25 L352.53,1258.57 L353.04,1259.80 L353.56,1260.92 L354.07,1261.93 L354.59,1262.81 L355.10,1263.59 L355.61,1264.28 L356.12,1264.90 L356.64,1265.48 L357.15,1266.01 L357.66,1266.51 L358.17,1266.99 L358.68,1267.44 L359.19,1267.86 L359.71,1268.25 L360.22,1268.61 L360.73,1268.92 L361.24,1269.20 L361.75,1269.43 L362.26,1269.61 L362.78,1269.75 L363.29,1269.85 L363.80,1269.91 L364.30,1269.93 L364.80,1269.93 L365.30,1269.91 L365.80,1269.87 L366.30,1269.82 L366.80,1269.76 L367.30,1269.70 L367.80,1269.63 L368.30,1269.56 L368.80,1269.48 L369.30,1269.40 L369.80,1269.33 L370.30,1269.25 L370.80,1269.17 L371.33,1269.08 L371.86,1268.99 L372.39,1268.89 L372.91,1268.79 L373.44,1268.69 L373.97,1268.58 L374.50,1268.48 L375.03,1268.38 L375.56,1268.29 L376.09,1268.21 L376.61,1268.15 L377.14,1268.10 L377.67,1268.06 L378.20,1268.03 L378.70,1268.02 L379.20,1268.01 L379.70,1268.00 L380.20,1268.00 L380.71,1268.00 L381.21,1268.00 L381.71,1268.00 L382.21,1268.00 L382.71,1268.00 L383.21,1268.00 L383.71,1268.00 L384.21,1268.00 L384.72,1268.00 L385.22,1268.00 L385.72,1268.00 L386.22,1268.00 L386.72,1268.00 L387.22,1268.00 L387.72,1268.00 L388.22,1268.00 L388.73,1268.00 L389.23,1268.00 L389.73,1268.00 L390.23,1268.00 L390.73,1268.00 L391.23,1268.00 L391.73,1268.00 L392.23,1268.00 L392.74,1268.00 L393.24,1268.00 L393.74,1268.00 L394.24,1268.00 L394.74,1268.00 L395.24,1268.00 L395.74,1268.00 L396.24,1268.00 L396.75,1268.00 L397.25,1268.00 L397.75,1268.00 L398.25,1268.00 L398.75,1268.00 L399.25,1268.00 L399.75,1268.00 L400.25,1268.00 L400.76,1268.00 L401.26,1268.00 L401.76,1268.00 L402.26,1268.00 L402.76,1268.00 L403.26,1268.00 L403.76,1268.00 L404.26,1268.00 L404.77,1268.00 L405.27,1268.00 L405.77,1268.00 L406.27,1268.00 L406.77,1268.00 L407.27,1268.00 L407.77,1268.00 L408.27,1268.00 L408.78,1268.00 L409.28,1268.00 L409.78,1268.00 L410.28,1268.00 L410.78,1268.00 L411.28,1268.00 L411.78,1268.00 L412.28,1268.00 L412.79,1268.00 L413.29,1268.00 L413.79,1268.00 L414.29,1268.00 L414.79,1268.00 L415.29,1268.00 L415.79,1268.00 L416.29,1268.00 L416.80,1268.00 L417.30,1268.00 L417.80,1268.00 L418.30,1268.00 L418.80,1268.00 L419.30,1268.00 L419.80,1268.00 L420.30,1268.00 L420.80,1268.00 L421.30,1268.00 L421.80,1268.00 L422.30,1268.00 L422.80,1268.00 L423.30,1268.00 L423.80,1268.00 L424.30,1268.00 L424.80,1268.00 L425.30,1268.00 L425.80,1268.00 L426.30,1268.00 L426.80,1268.00 L427.30,1268.00 L427.80,1268.00 L428.30,1268.00 L428.80,1268.00 L429.30,1268.00 L429.80,1268.00 L430.30,1268.00 L430.80,1268.00 L431.30,1268.00 L431.80,1268.00 L432.30,1268.00 L432.80,1268.00 L433.30,1268.00 L433.80,1268.00 L434.30,1268.00 L434.80,1268.00 L435.30,1268.00 L435.80,1268.00 L436.30,1268.00 L436.80,1268.00 L437.30,1268.00 L437.80,1268.00 L438.30,1268.00 L438.80,1268.00 L439.30,1268.00 L439.80,1268.00 L440.30,1268.00 L440.80,1268.00 L441.30,1268.00 L441.80,1268.00 L442.30,1268.00 L442.80,1268.00 L443.30,1268.00 L443.80,1268.00 L444.30,1268.00 L444.80,1268.00 L445.30,1268.00 L445.80,1268.00 L446.30,1268.00 L446.80,1268.00 L447.30,1268.00 L447.80,1268.00 L448.30,1268.00 L448.80,1268.00 L449.30,1268.00 L449.80,1268.00 L450.30,1268.00 L450.80,1268.00 L451.30,1268.00 L451.80,1268.00 L452.30,1268.00 L452.80,1268.00 L453.30,1268.00 L453.80,1268.00 L454.30,1268.00 L454.80,1268.00 L455.30,1268.00 L455.80,1268.00 L456.30,1268.00 L456.80,1268.00 L457.30,1268.00 L457.80,1268.00 L458.30,1268.00 L458.80,1268.00 L459.30,1268.00 L459.80,1267.98 L460.30,1267.95 L460.80,1267.88 L461.30,1267.73 L461.80,1267.45 L462.33,1267.01 L462.85,1266.35 L463.38,1265.46 L463.91,1264.34 L464.44,1263.01 L464.96,1261.51 L465.49,1259.90 L466.02,1258.19 L466.55,1256.45 L467.07,1254.67 L467.60,1252.87 L468.12,1251.05 L468.64,1249.17 L469.15,1247.25 L469.67,1245.27 L470.19,1243.25 L470.71,1241.21 L471.23,1239.16 L471.75,1237.14 L472.26,1235.15 L472.78,1233.20 L473.30,1231.28 L473.83,1229.39 L474.35,1227.53 L474.88,1225.68 L475.41,1223.88 L475.94,1222.13 L476.46,1220.46 L476.99,1218.90 L477.52,1217.48 L478.05,1216.21 L478.57,1215.09 L479.10,1214.12 L479.61,1213.28 L480.13,1212.53 L480.64,1211.86 L481.16,1211.24 L481.67,1210.66 L482.19,1210.13 L482.70,1209.65 L483.21,1209.22 L483.73,1208.84 L484.24,1208.52 L484.76,1208.26 L485.27,1208.07 L485.79,1207.94 L486.30,1207.88 L486.82,1207.88 L487.34,1207.93 L487.86,1208.03 L488.39,1208.17 L488.91,1208.35 L489.43,1208.57 L489.95,1208.81 L490.47,1209.08 L490.99,1209.37 L491.51,1209.68 L492.04,1210.01 L492.56,1210.35 L493.08,1210.71 L493.60,1211.10 L494.11,1211.51 L494.61,1211.97 L495.12,1212.47 L495.62,1213.01 L496.12,1213.60 L496.63,1214.24 L497.13,1214.92 L497.64,1215.64 L498.14,1216.40 L498.65,1217.20 L499.16,1218.02 L499.66,1218.88 L500.17,1219.76 L500.67,1220.67 L501.18,1221.59 L501.68,1222.54 L502.19,1223.50 L502.69,1224.48 L503.19,1225.49 L503.70,1226.53 L504.21,1227.62 L504.73,1228.76 L505.24,1229.96 L505.76,1231.21 L506.27,1232.51 L506.79,1233.85 L507.30,1235.22 L507.81,1236.62 L508.33,1238.04 L508.84,1239.46 L509.36,1240.88 L509.87,1242.30 L510.39,1243.72 L510.90,1245.15 L511.41,1246.59 L511.93,1248.06 L512.44,1249.56 L512.96,1251.07 L513.47,1252.59 L513.99,1254.10 L514.50,1255.58 L515.01,1257.01 L515.53,1258.36 L516.04,1259.62 L516.56,1260.76 L517.07,1261.79 L517.59,1262.70 L518.10,1263.50 L518.61,1264.20 L519.12,1264.84 L519.64,1265.42 L520.15,1265.97 L520.66,1266.48 L521.17,1266.97 L521.68,1267.43 L522.19,1267.86 L522.71,1268.26 L523.22,1268.62 L523.73,1268.94 L524.24,1269.22 L524.75,1269.46 L525.26,1269.65 L525.78,1269.79 L526.29,1269.89 L526.80,1269.95 L527.30,1269.97 L527.80,1269.97 L528.30,1269.95 L528.80,1269.91 L529.30,1269.86 L529.80,1269.80 L530.30,1269.74 L530.80,1269.66 L531.30,1269.59 L531.80,1269.51 L532.30,1269.43 L532.80,1269.36 L533.30,1269.27 L533.80,1269.19 L534.33,1269.10 L534.86,1269.01 L535.39,1268.91 L535.91,1268.81 L536.44,1268.70 L536.97,1268.59 L537.50,1268.49 L538.03,1268.39 L538.56,1268.30 L539.09,1268.22 L539.61,1268.15 L540.14,1268.10 L540.67,1268.06 L541.20,1268.03 L541.70,1268.02 L542.21,1268.01 L542.71,1268.00 L543.21,1268.00 L543.71,1268.00 L544.22,1268.00 L544.72,1268.00 L545.22,1268.00 L545.72,1268.00 L546.23,1268.00 L546.73,1268.00 L547.23,1268.00 L547.73,1268.00 L548.24,1268.00 L548.74,1268.00 L549.24,1268.00 L549.74,1268.00 L550.25,1268.00 L550.75,1268.00 L551.25,1268.00 L551.76,1268.00 L552.26,1268.00 L552.76,1268.00 L553.26,1268.00 L553.77,1268.00 L554.27,1268.00 L554.77,1268.00 L555.27,1268.00 L555.78,1268.00 L556.28,1268.00 L556.78,1268.00 L557.28,1268.00 L557.79,1268.00 L558.29,1268.00 L558.79,1268.00 L559.29,1268.00 L559.80,1268.00 L560.30,1268.00" fill="none" stroke="#1b8a1b" stroke-width="2.05" stroke-linejoin="round" stroke-linecap="round"/>
<path d="M872.40,851.90 L872.90,851.17 L873.40,850.44 L873.90,849.71 L874.40,848.99 L874.90,848.26 L875.40,847.54 L875.90,846.82 L876.43,846.10 L876.96,845.38 L877.49,844.66 L878.01,843.94 L878.54,843.21 L879.07,842.48 L879.60,841.74 L880.12,840.98 L880.64,840.22 L881.16,839.44 L881.69,838.65 L882.21,837.85 L882.73,837.06 L883.25,836.28 L883.77,835.52 L884.29,834.79 L884.81,834.10 L885.34,833.45 L885.86,832.85 L886.38,832.29 L886.90,831.78 L887.41,831.31 L887.93,830.87 L888.44,830.45 L888.96,830.05 L889.47,829.68 L889.99,829.32 L890.50,828.99 L891.01,828.68 L891.53,828.40 L892.04,828.14 L892.56,827.92 L893.07,827.72 L893.59,827.56 L894.10,827.42 L894.61,827.31 L895.13,827.21 L895.64,827.12 L896.16,827.04 L896.67,826.96 L897.19,826.90 L897.70,826.84 L898.21,826.78 L898.73,826.74 L899.24,826.70 L899.76,826.67 L900.27,826.65 L900.79,826.64 L901.30,826.65 L901.81,826.67 L902.33,826.70 L902.84,826.75 L903.36,826.82 L903.87,826.91 L904.39,827.01 L904.90,827.12 L905.41,827.25 L905.93,827.38 L906.44,827.52 L906.96,827.67 L907.47,827.82 L907.99,827.98 L908.50,828.14 L909.01,828.32 L909.53,828.50 L910.04,828.70 L910.56,828.91 L911.07,829.13 L911.59,829.37 L912.10,829.62 L912.61,829.89 L913.13,830.16 L913.64,830.45 L914.16,830.74 L914.67,831.05 L915.19,831.37 L915.70,831.70 L916.21,832.05 L916.72,832.42 L917.23,832.81 L917.74,833.21 L918.25,833.63 L918.76,834.08 L919.27,834.53 L919.78,835.00 L920.29,835.48 L920.80,835.96 L921.35,835.71 L921.90,835.48 L922.45,835.29 L923.00,835.16 L923.51,835.08 L924.03,835.05 L924.54,835.05 L925.06,835.07 L925.57,835.11 L926.09,835.16 L926.60,835.22 L927.11,835.28 L927.63,835.35 L928.14,835.42 L928.66,835.49 L929.17,835.56 L929.69,835.64 L930.20,835.71 L930.70,835.79 L931.20,835.87 L931.71,835.96 L932.21,836.05 L932.71,836.14 L933.21,836.24 L933.72,836.34 L934.22,836.45 L934.72,836.56 L935.22,836.67 L935.73,836.79 L936.23,836.91 L936.73,837.04 L937.23,837.16 L937.73,837.29 L938.24,837.42 L938.74,837.56 L939.24,837.70 L939.74,837.83 L940.25,837.97 L940.75,838.11 L941.25,838.25 L941.75,838.40 L942.26,838.54 L942.76,838.68 L943.26,838.82 L943.76,838.97 L944.27,839.11 L944.77,839.25 L945.27,839.39 L945.77,839.53 L946.27,839.67 L946.78,839.80 L947.28,839.93 L947.78,840.07 L948.28,840.19 L948.79,840.32 L949.29,840.44 L949.79,840.56 L950.29,840.68 L950.80,840.80 L951.30,840.91 L951.80,841.02 L952.31,841.12 L952.81,841.23 L953.32,841.33 L953.83,841.43 L954.34,841.54 L954.84,841.64 L955.35,841.74 L955.86,841.84 L956.36,841.94 L956.87,842.04 L957.38,842.14 L957.88,842.23 L958.39,842.33 L958.90,842.43 L959.41,842.53 L959.91,842.62 L960.42,842.72 L960.93,842.81 L961.43,842.91 L961.94,843.00 L962.45,843.09 L962.95,843.19 L963.46,843.28 L963.97,843.37 L964.48,843.46 L964.98,843.55 L965.49,843.64 L966.00,843.73 L966.50,843.82 L967.01,843.91 L967.52,843.99 L968.02,844.08 L968.53,844.17 L969.04,844.25 L969.55,844.34 L970.05,844.42 L970.56,844.51 L971.07,844.59 L971.57,844.67 L972.08,844.76 L972.59,844.84 L973.09,844.92 L973.60,845.00 L974.11,845.08 L974.62,845.16 L975.12,845.24 L975.63,845.32 L976.14,845.40 L976.64,845.48 L977.15,845.55 L977.66,845.63 L978.16,845.71 L978.67,845.78 L979.18,845.86 L979.69,845.93 L980.19,846.01 L980.70,846.08 L981.21,846.15 L981.71,846.22 L982.22,846.30 L982.73,846.37 L983.24,846.44 L983.74,846.51 L984.25,846.58 L984.76,846.65 L985.26,846.72 L985.77,846.79 L986.28,846.85 L986.78,846.92 L987.29,846.99 L987.80,847.05 L988.31,847.12 L988.81,847.19 L989.32,847.25 L989.83,847.32 L990.33,847.38 L990.84,847.45 L991.35,847.51 L991.85,847.57 L992.36,847.64 L992.87,847.70 L993.38,847.76 L993.88,847.82 L994.39,847.89 L994.90,847.95 L995.40,848.01 L995.91,848.07 L996.42,848.13 L996.92,848.19 L997.43,848.25 L997.94,848.31 L998.45,848.37 L998.95,848.43 L999.46,848.49 L999.97,848.54 L1000.47,848.60 L1000.98,848.66 L1001.49,848.72 L1001.99,848.78 L1002.50,848.83 L1003.01,848.89 L1003.52,848.95 L1004.02,849.01 L1004.53,849.06 L1005.04,849.12 L1005.54,849.18 L1006.05,849.23 L1006.56,849.29 L1007.06,849.34 L1007.57,849.40 L1008.08,849.46 L1008.59,849.51 L1009.09,849.57 L1009.60,849.62 L1010.11,849.68 L1010.61,849.73 L1011.12,849.79 L1011.63,849.84 L1012.13,849.89 L1012.64,849.95 L1013.15,850.00 L1013.65,850.05 L1014.16,850.11 L1014.66,850.16 L1015.17,850.21 L1015.68,850.26 L1016.18,850.32 L1016.69,850.37 L1017.20,850.42 L1017.70,850.47 L1018.21,850.52 L1018.72,850.57 L1019.22,850.62 L1019.73,850.67 L1020.24,850.72 L1020.74,850.77 L1021.25,850.82 L1021.75,850.87 L1022.26,850.91 L1022.77,850.96 L1023.27,851.01 L1023.78,851.06 L1024.29,851.11 L1024.79,851.15 L1025.30,851.20 L1025.80,850.47 L1026.30,849.74 L1026.80,849.02 L1027.30,848.30 L1027.80,847.58 L1028.30,846.86 L1028.80,846.14 L1029.33,845.43 L1029.86,844.71 L1030.39,843.99 L1030.91,843.27 L1031.44,842.54 L1031.97,841.82 L1032.50,841.08 L1033.02,840.33 L1033.54,839.56 L1034.06,838.79 L1034.59,838.00 L1035.11,837.21 L1035.63,836.42 L1036.15,835.65 L1036.67,834.89 L1037.19,834.16 L1037.71,833.47 L1038.24,832.82 L1038.76,832.22 L1039.28,831.67 L1039.80,831.16 L1040.31,830.69 L1040.83,830.25 L1041.34,829.83 L1041.86,829.44 L1042.37,829.07 L1042.89,828.71 L1043.40,828.38 L1043.91,828.07 L1044.43,827.79 L1044.94,827.54 L1045.46,827.31 L1045.97,827.12 L1046.49,826.96 L1047.00,826.82 L1047.51,826.70 L1048.03,826.60 L1048.54,826.51 L1049.06,826.43 L1049.57,826.36 L1050.09,826.30 L1050.60,826.24 L1051.11,826.18 L1051.63,826.14 L1052.14,826.10 L1052.66,826.07 L1053.17,826.05 L1053.69,826.04 L1054.20,826.05 L1054.71,826.06 L1055.23,826.10 L1055.74,826.15 L1056.26,826.22 L1056.77,826.31 L1057.29,826.41 L1057.80,826.52 L1058.31,826.65 L1058.83,826.78 L1059.34,826.92 L1059.86,827.06 L1060.37,827.22 L1060.89,827.37 L1061.40,827.54 L1061.91,827.71 L1062.43,827.89 L1062.94,828.09 L1063.46,828.30 L1063.97,828.52 L1064.49,828.76 L1065.00,829.01 L1065.51,829.27 L1066.03,829.55 L1066.54,829.83 L1067.06,830.13 L1067.57,830.43 L1068.09,830.75 L1068.60,831.08 L1069.11,831.43 L1069.62,831.80 L1070.13,832.18 L1070.64,832.58 L1071.15,833.01 L1071.66,833.45 L1072.17,833.90 L1072.68,834.37 L1073.19,834.84 L1073.70,835.32 L1074.25,835.07 L1074.80,834.84 L1075.35,834.66 L1075.90,834.52 L1076.41,834.45 L1076.93,834.41 L1077.44,834.41 L1077.96,834.44 L1078.47,834.48 L1078.99,834.53 L1079.50,834.58 L1080.01,834.65 L1080.53,834.71 L1081.04,834.78 L1081.56,834.85 L1082.07,834.93 L1082.59,835.00 L1083.10,835.08 L1083.60,835.15 L1084.10,835.23 L1084.61,835.32 L1085.11,835.41 L1085.61,835.50 L1086.11,835.60 L1086.62,835.70 L1087.12,835.81 L1087.62,835.92 L1088.12,836.03 L1088.63,836.15 L1089.13,836.27 L1089.63,836.39 L1090.13,836.52 L1090.63,836.65 L1091.14,836.78 L1091.64,836.92 L1092.14,837.05 L1092.64,837.19 L1093.15,837.33 L1093.65,837.47 L1094.15,837.61 L1094.65,837.75 L1095.16,837.89 L1095.66,838.03 L1096.16,838.18 L1096.66,838.32 L1097.17,838.46 L1097.67,838.60 L1098.17,838.74 L1098.67,838.88 L1099.17,839.01 L1099.68,839.15 L1100.18,839.28 L1100.68,839.41 L1101.18,839.54 L1101.69,839.67 L1102.19,839.79 L1102.69,839.91 L1103.19,840.03 L1103.70,840.14 L1104.20,840.25 L1104.70,840.36 L1105.21,840.46 L1105.71,840.57 L1106.22,840.67 L1106.73,840.77 L1107.24,840.88 L1107.74,840.98 L1108.25,841.08 L1108.76,841.18 L1109.26,841.28 L1109.77,841.38 L1110.28,841.47 L1110.78,841.57 L1111.29,841.67 L1111.80,841.77 L1112.31,841.86 L1112.81,841.96 L1113.32,842.05 L1113.83,842.15 L1114.33,842.24 L1114.84,842.33 L1115.35,842.43 L1115.85,842.52 L1116.36,842.61 L1116.87,842.70 L1117.38,842.79 L1117.88,842.88 L1118.39,842.97 L1118.90,843.06 L1119.40,843.15 L1119.91,843.24 L1120.42,843.32 L1120.92,843.41 L1121.43,843.50 L1121.94,843.58 L1122.45,843.67 L1122.95,843.75 L1123.46,843.84 L1123.97,843.92 L1124.47,844.00 L1124.98,844.09 L1125.49,844.17 L1125.99,844.25 L1126.50,844.33 L1127.01,844.41 L1127.52,844.49 L1128.02,844.57 L1128.53,844.65 L1129.04,844.73 L1129.54,844.80 L1130.05,844.88 L1130.56,844.96 L1131.06,845.03 L1131.57,845.11 L1132.08,845.18 L1132.59,845.26 L1133.09,845.33 L1133.60,845.40 L1134.11,845.47 L1134.61,845.55 L1135.12,845.62 L1135.63,845.69 L1136.14,845.76 L1136.64,845.82 L1137.15,845.89 L1137.66,845.96 L1138.16,846.03 L1138.67,846.09 L1139.18,846.16 L1139.68,846.22 L1140.19,846.29 L1140.70,846.35 L1141.21,846.41 L1141.71,846.48 L1142.22,846.54 L1142.73,846.60 L1143.23,846.66 L1143.74,846.72 L1144.25,846.78 L1144.75,846.84 L1145.26,846.90 L1145.77,846.96 L1146.28,847.02 L1146.78,847.08 L1147.29,847.14 L1147.80,847.20 L1148.30,847.26 L1148.81,847.31 L1149.32,847.37 L1149.82,847.43 L1150.33,847.49 L1150.84,847.55 L1151.35,847.61 L1151.85,847.66 L1152.36,847.72 L1152.87,847.78 L1153.37,847.84 L1153.88,847.90 L1154.39,847.96 L1154.89,848.01 L1155.40,848.07 L1155.91,848.13 L1156.42,848.19 L1156.92,848.25 L1157.43,848.31 L1157.94,848.37 L1158.44,848.43 L1158.95,848.49 L1159.46,848.56 L1159.96,848.62 L1160.47,848.68 L1160.98,848.74 L1161.49,848.81 L1161.99,848.87 L1162.50,848.93 L1163.01,849.00 L1163.51,849.06 L1164.02,849.13 L1164.53,849.19 L1165.03,849.26 L1165.54,849.32 L1166.05,849.39 L1166.55,849.45 L1167.06,849.52 L1167.56,849.59 L1168.07,849.65 L1168.58,849.72 L1169.08,849.78 L1169.59,849.85 L1170.10,849.92 L1170.60,849.98 L1171.11,850.05 L1171.62,850.12 L1172.12,850.19 L1172.63,850.25 L1173.14,850.32 L1173.64,850.39 L1174.15,850.46 L1174.65,850.52 L1175.16,850.59 L1175.67,850.66 L1176.17,850.73 L1176.68,850.80 L1177.19,850.86 L1177.69,850.93 L1178.20,851.00 L1178.70,850.24 L1179.20,849.48 L1179.70,848.72 L1180.20,847.96 L1180.70,847.21 L1181.20,846.45 L1181.70,845.70 L1182.23,844.95 L1182.76,844.20 L1183.29,843.44 L1183.81,842.69 L1184.34,841.93 L1184.87,841.17 L1185.40,840.40 L1185.92,839.61 L1186.44,838.81 L1186.96,838.00 L1187.49,837.17 L1188.01,836.34 L1188.53,835.52 L1189.05,834.70 L1189.57,833.91 L1190.09,833.15 L1190.61,832.43 L1191.14,831.75 L1191.66,831.12 L1192.18,830.54 L1192.70,830.00 L1193.21,829.51 L1193.73,829.05 L1194.24,828.62 L1194.76,828.20 L1195.27,827.81 L1195.79,827.44 L1196.30,827.09 L1196.81,826.77 L1197.33,826.47 L1197.84,826.21 L1198.36,825.97 L1198.87,825.77 L1199.39,825.60 L1199.90,825.46 L1200.41,825.34 L1200.93,825.23 L1201.44,825.14 L1201.96,825.06 L1202.47,824.98 L1202.99,824.91 L1203.50,824.85 L1204.01,824.79 L1204.53,824.74 L1205.04,824.70 L1205.56,824.67 L1206.07,824.65 L1206.59,824.64 L1207.10,824.65 L1207.61,824.67 L1208.13,824.71 L1208.64,824.76 L1209.16,824.83 L1209.67,824.92 L1210.19,825.03 L1210.70,825.15 L1211.21,825.28 L1211.73,825.42 L1212.24,825.56 L1212.76,825.72 L1213.27,825.87 L1213.79,826.04 L1214.30,826.21 L1214.81,826.39 L1215.33,826.58 L1215.84,826.79 L1216.36,827.01 L1216.87,827.24 L1217.39,827.49 L1217.90,827.75 L1218.41,828.03 L1218.93,828.32 L1219.44,828.62 L1219.96,828.92 L1220.47,829.25 L1220.99,829.58 L1221.50,829.93 L1222.01,830.29 L1222.52,830.67 L1223.03,831.07 L1223.54,831.50 L1224.05,831.94 L1224.56,832.40 L1225.07,832.88 L1225.58,833.37 L1226.09,833.86 L1226.60,834.37 L1227.15,834.10 L1227.70,833.86 L1228.25,833.67 L1228.80,833.53 L1229.31,833.45 L1229.83,833.41 L1230.34,833.41 L1230.86,833.44 L1231.37,833.48 L1231.89,833.53 L1232.40,833.59 L1232.91,833.66 L1233.43,833.73 L1233.94,833.80 L1234.46,833.88 L1234.97,833.95 L1235.49,834.03 L1236.00,834.11 L1236.50,834.19 L1237.00,834.27 L1237.51,834.36 L1238.01,834.46 L1238.51,834.55 L1239.01,834.66 L1239.52,834.76 L1240.02,834.87 L1240.52,834.99 L1241.02,835.11 L1241.53,835.23 L1242.03,835.36 L1242.53,835.49 L1243.03,835.62 L1243.53,835.76 L1244.04,835.90 L1244.54,836.04 L1245.04,836.18 L1245.54,836.32 L1246.05,836.47 L1246.55,836.61 L1247.05,836.76 L1247.55,836.91 L1248.06,837.06 L1248.56,837.21 L1249.06,837.36 L1249.56,837.50 L1250.07,837.65 L1250.57,837.80 L1251.07,837.95 L1251.57,838.09 L1252.07,838.23 L1252.58,838.37 L1253.08,838.51 L1253.58,838.65 L1254.08,838.79 L1254.59,838.92 L1255.09,839.05 L1255.59,839.17 L1256.09,839.29 L1256.60,839.41 L1257.10,839.53 L1257.60,839.64 L1258.11,839.75 L1258.61,839.86 L1259.12,839.97 L1259.63,840.08 L1260.14,840.18 L1260.64,840.29 L1261.15,840.40 L1261.66,840.50 L1262.16,840.61 L1262.67,840.71 L1263.18,840.81 L1263.68,840.92 L1264.19,841.02 L1264.70,841.12 L1265.21,841.22 L1265.71,841.32 L1266.22,841.42 L1266.73,841.52 L1267.23,841.62 L1267.74,841.72 L1268.25,841.81 L1268.75,841.91 L1269.26,842.01 L1269.77,842.10 L1270.28,842.20 L1270.78,842.29 L1271.29,842.39 L1271.80,842.48 L1272.30,842.57 L1272.81,842.66 L1273.32,842.76 L1273.82,842.85 L1274.33,842.94 L1274.84,843.03 L1275.35,843.12 L1275.85,843.21 L1276.36,843.29 L1276.87,843.38 L1277.37,843.47 L1277.88,843.55 L1278.39,843.64 L1278.89,843.72 L1279.40,843.81 L1279.91,843.89 L1280.42,843.98 L1280.92,844.06 L1281.43,844.14 L1281.94,844.22 L1282.44,844.30 L1282.95,844.38 L1283.46,844.46 L1283.96,844.54 L1284.47,844.62 L1284.98,844.70 L1285.49,844.77 L1285.99,844.85 L1286.50,844.93 L1287.00,845.00 L1287.51,845.07 L1288.01,845.15 L1288.51,845.22 L1289.01,845.29 L1289.52,845.37 L1290.02,845.44 L1290.52,845.51 L1291.02,845.58 L1291.53,845.65 L1292.03,845.72 L1292.53,845.79 L1293.03,845.85 L1293.54,845.92 L1294.04,845.99 L1294.54,846.06 L1295.04,846.12 L1295.55,846.19 L1296.05,846.25 L1296.55,846.32 L1297.05,846.38 L1297.56,846.44 L1298.06,846.51 L1298.56,846.57 L1299.06,846.63 L1299.57,846.69 L1300.07,846.75 L1300.57,846.81 L1301.07,846.87 L1301.58,846.93 L1302.08,846.99 L1302.58,847.05 L1303.08,847.10 L1303.59,847.16 L1304.09,847.22 L1304.59,847.27 L1305.09,847.33 L1305.60,847.38 L1306.10,847.43" fill="none" stroke="#5c5c5c" stroke-width="1.75" stroke-linejoin="round" stroke-linecap="round"/>
<path d="M873.50,914.40 L874.03,913.38 L874.56,912.34 L875.09,911.28 L875.62,910.18 L876.15,909.05 L876.68,907.87 L877.21,906.65 L877.74,905.40 L878.27,904.09 L878.80,902.73 L879.32,901.32 L879.84,899.84 L880.35,898.31 L880.87,896.73 L881.39,895.12 L881.91,893.50 L882.43,891.87 L882.95,890.27 L883.46,888.69 L883.98,887.15 L884.50,885.64 L885.03,884.15 L885.55,882.69 L886.08,881.24 L886.61,879.83 L887.14,878.46 L887.66,877.17 L888.19,875.96 L888.72,874.87 L889.25,873.90 L889.77,873.06 L890.30,872.33 L890.81,871.71 L891.33,871.17 L891.84,870.69 L892.36,870.25 L892.87,869.85 L893.39,869.48 L893.90,869.15 L894.41,868.85 L894.93,868.58 L895.44,868.36 L895.96,868.19 L896.47,868.05 L896.99,867.97 L897.50,867.93 L898.02,867.93 L898.54,867.98 L899.06,868.06 L899.59,868.17 L900.11,868.31 L900.63,868.47 L901.15,868.66 L901.67,868.87 L902.19,869.10 L902.71,869.34 L903.24,869.59 L903.76,869.86 L904.28,870.14 L904.80,870.44 L905.30,870.76 L905.81,871.11 L906.31,871.50 L906.82,871.92 L907.32,872.38 L907.83,872.87 L908.33,873.40 L908.84,873.96 L909.34,874.55 L909.85,875.17 L910.36,875.81 L910.86,876.48 L911.37,877.16 L911.87,877.87 L912.38,878.58 L912.88,879.32 L913.38,880.06 L913.89,880.83 L914.39,881.61 L914.90,882.42 L915.41,883.27 L915.93,884.16 L916.44,885.10 L916.96,886.07 L917.47,887.09 L917.99,888.14 L918.50,889.22 L919.01,890.31 L919.53,891.40 L920.04,892.50 L920.56,893.59 L921.07,894.68 L921.59,895.75 L922.10,896.82 L922.61,897.89 L923.13,898.96 L923.64,900.05 L924.16,901.13 L924.67,902.22 L925.19,903.29 L925.70,904.34 L926.21,905.36 L926.73,906.33 L927.24,907.25 L927.76,908.09 L928.27,908.87 L928.79,909.57 L929.30,910.20 L929.82,910.77 L930.33,911.29 L930.85,911.76 L931.36,912.20 L931.88,912.62 L932.39,913.00 L932.91,913.36 L933.42,913.70 L933.94,914.01 L934.45,914.30 L934.97,914.56 L935.48,914.80 L936.00,915.02 L936.50,915.22 L937.00,915.39 L937.50,915.54 L938.00,915.66 L938.50,915.75 L939.00,915.81 L939.50,915.84 L940.00,915.84 L940.50,915.83 L941.00,915.80 L941.50,915.76 L942.00,915.71 L942.50,915.66 L943.00,915.60 L943.50,915.54 L944.00,915.48 L944.50,915.42 L945.00,915.36 L945.50,915.30 L946.00,915.25 L946.50,915.20 L947.00,915.15 L947.50,915.11 L948.00,915.08 L948.50,915.05 L949.00,915.02 L949.50,915.00 L950.00,914.97 L950.50,914.95 L951.00,914.93 L951.50,914.90 L952.00,914.88 L952.50,914.86 L953.00,914.84 L953.50,914.82 L954.00,914.80 L954.50,914.78 L955.00,914.76 L955.50,914.74 L956.00,914.73 L956.50,914.71 L957.00,914.70 L957.50,914.68 L958.00,914.67 L958.50,914.66 L959.00,914.65 L959.50,914.64 L960.00,914.63 L960.50,914.62 L961.00,914.62 L961.50,914.61 L962.00,914.61 L962.50,914.60 L963.00,914.60 L963.50,914.60 L964.00,914.60 L964.51,914.60 L965.01,914.60 L965.51,914.60 L966.01,914.60 L966.51,914.60 L967.02,914.60 L967.52,914.60 L968.02,914.60 L968.52,914.60 L969.02,914.60 L969.52,914.60 L970.03,914.60 L970.53,914.60 L971.03,914.60 L971.53,914.60 L972.03,914.60 L972.54,914.60 L973.04,914.60 L973.54,914.60 L974.04,914.60 L974.54,914.60 L975.05,914.60 L975.55,914.60 L976.05,914.60 L976.55,914.60 L977.05,914.60 L977.56,914.60 L978.06,914.60 L978.56,914.60 L979.06,914.60 L979.56,914.60 L980.07,914.60 L980.57,914.60 L981.07,914.60 L981.57,914.60 L982.07,914.60 L982.58,914.60 L983.08,914.60 L983.58,914.60 L984.08,914.60 L984.58,914.60 L985.08,914.60 L985.59,914.60 L986.09,914.60 L986.59,914.60 L987.09,914.60 L987.59,914.60 L988.10,914.60 L988.60,914.60 L989.10,914.60 L989.60,914.60 L990.10,914.60 L990.61,914.60 L991.11,914.60 L991.61,914.60 L992.11,914.60 L992.61,914.60 L993.12,914.60 L993.62,914.60 L994.12,914.60 L994.62,914.60 L995.12,914.60 L995.62,914.60 L996.13,914.60 L996.63,914.60 L997.13,914.60 L997.63,914.60 L998.13,914.60 L998.64,914.60 L999.14,914.60 L999.64,914.60 L1000.14,914.60 L1000.64,914.60 L1001.15,914.60 L1001.65,914.60 L1002.15,914.60 L1002.65,914.60 L1003.15,914.60 L1003.66,914.60 L1004.16,914.60 L1004.66,914.60 L1005.16,914.60 L1005.66,914.60 L1006.17,914.60 L1006.67,914.60 L1007.17,914.60 L1007.67,914.60 L1008.17,914.60 L1008.68,914.60 L1009.18,914.60 L1009.68,914.60 L1010.18,914.60 L1010.68,914.60 L1011.18,914.60 L1011.69,914.60 L1012.19,914.60 L1012.69,914.60 L1013.19,914.60 L1013.69,914.60 L1014.20,914.60 L1014.70,914.60 L1015.20,914.60 L1015.70,914.60 L1016.20,914.60 L1016.70,914.60 L1017.20,914.60 L1017.70,914.60 L1018.20,914.60 L1018.70,914.60 L1019.20,914.60 L1019.70,914.60 L1020.20,914.60 L1020.70,914.60 L1021.20,914.60 L1021.70,914.60 L1022.20,914.60 L1022.70,914.60 L1023.20,914.59 L1023.70,914.56 L1024.20,914.50 L1024.70,914.38 L1025.20,914.16 L1025.73,913.80 L1026.25,913.27 L1026.78,912.54 L1027.31,911.64 L1027.84,910.56 L1028.36,909.35 L1028.89,908.03 L1029.42,906.65 L1029.95,905.22 L1030.47,903.76 L1031.00,902.28 L1031.52,900.77 L1032.04,899.22 L1032.55,897.61 L1033.07,895.96 L1033.59,894.27 L1034.11,892.56 L1034.63,890.85 L1035.15,889.16 L1035.66,887.50 L1036.18,885.88 L1036.70,884.29 L1037.23,882.73 L1037.75,881.19 L1038.28,879.68 L1038.81,878.20 L1039.34,876.77 L1039.86,875.41 L1040.39,874.14 L1040.92,873.00 L1041.45,871.98 L1041.97,871.10 L1042.50,870.35 L1043.01,869.70 L1043.53,869.13 L1044.04,868.63 L1044.56,868.17 L1045.07,867.75 L1045.59,867.36 L1046.10,867.01 L1046.61,866.69 L1047.13,866.42 L1047.64,866.19 L1048.16,866.00 L1048.67,865.87 L1049.19,865.78 L1049.70,865.74 L1050.22,865.74 L1050.74,865.78 L1051.26,865.87 L1051.79,865.98 L1052.31,866.13 L1052.83,866.30 L1053.35,866.50 L1053.87,866.72 L1054.39,866.96 L1054.91,867.21 L1055.44,867.47 L1055.96,867.75 L1056.48,868.05 L1057.00,868.36 L1057.51,868.70 L1058.01,869.07 L1058.52,869.47 L1059.02,869.91 L1059.53,870.39 L1060.03,870.91 L1060.54,871.46 L1061.04,872.05 L1061.55,872.67 L1062.05,873.32 L1062.56,873.99 L1063.06,874.69 L1063.57,875.40 L1064.07,876.14 L1064.58,876.89 L1065.08,877.66 L1065.59,878.44 L1066.09,879.24 L1066.60,880.06 L1067.10,880.91 L1067.61,881.80 L1068.13,882.73 L1068.64,883.71 L1069.16,884.73 L1069.67,885.80 L1070.19,886.90 L1070.70,888.02 L1071.21,889.16 L1071.73,890.31 L1072.24,891.46 L1072.76,892.61 L1073.27,893.74 L1073.79,894.87 L1074.30,895.98 L1074.81,897.10 L1075.33,898.23 L1075.84,899.36 L1076.36,900.50 L1076.87,901.64 L1077.39,902.76 L1077.90,903.86 L1078.41,904.93 L1078.93,905.95 L1079.44,906.90 L1079.96,907.79 L1080.47,908.60 L1080.99,909.33 L1081.50,909.99 L1082.02,910.59 L1082.53,911.13 L1083.05,911.63 L1083.56,912.09 L1084.08,912.52 L1084.59,912.93 L1085.11,913.31 L1085.62,913.66 L1086.14,913.98 L1086.65,914.28 L1087.17,914.56 L1087.68,914.81 L1088.20,915.04 L1088.70,915.25 L1089.20,915.43 L1089.70,915.59 L1090.20,915.71 L1090.70,915.81 L1091.20,915.87 L1091.70,915.90 L1092.20,915.90 L1092.70,915.88 L1093.20,915.85 L1093.70,915.81 L1094.20,915.76 L1094.70,915.71 L1095.20,915.65 L1095.70,915.58 L1096.20,915.52 L1096.70,915.46 L1097.20,915.39 L1097.70,915.33 L1098.20,915.28 L1098.70,915.23 L1099.20,915.18 L1099.70,915.14 L1100.20,915.10 L1100.70,915.07 L1101.20,915.04 L1101.70,915.02 L1102.20,914.99 L1102.70,914.97 L1103.20,914.94 L1103.70,914.92 L1104.20,914.90 L1104.70,914.87 L1105.20,914.85 L1105.70,914.83 L1106.20,914.81 L1106.70,914.79 L1107.20,914.77 L1107.70,914.75 L1108.20,914.73 L1108.70,914.72 L1109.20,914.70 L1109.70,914.69 L1110.20,914.67 L1110.70,914.66 L1111.20,914.65 L1111.70,914.64 L1112.20,914.63 L1112.70,914.62 L1113.20,914.62 L1113.70,914.61 L1114.20,914.61 L1114.70,914.60 L1115.20,914.60 L1115.70,914.60 L1116.21,914.60 L1116.71,914.60 L1117.21,914.60 L1117.71,914.60 L1118.22,914.60 L1118.72,914.60 L1119.22,914.60 L1119.73,914.60 L1120.23,914.60 L1120.73,914.60 L1121.23,914.60 L1121.74,914.60 L1122.24,914.60 L1122.74,914.60 L1123.25,914.60 L1123.75,914.60 L1124.25,914.60 L1124.75,914.60 L1125.26,914.60 L1125.76,914.60 L1126.26,914.60 L1126.77,914.60 L1127.27,914.60 L1127.77,914.60 L1128.28,914.60 L1128.78,914.60 L1129.28,914.60 L1129.78,914.60 L1130.29,914.60 L1130.79,914.60 L1131.29,914.60 L1131.80,914.60 L1132.30,914.60 L1132.80,914.60 L1133.30,914.60 L1133.81,914.60 L1134.31,914.60 L1134.81,914.60 L1135.32,914.60 L1135.82,914.60 L1136.32,914.60 L1136.82,914.60 L1137.33,914.60 L1137.83,914.60 L1138.33,914.60 L1138.84,914.60 L1139.34,914.60 L1139.84,914.60 L1140.34,914.60 L1140.85,914.60 L1141.35,914.60 L1141.85,914.60 L1142.36,914.60 L1142.86,914.60 L1143.36,914.60 L1143.86,914.60 L1144.37,914.60 L1144.87,914.60 L1145.37,914.60 L1145.88,914.60 L1146.38,914.60 L1146.88,914.60 L1147.38,914.60 L1147.89,914.60 L1148.39,914.60 L1148.89,914.60 L1149.40,914.60 L1149.90,914.60 L1150.40,914.60 L1150.90,914.60 L1151.41,914.60 L1151.91,914.60 L1152.41,914.60 L1152.92,914.60 L1153.42,914.60 L1153.92,914.60 L1154.42,914.60 L1154.93,914.60 L1155.43,914.60 L1155.93,914.60 L1156.44,914.60 L1156.94,914.60 L1157.44,914.60 L1157.95,914.60 L1158.45,914.60 L1158.95,914.60 L1159.45,914.60 L1159.96,914.60 L1160.46,914.60 L1160.96,914.60 L1161.47,914.60 L1161.97,914.60 L1162.47,914.60 L1162.97,914.60 L1163.48,914.60 L1163.98,914.60 L1164.48,914.60 L1164.99,914.60 L1165.49,914.60 L1165.99,914.60 L1166.49,914.60 L1167.00,914.60 L1167.50,914.60 L1168.00,914.60 L1168.50,914.60 L1169.00,914.60 L1169.50,914.60 L1170.00,914.60 L1170.50,914.60 L1171.00,914.60 L1171.50,914.60 L1172.00,914.60 L1172.50,914.60 L1173.00,914.60 L1173.50,914.60 L1174.00,914.60 L1174.50,914.60 L1175.00,914.60 L1175.50,914.59 L1176.00,914.56 L1176.50,914.50 L1177.00,914.38 L1177.50,914.15 L1178.03,913.78 L1178.55,913.24 L1179.08,912.51 L1179.61,911.59 L1180.14,910.49 L1180.66,909.26 L1181.19,907.92 L1181.72,906.52 L1182.25,905.07 L1182.77,903.59 L1183.30,902.08 L1183.82,900.55 L1184.34,898.97 L1184.85,897.34 L1185.37,895.66 L1185.89,893.94 L1186.41,892.20 L1186.93,890.46 L1187.45,888.74 L1187.96,887.06 L1188.48,885.41 L1189.00,883.79 L1189.53,882.21 L1190.05,880.65 L1190.58,879.11 L1191.11,877.60 L1191.64,876.15 L1192.16,874.77 L1192.69,873.48 L1193.22,872.32 L1193.75,871.29 L1194.27,870.39 L1194.80,869.62 L1195.31,868.96 L1195.83,868.39 L1196.34,867.88 L1196.86,867.41 L1197.37,866.98 L1197.89,866.59 L1198.40,866.23 L1198.91,865.91 L1199.43,865.63 L1199.94,865.40 L1200.46,865.21 L1200.97,865.07 L1201.49,864.98 L1202.00,864.94 L1202.52,864.94 L1203.04,864.99 L1203.56,865.07 L1204.09,865.19 L1204.61,865.34 L1205.13,865.52 L1205.65,865.72 L1206.17,865.94 L1206.69,866.18 L1207.21,866.43 L1207.74,866.70 L1208.26,866.99 L1208.78,867.29 L1209.30,867.61 L1209.81,867.95 L1210.31,868.33 L1210.82,868.74 L1211.32,869.18 L1211.83,869.67 L1212.33,870.20 L1212.84,870.76 L1213.34,871.36 L1213.85,871.99 L1214.35,872.64 L1214.86,873.33 L1215.36,874.03 L1215.87,874.76 L1216.37,875.51 L1216.88,876.27 L1217.38,877.05 L1217.88,877.85 L1218.39,878.66 L1218.89,879.50 L1219.40,880.36 L1219.91,881.26 L1220.43,882.21 L1220.94,883.20 L1221.46,884.24 L1221.97,885.33 L1222.49,886.44 L1223.00,887.59 L1223.51,888.75 L1224.03,889.92 L1224.54,891.09 L1225.06,892.25 L1225.57,893.40 L1226.09,894.54 L1226.60,895.68 L1227.11,896.82 L1227.63,897.96 L1228.14,899.11 L1228.66,900.27 L1229.17,901.42 L1229.69,902.57 L1230.20,903.69 L1230.71,904.77 L1231.23,905.80 L1231.74,906.78 L1232.26,907.68 L1232.77,908.50 L1233.29,909.25 L1233.80,909.92 L1234.32,910.52 L1234.83,911.07 L1235.35,911.58 L1235.86,912.05 L1236.38,912.49 L1236.89,912.90 L1237.41,913.28 L1237.92,913.64 L1238.44,913.97 L1238.95,914.28 L1239.47,914.56 L1239.98,914.81 L1240.50,915.05 L1241.00,915.26 L1241.50,915.44 L1242.00,915.60 L1242.50,915.73 L1243.00,915.83 L1243.50,915.89 L1244.00,915.92 L1244.50,915.92 L1245.00,915.90 L1245.50,915.87 L1246.00,915.83 L1246.50,915.78 L1247.00,915.72 L1247.50,915.66 L1248.00,915.60 L1248.50,915.54 L1249.00,915.47 L1249.50,915.41 L1250.00,915.35 L1250.50,915.29 L1251.00,915.24 L1251.50,915.19 L1252.00,915.15 L1252.50,915.11 L1253.00,915.08 L1253.50,915.05 L1254.00,915.02 L1254.50,915.00 L1255.00,914.97 L1255.50,914.95 L1256.00,914.92 L1256.50,914.90 L1257.00,914.88 L1257.50,914.86 L1258.00,914.83 L1258.50,914.81 L1259.00,914.79 L1259.50,914.77 L1260.00,914.75 L1260.50,914.74 L1261.00,914.72 L1261.50,914.70 L1262.00,914.69 L1262.50,914.67 L1263.00,914.66 L1263.50,914.65 L1264.00,914.64 L1264.50,914.63 L1265.00,914.62 L1265.50,914.62 L1266.00,914.61 L1266.50,914.61 L1267.00,914.60 L1267.50,914.60 L1268.00,914.60 L1268.50,914.60 L1269.00,914.60 L1269.51,914.60 L1270.01,914.60 L1270.51,914.60 L1271.01,914.60 L1271.51,914.60 L1272.01,914.60 L1272.51,914.60 L1273.01,914.60 L1273.52,914.60 L1274.02,914.60 L1274.52,914.60 L1275.02,914.60 L1275.52,914.60 L1276.02,914.60 L1276.52,914.60 L1277.02,914.60 L1277.53,914.60 L1278.03,914.60 L1278.53,914.60 L1279.03,914.60 L1279.53,914.60 L1280.03,914.60 L1280.53,914.60 L1281.04,914.60 L1281.54,914.60 L1282.04,914.60 L1282.54,914.60 L1283.04,914.60 L1283.54,914.60 L1284.04,914.60 L1284.54,914.60 L1285.05,914.60 L1285.55,914.60 L1286.05,914.60 L1286.55,914.60 L1287.05,914.60 L1287.55,914.60 L1288.05,914.60 L1288.55,914.60 L1289.06,914.60 L1289.56,914.60 L1290.06,914.60 L1290.56,914.60 L1291.06,914.60 L1291.56,914.60 L1292.06,914.60 L1292.56,914.60 L1293.07,914.60 L1293.57,914.60 L1294.07,914.60 L1294.57,914.60 L1295.07,914.60 L1295.57,914.60 L1296.07,914.60 L1296.58,914.60 L1297.08,914.60 L1297.58,914.60 L1298.08,914.60 L1298.58,914.60 L1299.08,914.60 L1299.58,914.60 L1300.08,914.60 L1300.59,914.60 L1301.09,914.60 L1301.59,914.60 L1302.09,914.60 L1302.59,914.60 L1303.09,914.60 L1303.59,914.60 L1304.09,914.60 L1304.60,914.60 L1305.10,914.60 L1305.60,914.60 L1306.10,914.60" fill="none" stroke="#1b8a1b" stroke-width="2.05" stroke-linejoin="round" stroke-linecap="round"/>
<path d="M872.90,1156.30 L873.40,1154.68 L873.90,1153.10 L874.40,1151.60 L874.90,1150.22 L875.40,1148.95 L875.90,1147.81 L876.40,1146.77 L876.90,1145.82 L877.40,1144.93 L877.90,1144.11 L878.40,1143.33 L878.90,1142.59 L879.40,1141.89 L879.90,1141.23 L880.40,1140.61 L880.90,1140.04 L881.43,1139.51 L881.95,1139.02 L882.48,1138.56 L883.01,1138.13 L883.54,1137.71 L884.06,1137.32 L884.59,1136.92 L885.12,1136.54 L885.65,1136.15 L886.17,1135.75 L886.70,1135.35 L887.21,1134.94 L887.73,1134.52 L888.24,1134.10 L888.76,1133.68 L889.27,1133.25 L889.79,1132.82 L890.30,1132.39 L890.81,1131.96 L891.33,1131.54 L891.84,1131.12 L892.36,1130.70 L892.87,1130.29 L893.39,1129.88 L893.90,1129.49 L894.44,1129.10 L894.97,1128.73 L895.51,1128.35 L896.05,1127.95 L896.59,1127.53 L897.12,1127.07 L897.66,1126.53 L898.20,1125.92 L898.74,1125.22 L899.28,1124.44 L899.82,1123.60 L900.36,1122.73 L900.90,1121.86 L901.42,1121.00 L901.93,1120.18 L902.45,1119.40 L902.97,1118.65 L903.48,1117.94 L904.00,1117.28 L904.54,1116.65 L905.08,1116.05 L905.61,1115.49 L906.15,1114.96 L906.69,1114.46 L907.22,1114.00 L907.76,1113.56 L908.30,1113.14 L908.81,1112.76 L909.33,1112.40 L909.84,1112.07 L910.36,1111.78 L910.87,1111.53 L911.39,1111.32 L911.90,1111.16 L912.45,1111.04 L913.00,1110.96 L913.55,1110.93 L914.10,1110.93 L914.67,1110.97 L915.25,1111.05 L915.83,1111.17 L916.40,1111.33 L916.90,1111.54 L917.40,1111.80 L917.90,1112.14 L918.40,1112.59 L918.91,1113.16 L919.43,1113.87 L919.94,1114.72 L920.46,1115.70 L920.97,1116.80 L921.49,1118.00 L922.00,1119.31 L922.55,1120.71 L923.10,1122.20 L923.65,1123.76 L924.20,1125.36 L924.75,1124.67 L925.30,1124.05 L925.85,1123.56 L926.40,1123.22 L926.90,1123.03 L927.40,1122.97 L927.90,1123.02 L928.40,1123.14 L928.90,1123.32 L929.40,1123.53 L929.90,1123.76 L930.40,1124.01 L930.90,1124.27 L931.40,1124.54 L931.90,1124.82 L932.40,1125.09 L932.90,1125.37 L933.40,1125.66 L933.90,1125.95 L934.40,1126.25 L934.90,1126.57 L935.40,1126.90 L935.90,1127.24 L936.40,1127.59 L936.90,1127.94 L937.40,1128.31 L937.90,1128.68 L938.40,1129.05 L938.90,1129.43 L939.40,1129.80 L939.90,1130.17 L940.40,1130.53 L940.90,1130.89 L941.40,1131.24 L941.90,1131.57 L942.40,1131.90 L942.90,1132.21 L943.40,1132.51 L943.90,1132.79 L944.40,1133.06 L944.90,1133.32 L945.41,1133.57 L945.91,1133.81 L946.42,1134.05 L946.92,1134.28 L947.43,1134.51 L947.93,1134.73 L948.44,1134.95 L948.94,1135.17 L949.45,1135.38 L949.95,1135.59 L950.46,1135.79 L950.96,1135.99 L951.47,1136.19 L951.97,1136.39 L952.47,1136.58 L952.98,1136.77 L953.48,1136.96 L953.99,1137.14 L954.49,1137.33 L955.00,1137.51 L955.50,1137.69 L956.01,1137.87 L956.51,1138.04 L957.02,1138.22 L957.52,1138.39 L958.03,1138.57 L958.53,1138.74 L959.03,1138.91 L959.54,1139.08 L960.04,1139.25 L960.55,1139.42 L961.05,1139.59 L961.56,1139.75 L962.06,1139.92 L962.57,1140.09 L963.07,1140.26 L963.58,1140.43 L964.08,1140.60 L964.59,1140.77 L965.09,1140.94 L965.60,1141.11 L966.10,1141.29 L966.61,1141.46 L967.11,1141.64 L967.62,1141.81 L968.13,1141.99 L968.64,1142.16 L969.14,1142.34 L969.65,1142.51 L970.16,1142.69 L970.66,1142.86 L971.17,1143.04 L971.68,1143.21 L972.18,1143.39 L972.69,1143.56 L973.20,1143.73 L973.71,1143.91 L974.21,1144.08 L974.72,1144.25 L975.23,1144.42 L975.73,1144.60 L976.24,1144.77 L976.75,1144.94 L977.25,1145.11 L977.76,1145.28 L978.27,1145.45 L978.78,1145.61 L979.28,1145.78 L979.79,1145.95 L980.30,1146.11 L980.80,1146.28 L981.31,1146.44 L981.82,1146.61 L982.32,1146.77 L982.83,1146.93 L983.34,1147.09 L983.85,1147.25 L984.35,1147.40 L984.86,1147.56 L985.37,1147.72 L985.87,1147.87 L986.38,1148.02 L986.89,1148.17 L987.39,1148.32 L987.90,1148.47 L988.41,1148.62 L988.92,1148.76 L989.42,1148.91 L989.93,1149.05 L990.44,1149.19 L990.94,1149.33 L991.45,1149.47 L991.96,1149.60 L992.46,1149.74 L992.97,1149.87 L993.48,1150.00 L993.99,1150.13 L994.49,1150.25 L995.00,1150.38 L995.50,1150.50 L996.00,1150.63 L996.50,1150.75 L997.00,1150.87 L997.50,1150.99 L998.00,1151.10 L998.50,1151.22 L999.00,1151.34 L999.50,1151.45 L1000.00,1151.57 L1000.50,1151.68 L1001.00,1151.80 L1001.50,1151.91 L1002.00,1152.02 L1002.50,1152.14 L1003.00,1152.25 L1003.50,1152.36 L1004.00,1152.47 L1004.50,1152.57 L1005.00,1152.68 L1005.50,1152.79 L1006.00,1152.89 L1006.50,1153.00 L1007.00,1153.10 L1007.50,1153.21 L1008.00,1153.31 L1008.50,1153.41 L1009.00,1153.51 L1009.50,1153.61 L1010.00,1153.71 L1010.50,1153.80 L1011.00,1153.90 L1011.50,1153.99 L1012.00,1154.09 L1012.50,1154.18 L1013.00,1154.27 L1013.50,1154.37 L1014.00,1154.46 L1014.50,1154.54 L1015.00,1154.63 L1015.50,1154.72 L1016.00,1154.80 L1016.50,1154.89 L1017.00,1154.97 L1017.50,1155.05 L1018.00,1155.14 L1018.50,1155.22 L1019.00,1155.29 L1019.50,1155.37 L1020.00,1155.45 L1020.50,1155.52 L1021.00,1155.60 L1021.50,1154.01 L1022.00,1152.47 L1022.50,1151.01 L1023.00,1149.65 L1023.50,1148.42 L1024.00,1147.29 L1024.50,1146.28 L1025.00,1145.35 L1025.50,1144.48 L1026.00,1143.68 L1026.50,1142.91 L1027.00,1142.19 L1027.50,1141.51 L1028.00,1140.86 L1028.50,1140.26 L1029.00,1139.70 L1029.53,1139.18 L1030.05,1138.70 L1030.58,1138.25 L1031.11,1137.83 L1031.64,1137.42 L1032.16,1137.03 L1032.69,1136.65 L1033.22,1136.27 L1033.75,1135.89 L1034.27,1135.50 L1034.80,1135.11 L1035.31,1134.71 L1035.83,1134.30 L1036.34,1133.89 L1036.86,1133.47 L1037.37,1133.05 L1037.89,1132.64 L1038.40,1132.22 L1038.91,1131.80 L1039.43,1131.38 L1039.94,1130.97 L1040.46,1130.56 L1040.97,1130.16 L1041.49,1129.77 L1042.00,1129.38 L1042.54,1129.00 L1043.08,1128.63 L1043.61,1128.26 L1044.15,1127.88 L1044.69,1127.47 L1045.22,1127.01 L1045.76,1126.49 L1046.30,1125.89 L1046.84,1125.20 L1047.38,1124.44 L1047.92,1123.62 L1048.46,1122.76 L1049.00,1121.91 L1049.52,1121.08 L1050.03,1120.27 L1050.55,1119.51 L1051.07,1118.78 L1051.58,1118.09 L1052.10,1117.44 L1052.64,1116.82 L1053.17,1116.24 L1053.71,1115.69 L1054.25,1115.17 L1054.79,1114.68 L1055.33,1114.23 L1055.86,1113.80 L1056.40,1113.39 L1056.91,1113.02 L1057.43,1112.66 L1057.94,1112.34 L1058.46,1112.06 L1058.97,1111.81 L1059.49,1111.61 L1060.00,1111.45 L1060.55,1111.33 L1061.10,1111.26 L1061.65,1111.22 L1062.20,1111.23 L1062.78,1111.27 L1063.35,1111.35 L1063.92,1111.47 L1064.50,1111.62 L1065.00,1111.82 L1065.50,1112.08 L1066.00,1112.41 L1066.50,1112.85 L1067.01,1113.41 L1067.53,1114.10 L1068.04,1114.93 L1068.56,1115.89 L1069.07,1116.96 L1069.59,1118.14 L1070.10,1119.42 L1070.65,1120.79 L1071.20,1122.25 L1071.75,1123.78 L1072.30,1125.34 L1072.85,1124.67 L1073.40,1124.06 L1073.95,1123.58 L1074.50,1123.24 L1075.00,1123.06 L1075.50,1123.01 L1076.00,1123.05 L1076.50,1123.17 L1077.00,1123.34 L1077.50,1123.55 L1078.00,1123.77 L1078.50,1124.02 L1079.00,1124.28 L1079.50,1124.54 L1080.00,1124.81 L1080.50,1125.08 L1081.00,1125.35 L1081.50,1125.63 L1082.00,1125.92 L1082.50,1126.21 L1083.00,1126.52 L1083.50,1126.84 L1084.00,1127.17 L1084.50,1127.52 L1085.00,1127.87 L1085.50,1128.23 L1086.00,1128.59 L1086.50,1128.95 L1087.00,1129.32 L1087.50,1129.68 L1088.00,1130.04 L1088.50,1130.40 L1089.00,1130.75 L1089.50,1131.09 L1090.00,1131.42 L1090.50,1131.74 L1091.00,1132.04 L1091.50,1132.33 L1092.00,1132.61 L1092.50,1132.87 L1093.00,1133.13 L1093.51,1133.37 L1094.01,1133.61 L1094.52,1133.84 L1095.02,1134.06 L1095.53,1134.29 L1096.03,1134.51 L1096.54,1134.72 L1097.04,1134.93 L1097.55,1135.14 L1098.05,1135.34 L1098.56,1135.54 L1099.06,1135.74 L1099.57,1135.93 L1100.07,1136.12 L1100.57,1136.31 L1101.08,1136.50 L1101.58,1136.68 L1102.09,1136.87 L1102.59,1137.05 L1103.10,1137.22 L1103.60,1137.40 L1104.11,1137.57 L1104.61,1137.75 L1105.12,1137.92 L1105.62,1138.09 L1106.13,1138.26 L1106.63,1138.42 L1107.13,1138.59 L1107.64,1138.76 L1108.14,1138.92 L1108.65,1139.09 L1109.15,1139.25 L1109.66,1139.42 L1110.16,1139.58 L1110.67,1139.75 L1111.17,1139.91 L1111.68,1140.08 L1112.18,1140.24 L1112.69,1140.41 L1113.19,1140.58 L1113.70,1140.75 L1114.20,1140.92 L1114.71,1141.09 L1115.21,1141.26 L1115.72,1141.43 L1116.23,1141.59 L1116.74,1141.76 L1117.24,1141.93 L1117.75,1142.10 L1118.26,1142.27 L1118.76,1142.44 L1119.27,1142.60 L1119.78,1142.77 L1120.28,1142.94 L1120.79,1143.10 L1121.30,1143.27 L1121.81,1143.43 L1122.31,1143.60 L1122.82,1143.76 L1123.33,1143.93 L1123.83,1144.09 L1124.34,1144.25 L1124.85,1144.41 L1125.35,1144.57 L1125.86,1144.73 L1126.37,1144.89 L1126.88,1145.05 L1127.38,1145.21 L1127.89,1145.37 L1128.40,1145.53 L1128.90,1145.69 L1129.41,1145.84 L1129.92,1146.00 L1130.42,1146.16 L1130.93,1146.31 L1131.44,1146.46 L1131.95,1146.62 L1132.45,1146.77 L1132.96,1146.92 L1133.47,1147.07 L1133.97,1147.23 L1134.48,1147.38 L1134.99,1147.52 L1135.49,1147.67 L1136.00,1147.82 L1136.51,1147.97 L1137.02,1148.12 L1137.52,1148.26 L1138.03,1148.41 L1138.54,1148.55 L1139.04,1148.69 L1139.55,1148.84 L1140.06,1148.98 L1140.56,1149.12 L1141.07,1149.26 L1141.58,1149.40 L1142.09,1149.54 L1142.59,1149.68 L1143.10,1149.81 L1143.61,1149.95 L1144.11,1150.08 L1144.62,1150.22 L1145.12,1150.35 L1145.63,1150.49 L1146.14,1150.62 L1146.64,1150.75 L1147.15,1150.89 L1147.65,1151.02 L1148.16,1151.15 L1148.67,1151.28 L1149.17,1151.41 L1149.68,1151.54 L1150.18,1151.67 L1150.69,1151.80 L1151.20,1151.92 L1151.70,1152.05 L1152.21,1152.18 L1152.71,1152.30 L1153.22,1152.43 L1153.73,1152.55 L1154.23,1152.68 L1154.74,1152.80 L1155.24,1152.92 L1155.75,1153.05 L1156.26,1153.17 L1156.76,1153.29 L1157.27,1153.41 L1157.77,1153.53 L1158.28,1153.65 L1158.79,1153.77 L1159.29,1153.89 L1159.80,1154.00 L1160.30,1154.12 L1160.81,1154.24 L1161.32,1154.35 L1161.82,1154.47 L1162.33,1154.58 L1162.83,1154.69 L1163.34,1154.81 L1163.85,1154.92 L1164.35,1155.03 L1164.86,1155.14 L1165.36,1155.25 L1165.87,1155.36 L1166.38,1155.47 L1166.88,1155.58 L1167.39,1155.69 L1167.89,1155.79 L1168.40,1155.90 L1168.90,1154.28 L1169.40,1152.70 L1169.90,1151.20 L1170.40,1149.82 L1170.90,1148.55 L1171.40,1147.41 L1171.90,1146.37 L1172.40,1145.42 L1172.90,1144.53 L1173.40,1143.71 L1173.90,1142.93 L1174.40,1142.19 L1174.90,1141.49 L1175.40,1140.83 L1175.90,1140.21 L1176.40,1139.64 L1176.93,1139.11 L1177.45,1138.62 L1177.98,1138.16 L1178.51,1137.73 L1179.04,1137.31 L1179.56,1136.92 L1180.09,1136.52 L1180.62,1136.14 L1181.15,1135.75 L1181.67,1135.35 L1182.20,1134.95 L1182.71,1134.54 L1183.23,1134.12 L1183.74,1133.70 L1184.26,1133.28 L1184.77,1132.85 L1185.29,1132.42 L1185.80,1131.99 L1186.31,1131.56 L1186.83,1131.14 L1187.34,1130.72 L1187.86,1130.30 L1188.37,1129.89 L1188.89,1129.48 L1189.40,1129.09 L1189.94,1128.70 L1190.48,1128.33 L1191.01,1127.95 L1191.55,1127.55 L1192.09,1127.13 L1192.62,1126.67 L1193.16,1126.13 L1193.70,1125.52 L1194.24,1124.82 L1194.78,1124.04 L1195.32,1123.20 L1195.86,1122.33 L1196.40,1121.46 L1196.92,1120.60 L1197.43,1119.78 L1197.95,1119.00 L1198.47,1118.25 L1198.98,1117.54 L1199.50,1116.88 L1200.04,1116.25 L1200.58,1115.65 L1201.11,1115.09 L1201.65,1114.56 L1202.19,1114.06 L1202.73,1113.60 L1203.26,1113.16 L1203.80,1112.74 L1204.31,1112.36 L1204.83,1112.00 L1205.34,1111.67 L1205.86,1111.38 L1206.37,1111.13 L1206.89,1110.92 L1207.40,1110.76 L1207.95,1110.64 L1208.50,1110.56 L1209.05,1110.53 L1209.60,1110.53 L1210.18,1110.57 L1210.75,1110.65 L1211.33,1110.77 L1211.90,1110.93 L1212.40,1111.14 L1212.90,1111.40 L1213.40,1111.74 L1213.90,1112.19 L1214.41,1112.76 L1214.93,1113.47 L1215.44,1114.32 L1215.96,1115.30 L1216.47,1116.40 L1216.99,1117.60 L1217.50,1118.91 L1218.05,1120.31 L1218.60,1121.80 L1219.15,1123.36 L1219.70,1124.96 L1220.25,1124.27 L1220.80,1123.65 L1221.35,1123.16 L1221.90,1122.82 L1222.40,1122.63 L1222.90,1122.57 L1223.40,1122.62 L1223.90,1122.74 L1224.40,1122.92 L1224.90,1123.13 L1225.40,1123.36 L1225.90,1123.61 L1226.40,1123.87 L1226.90,1124.14 L1227.40,1124.42 L1227.90,1124.69 L1228.40,1124.97 L1228.90,1125.26 L1229.40,1125.55 L1229.90,1125.85 L1230.40,1126.17 L1230.90,1126.50 L1231.40,1126.84 L1231.90,1127.19 L1232.40,1127.54 L1232.90,1127.91 L1233.40,1128.28 L1233.90,1128.65 L1234.40,1129.03 L1234.90,1129.40 L1235.40,1129.77 L1235.90,1130.13 L1236.40,1130.49 L1236.90,1130.84 L1237.40,1131.17 L1237.90,1131.50 L1238.40,1131.81 L1238.90,1132.11 L1239.40,1132.39 L1239.90,1132.66 L1240.40,1132.92 L1240.91,1133.17 L1241.41,1133.41 L1241.92,1133.65 L1242.42,1133.88 L1242.93,1134.11 L1243.43,1134.33 L1243.94,1134.55 L1244.44,1134.77 L1244.95,1134.98 L1245.45,1135.19 L1245.96,1135.39 L1246.46,1135.59 L1246.97,1135.79 L1247.47,1135.99 L1247.97,1136.18 L1248.48,1136.37 L1248.98,1136.56 L1249.49,1136.74 L1249.99,1136.93 L1250.50,1137.11 L1251.00,1137.29 L1251.51,1137.47 L1252.01,1137.64 L1252.52,1137.82 L1253.02,1137.99 L1253.53,1138.17 L1254.03,1138.34 L1254.53,1138.51 L1255.04,1138.68 L1255.54,1138.85 L1256.05,1139.02 L1256.55,1139.19 L1257.06,1139.35 L1257.56,1139.52 L1258.07,1139.69 L1258.57,1139.86 L1259.08,1140.03 L1259.58,1140.20 L1260.09,1140.37 L1260.59,1140.54 L1261.10,1140.71 L1261.60,1140.89 L1262.11,1141.06 L1262.61,1141.23 L1263.12,1141.41 L1263.63,1141.58 L1264.14,1141.76 L1264.64,1141.93 L1265.15,1142.10 L1265.66,1142.28 L1266.16,1142.45 L1266.67,1142.62 L1267.18,1142.80 L1267.68,1142.97 L1268.19,1143.14 L1268.70,1143.31 L1269.21,1143.48 L1269.71,1143.65 L1270.22,1143.82 L1270.73,1143.99 L1271.23,1144.16 L1271.74,1144.33 L1272.25,1144.50 L1272.75,1144.67 L1273.26,1144.83 L1273.77,1145.00 L1274.28,1145.17 L1274.78,1145.33 L1275.29,1145.49 L1275.80,1145.66 L1276.30,1145.82 L1276.81,1145.98 L1277.32,1146.14 L1277.82,1146.30 L1278.33,1146.46 L1278.84,1146.62 L1279.35,1146.78 L1279.85,1146.94 L1280.36,1147.09 L1280.87,1147.25 L1281.37,1147.40 L1281.88,1147.56 L1282.39,1147.71 L1282.89,1147.86 L1283.40,1148.01 L1283.91,1148.16 L1284.42,1148.30 L1284.92,1148.45 L1285.43,1148.60 L1285.94,1148.74 L1286.44,1148.88 L1286.95,1149.03 L1287.46,1149.17 L1287.96,1149.30 L1288.47,1149.44 L1288.98,1149.58 L1289.49,1149.71 L1289.99,1149.85 L1290.50,1149.98 L1291.00,1150.11 L1291.51,1150.24 L1292.01,1150.37 L1292.51,1150.50 L1293.02,1150.62 L1293.52,1150.75 L1294.02,1150.87 L1294.53,1150.99 L1295.03,1151.11 L1295.53,1151.24 L1296.04,1151.35 L1296.54,1151.47 L1297.04,1151.59 L1297.55,1151.71 L1298.05,1151.82 L1298.55,1151.94 L1299.05,1152.05 L1299.56,1152.16 L1300.06,1152.27 L1300.56,1152.38 L1301.07,1152.49 L1301.57,1152.60 L1302.07,1152.71 L1302.58,1152.81 L1303.08,1152.92 L1303.58,1153.02 L1304.09,1153.13 L1304.59,1153.23 L1305.09,1153.33 L1305.60,1153.43 L1306.10,1153.53" fill="none" stroke="#5c5c5c" stroke-width="1.75" stroke-linejoin="round" stroke-linecap="round"/>
<path d="M873.50,1267.90 L874.02,1268.05 L874.55,1268.16 L875.08,1268.20 L875.60,1268.15 L876.10,1267.98 L876.60,1267.70 L877.10,1267.29 L877.60,1266.77 L878.10,1266.14 L878.60,1265.42 L879.10,1264.61 L879.60,1263.70 L880.10,1262.69 L880.60,1261.56 L881.10,1260.31 L881.60,1258.94 L882.10,1257.49 L882.60,1255.97 L883.10,1254.42 L883.60,1252.85 L884.10,1251.28 L884.60,1249.71 L885.10,1248.15 L885.60,1246.60 L886.10,1245.04 L886.60,1243.49 L887.10,1241.96 L887.60,1240.47 L888.10,1239.03 L888.60,1237.64 L889.10,1236.33 L889.60,1235.08 L890.10,1233.89 L890.60,1232.76 L891.10,1231.68 L891.60,1230.65 L892.10,1229.69 L892.60,1228.80 L893.10,1228.01 L893.60,1227.30 L894.10,1226.69 L894.60,1226.17 L895.10,1225.73 L895.60,1225.35 L896.10,1225.02 L896.60,1224.73 L897.10,1224.48 L897.60,1224.26 L898.10,1224.09 L898.60,1223.96 L899.10,1223.88 L899.60,1223.85 L900.10,1223.87 L900.60,1223.93 L901.10,1224.03 L901.60,1224.17 L902.10,1224.35 L902.60,1224.55 L903.10,1224.77 L903.60,1225.02 L904.10,1225.28 L904.60,1225.58 L905.10,1225.90 L905.60,1226.25 L906.10,1226.65 L906.60,1227.08 L907.10,1227.55 L907.60,1228.05 L908.10,1228.58 L908.60,1229.13 L909.10,1229.70 L909.60,1230.29 L910.10,1230.88 L910.60,1231.47 L911.10,1232.06 L911.60,1232.66 L912.10,1233.26 L912.60,1233.87 L913.10,1234.48 L913.60,1235.10 L914.10,1235.73 L914.60,1236.37 L915.10,1237.02 L915.60,1237.69 L916.10,1238.37 L916.60,1239.05 L917.10,1239.76 L917.60,1240.47 L918.10,1241.20 L918.60,1241.94 L919.10,1242.70 L919.60,1243.48 L920.10,1244.28 L920.60,1245.10 L921.10,1245.95 L921.60,1246.82 L922.10,1247.71 L922.60,1248.61 L923.10,1249.53 L923.60,1250.45 L924.10,1251.38 L924.60,1252.30 L925.10,1253.23 L925.60,1254.14 L926.10,1255.06 L926.60,1255.98 L927.10,1256.89 L927.60,1257.82 L928.10,1258.74 L928.60,1259.65 L929.10,1260.54 L929.60,1261.40 L930.10,1262.21 L930.60,1262.97 L931.10,1263.65 L931.60,1264.28 L932.10,1264.84 L932.60,1265.35 L933.10,1265.81 L933.60,1266.23 L934.10,1266.61 L934.60,1266.95 L935.10,1267.26 L935.60,1267.53 L936.10,1267.78 L936.60,1268.01 L937.10,1268.23 L937.60,1268.43 L938.10,1268.61 L938.60,1268.78 L939.10,1268.93 L939.60,1269.06 L940.10,1269.17 L940.60,1269.25 L941.10,1269.31 L941.60,1269.35 L942.10,1269.37 L942.60,1269.39 L943.10,1269.39 L943.60,1269.39 L944.10,1269.40 L944.60,1269.40 L945.10,1269.40 L945.60,1269.40 L946.10,1269.40 L946.60,1269.40 L947.10,1269.40 L947.60,1269.40 L948.10,1269.40 L948.60,1269.40 L949.10,1269.40 L949.60,1269.40 L950.10,1269.40 L950.60,1269.40 L951.10,1269.40 L951.60,1269.40 L952.10,1269.40 L952.60,1269.40 L953.10,1269.40 L953.60,1269.40 L954.10,1269.40 L954.60,1269.40 L955.10,1269.40 L955.60,1269.40 L956.10,1269.40 L956.60,1269.40 L957.10,1269.40 L957.60,1269.40 L958.10,1269.40 L958.60,1269.40 L959.10,1269.40 L959.60,1269.40 L960.10,1269.40 L960.60,1269.40 L961.10,1269.40 L961.60,1269.40 L962.10,1269.40 L962.60,1269.40 L963.10,1269.40 L963.60,1269.40 L964.10,1269.40 L964.60,1269.40 L965.10,1269.40 L965.60,1269.40 L966.10,1269.40 L966.60,1269.40 L967.10,1269.40 L967.60,1269.40 L968.10,1269.40 L968.60,1269.40 L969.10,1269.40 L969.60,1269.40 L970.10,1269.40 L970.60,1269.40 L971.10,1269.40 L971.60,1269.40 L972.10,1269.40 L972.60,1269.40 L973.10,1269.40 L973.60,1269.40 L974.10,1269.40 L974.60,1269.40 L975.10,1269.39 L975.60,1269.39 L976.10,1269.39 L976.60,1269.39 L977.10,1269.38 L977.60,1269.38 L978.10,1269.37 L978.60,1269.36 L979.10,1269.35 L979.60,1269.34 L980.10,1269.33 L980.60,1269.32 L981.10,1269.30 L981.60,1269.29 L982.10,1269.27 L982.60,1269.25 L983.10,1269.23 L983.60,1269.21 L984.10,1269.19 L984.60,1269.17 L985.10,1269.15 L985.60,1269.13 L986.10,1269.10 L986.60,1269.08 L987.10,1269.05 L987.60,1269.03 L988.10,1269.00 L988.60,1268.98 L989.10,1268.95 L989.60,1268.92 L990.10,1268.89 L990.60,1268.87 L991.10,1268.84 L991.60,1268.81 L992.10,1268.78 L992.60,1268.75 L993.10,1268.72 L993.60,1268.70 L994.10,1268.67 L994.60,1268.64 L995.10,1268.61 L995.60,1268.58 L996.10,1268.55 L996.60,1268.53 L997.10,1268.50 L997.60,1268.47 L998.10,1268.45 L998.60,1268.42 L999.10,1268.39 L999.60,1268.37 L1000.10,1268.34 L1000.60,1268.32 L1001.10,1268.30 L1001.60,1268.28 L1002.10,1268.25 L1002.60,1268.23 L1003.10,1268.21 L1003.60,1268.19 L1004.10,1268.18 L1004.60,1268.16 L1005.10,1268.14 L1005.60,1268.13 L1006.10,1268.12 L1006.60,1268.10 L1007.10,1268.09 L1007.60,1268.08 L1008.10,1268.08 L1008.60,1268.07 L1009.10,1268.07 L1009.60,1268.07 L1010.10,1268.08 L1010.60,1268.10 L1011.11,1268.14 L1011.63,1268.19 L1012.14,1268.25 L1012.66,1268.31 L1013.17,1268.36 L1013.69,1268.41 L1014.20,1268.45 L1014.70,1268.47 L1015.20,1268.49 L1015.70,1268.50 L1016.20,1268.50 L1016.70,1268.50 L1017.20,1268.50 L1017.70,1268.50 L1018.20,1268.50 L1018.70,1268.50 L1019.20,1268.50 L1019.70,1268.50 L1020.20,1268.50 L1020.70,1268.50 L1021.20,1268.50 L1021.70,1268.50 L1022.20,1268.49 L1022.70,1268.48 L1023.20,1268.44 L1023.70,1268.37 L1024.20,1268.24 L1024.70,1268.04 L1025.20,1267.73 L1025.70,1267.33 L1026.20,1266.81 L1026.70,1266.20 L1027.20,1265.50 L1027.70,1264.72 L1028.20,1263.83 L1028.70,1262.85 L1029.20,1261.74 L1029.70,1260.53 L1030.20,1259.20 L1030.70,1257.79 L1031.20,1256.31 L1031.70,1254.80 L1032.20,1253.27 L1032.70,1251.74 L1033.20,1250.22 L1033.70,1248.70 L1034.20,1247.18 L1034.70,1245.67 L1035.20,1244.16 L1035.70,1242.68 L1036.20,1241.22 L1036.70,1239.82 L1037.20,1238.47 L1037.70,1237.19 L1038.20,1235.97 L1038.70,1234.82 L1039.20,1233.72 L1039.70,1232.66 L1040.20,1231.67 L1040.70,1230.73 L1041.20,1229.87 L1041.70,1229.09 L1042.20,1228.40 L1042.70,1227.81 L1043.20,1227.31 L1043.70,1226.88 L1044.20,1226.51 L1044.70,1226.18 L1045.20,1225.90 L1045.70,1225.66 L1046.20,1225.45 L1046.70,1225.28 L1047.20,1225.15 L1047.70,1225.08 L1048.20,1225.05 L1048.70,1225.06 L1049.20,1225.12 L1049.70,1225.22 L1050.20,1225.36 L1050.70,1225.53 L1051.20,1225.73 L1051.70,1225.94 L1052.20,1226.18 L1052.70,1226.44 L1053.20,1226.73 L1053.70,1227.04 L1054.20,1227.39 L1054.70,1227.77 L1055.20,1228.19 L1055.70,1228.65 L1056.20,1229.13 L1056.70,1229.65 L1057.20,1230.19 L1057.70,1230.74 L1058.20,1231.31 L1058.70,1231.88 L1059.20,1232.46 L1059.70,1233.04 L1060.20,1233.62 L1060.70,1234.21 L1061.20,1234.79 L1061.70,1235.39 L1062.20,1235.99 L1062.70,1236.61 L1063.20,1237.23 L1063.70,1237.87 L1064.20,1238.51 L1064.70,1239.17 L1065.20,1239.84 L1065.70,1240.53 L1066.20,1241.22 L1066.70,1241.93 L1067.20,1242.65 L1067.70,1243.39 L1068.20,1244.15 L1068.70,1244.93 L1069.20,1245.73 L1069.70,1246.55 L1070.20,1247.40 L1070.70,1248.26 L1071.20,1249.14 L1071.70,1250.04 L1072.20,1250.93 L1072.70,1251.84 L1073.20,1252.74 L1073.70,1253.63 L1074.20,1254.53 L1074.70,1255.42 L1075.20,1256.31 L1075.70,1257.21 L1076.20,1258.10 L1076.70,1259.00 L1077.20,1259.89 L1077.70,1260.76 L1078.20,1261.59 L1078.70,1262.38 L1079.20,1263.11 L1079.70,1263.78 L1080.20,1264.39 L1080.70,1264.94 L1081.20,1265.44 L1081.70,1265.89 L1082.20,1266.29 L1082.70,1266.66 L1083.20,1266.99 L1083.70,1267.29 L1084.20,1267.56 L1084.70,1267.80 L1085.20,1268.03 L1085.70,1268.24 L1086.20,1268.43 L1086.70,1268.61 L1087.20,1268.77 L1087.70,1268.92 L1088.20,1269.04 L1088.70,1269.15 L1089.20,1269.23 L1089.70,1269.29 L1090.20,1269.33 L1090.70,1269.35 L1091.20,1269.36 L1091.70,1269.37 L1092.20,1269.37 L1092.70,1269.37 L1093.20,1269.37 L1093.70,1269.37 L1094.20,1269.37 L1094.70,1269.37 L1095.20,1269.37 L1095.70,1269.37 L1096.20,1269.37 L1096.70,1269.37 L1097.20,1269.37 L1097.70,1269.37 L1098.20,1269.37 L1098.70,1269.37 L1099.20,1269.37 L1099.70,1269.37 L1100.20,1269.37 L1100.70,1269.37 L1101.20,1269.37 L1101.70,1269.37 L1102.20,1269.37 L1102.70,1269.37 L1103.20,1269.37 L1103.70,1269.37 L1104.20,1269.37 L1104.70,1269.37 L1105.20,1269.37 L1105.70,1269.37 L1106.20,1269.37 L1106.70,1269.37 L1107.20,1269.37 L1107.70,1269.37 L1108.20,1269.37 L1108.70,1269.37 L1109.20,1269.37 L1109.70,1269.37 L1110.20,1269.37 L1110.70,1269.37 L1111.20,1269.37 L1111.70,1269.37 L1112.20,1269.37 L1112.70,1269.37 L1113.20,1269.37 L1113.70,1269.37 L1114.20,1269.37 L1114.70,1269.37 L1115.20,1269.37 L1115.70,1269.37 L1116.20,1269.37 L1116.70,1269.37 L1117.20,1269.37 L1117.70,1269.37 L1118.20,1269.37 L1118.70,1269.37 L1119.20,1269.37 L1119.70,1269.37 L1120.20,1269.37 L1120.70,1269.37 L1121.20,1269.37 L1121.70,1269.37 L1122.20,1269.37 L1122.70,1269.37 L1123.20,1269.37 L1123.70,1269.37 L1124.20,1269.37 L1124.70,1269.37 L1125.20,1269.37 L1125.70,1269.36 L1126.20,1269.36 L1126.70,1269.35 L1127.20,1269.34 L1127.70,1269.33 L1128.20,1269.32 L1128.70,1269.31 L1129.20,1269.30 L1129.70,1269.28 L1130.20,1269.27 L1130.70,1269.25 L1131.20,1269.23 L1131.70,1269.21 L1132.20,1269.20 L1132.70,1269.18 L1133.20,1269.15 L1133.70,1269.13 L1134.20,1269.11 L1134.70,1269.09 L1135.20,1269.06 L1135.70,1269.04 L1136.20,1269.01 L1136.70,1268.99 L1137.20,1268.96 L1137.70,1268.94 L1138.20,1268.91 L1138.70,1268.88 L1139.20,1268.86 L1139.70,1268.83 L1140.20,1268.80 L1140.70,1268.77 L1141.20,1268.75 L1141.70,1268.72 L1142.20,1268.69 L1142.70,1268.66 L1143.20,1268.63 L1143.70,1268.61 L1144.20,1268.58 L1144.70,1268.55 L1145.20,1268.53 L1145.70,1268.50 L1146.20,1268.47 L1146.70,1268.45 L1147.20,1268.42 L1147.70,1268.40 L1148.20,1268.37 L1148.70,1268.35 L1149.20,1268.33 L1149.70,1268.30 L1150.20,1268.28 L1150.70,1268.26 L1151.20,1268.24 L1151.70,1268.22 L1152.20,1268.20 L1152.70,1268.19 L1153.20,1268.17 L1153.70,1268.15 L1154.20,1268.14 L1154.70,1268.13 L1155.20,1268.11 L1155.70,1268.10 L1156.20,1268.10 L1156.70,1268.09 L1157.20,1268.08 L1157.70,1268.09 L1158.20,1268.10 L1158.70,1268.12 L1159.20,1268.16 L1159.72,1268.22 L1160.25,1268.28 L1160.78,1268.35 L1161.30,1268.41 L1161.80,1268.45 L1162.30,1268.47 L1162.80,1268.49 L1163.30,1268.50 L1163.80,1268.50 L1164.30,1268.50 L1164.80,1268.50 L1165.30,1268.50 L1165.80,1268.50 L1166.30,1268.50 L1166.80,1268.50 L1167.30,1268.50 L1167.80,1268.50 L1168.30,1268.50 L1168.80,1268.50 L1169.30,1268.49 L1169.80,1268.48 L1170.30,1268.44 L1170.80,1268.37 L1171.30,1268.24 L1171.80,1268.03 L1172.30,1267.72 L1172.80,1267.30 L1173.30,1266.78 L1173.80,1266.16 L1174.30,1265.44 L1174.80,1264.64 L1175.30,1263.74 L1175.80,1262.73 L1176.30,1261.60 L1176.80,1260.36 L1177.30,1259.01 L1177.80,1257.57 L1178.30,1256.06 L1178.80,1254.51 L1179.30,1252.95 L1179.80,1251.39 L1180.30,1249.84 L1180.80,1248.29 L1181.30,1246.74 L1181.80,1245.20 L1182.30,1243.66 L1182.80,1242.14 L1183.30,1240.66 L1183.80,1239.22 L1184.30,1237.85 L1184.80,1236.54 L1185.30,1235.30 L1185.80,1234.12 L1186.30,1233.00 L1186.80,1231.92 L1187.30,1230.91 L1187.80,1229.95 L1188.30,1229.07 L1188.80,1228.28 L1189.30,1227.58 L1189.80,1226.97 L1190.30,1226.46 L1190.80,1226.02 L1191.30,1225.64 L1191.80,1225.31 L1192.30,1225.02 L1192.80,1224.77 L1193.30,1224.56 L1193.80,1224.39 L1194.30,1224.26 L1194.80,1224.18 L1195.30,1224.15 L1195.80,1224.16 L1196.30,1224.23 L1196.80,1224.33 L1197.30,1224.47 L1197.80,1224.64 L1198.30,1224.84 L1198.80,1225.07 L1199.30,1225.31 L1199.80,1225.57 L1200.30,1225.86 L1200.80,1226.18 L1201.30,1226.54 L1201.80,1226.93 L1202.30,1227.36 L1202.80,1227.82 L1203.30,1228.32 L1203.80,1228.85 L1204.30,1229.40 L1204.80,1229.96 L1205.30,1230.54 L1205.80,1231.13 L1206.30,1231.72 L1206.80,1232.31 L1207.30,1232.90 L1207.80,1233.50 L1208.30,1234.10 L1208.80,1234.71 L1209.30,1235.32 L1209.80,1235.95 L1210.30,1236.59 L1210.80,1237.23 L1211.30,1237.89 L1211.80,1238.57 L1212.30,1239.25 L1212.80,1239.95 L1213.30,1240.66 L1213.80,1241.38 L1214.30,1242.12 L1214.80,1242.87 L1215.30,1243.65 L1215.80,1244.44 L1216.30,1245.26 L1216.80,1246.10 L1217.30,1246.96 L1217.80,1247.85 L1218.30,1248.74 L1218.80,1249.65 L1219.30,1250.57 L1219.80,1251.49 L1220.30,1252.41 L1220.80,1253.33 L1221.30,1254.24 L1221.80,1255.15 L1222.30,1256.06 L1222.80,1256.97 L1223.30,1257.89 L1223.80,1258.80 L1224.30,1259.71 L1224.80,1260.60 L1225.30,1261.45 L1225.80,1262.25 L1226.30,1263.00 L1226.80,1263.69 L1227.30,1264.31 L1227.80,1264.87 L1228.30,1265.37 L1228.80,1265.83 L1229.30,1266.25 L1229.80,1266.62 L1230.30,1266.96 L1230.80,1267.26 L1231.30,1267.54 L1231.80,1267.79 L1232.30,1268.02 L1232.80,1268.23 L1233.30,1268.43 L1233.80,1268.61 L1234.30,1268.78 L1234.80,1268.93 L1235.30,1269.06 L1235.80,1269.16 L1236.30,1269.24 L1236.80,1269.30 L1237.30,1269.34 L1237.80,1269.37 L1238.30,1269.38 L1238.80,1269.39 L1239.30,1269.39 L1239.80,1269.39 L1240.30,1269.39 L1240.80,1269.39 L1241.30,1269.39 L1241.80,1269.39 L1242.30,1269.39 L1242.80,1269.39 L1243.30,1269.39 L1243.80,1269.39 L1244.30,1269.39 L1244.80,1269.39 L1245.30,1269.39 L1245.80,1269.39 L1246.30,1269.39 L1246.80,1269.39 L1247.30,1269.39 L1247.80,1269.39 L1248.30,1269.39 L1248.80,1269.39 L1249.30,1269.39 L1249.80,1269.39 L1250.30,1269.39 L1250.80,1269.39 L1251.30,1269.39 L1251.80,1269.39 L1252.30,1269.39 L1252.80,1269.39 L1253.30,1269.39 L1253.80,1269.39 L1254.30,1269.39 L1254.80,1269.39 L1255.30,1269.39 L1255.80,1269.39 L1256.30,1269.39 L1256.80,1269.39 L1257.30,1269.39 L1257.80,1269.39 L1258.30,1269.39 L1258.80,1269.39 L1259.30,1269.39 L1259.80,1269.39 L1260.30,1269.39 L1260.80,1269.39 L1261.30,1269.39 L1261.80,1269.39 L1262.30,1269.39 L1262.80,1269.39 L1263.30,1269.39 L1263.80,1269.39 L1264.30,1269.39 L1264.80,1269.39 L1265.30,1269.39 L1265.80,1269.39 L1266.30,1269.39 L1266.80,1269.39 L1267.30,1269.39 L1267.80,1269.39 L1268.30,1269.39 L1268.80,1269.39 L1269.30,1269.39 L1269.80,1269.39 L1270.30,1269.39 L1270.80,1269.39 L1271.30,1269.39 L1271.80,1269.39 L1272.31,1269.39 L1272.81,1269.39 L1273.32,1269.38 L1273.82,1269.38 L1274.33,1269.38 L1274.83,1269.38 L1275.33,1269.37 L1275.84,1269.37 L1276.34,1269.36 L1276.85,1269.36 L1277.35,1269.35 L1277.86,1269.34 L1278.36,1269.34 L1278.87,1269.33 L1279.37,1269.32 L1279.87,1269.31 L1280.38,1269.31 L1280.88,1269.30 L1281.39,1269.29 L1281.89,1269.28 L1282.40,1269.27 L1282.90,1269.26 L1283.40,1269.25 L1283.91,1269.24 L1284.41,1269.22 L1284.92,1269.21 L1285.42,1269.20 L1285.93,1269.19 L1286.43,1269.17 L1286.93,1269.16 L1287.44,1269.15 L1287.94,1269.13 L1288.45,1269.12 L1288.95,1269.10 L1289.46,1269.09 L1289.96,1269.07 L1290.47,1269.06 L1290.97,1269.04 L1291.47,1269.03 L1291.98,1269.01 L1292.48,1269.00 L1292.99,1268.98 L1293.49,1268.96 L1294.00,1268.95 L1294.50,1268.93 L1295.00,1268.91 L1295.51,1268.89 L1296.01,1268.88 L1296.52,1268.86 L1297.02,1268.84 L1297.53,1268.82 L1298.03,1268.80 L1298.53,1268.79 L1299.04,1268.77 L1299.54,1268.75 L1300.05,1268.73 L1300.55,1268.71 L1301.06,1268.69 L1301.56,1268.67 L1302.07,1268.65 L1302.57,1268.64 L1303.07,1268.62 L1303.58,1268.60 L1304.08,1268.58 L1304.59,1268.56 L1305.09,1268.54 L1305.60,1268.52 L1306.10,1268.50" fill="none" stroke="#1b8a1b" stroke-width="2.05" stroke-linejoin="round" stroke-linecap="round"/>
<path d="M128.00,1653.00 L128.50,1647.37 L129.00,1641.99 L129.50,1636.82 L130.08,1631.70 L130.67,1626.98 L131.25,1623.17 L131.75,1620.45 L132.25,1618.72 L133.00,1618.15 L133.70,1619.25 L134.40,1621.98 L135.00,1625.94 L135.60,1630.33 L136.20,1634.34 L136.80,1637.90 L137.35,1636.40 L137.90,1635.10 L138.45,1634.20 L139.00,1633.76 L139.50,1633.69 L140.00,1633.80 L140.50,1633.98 L141.00,1634.21 L141.50,1634.48 L142.00,1634.80 L142.50,1635.21 L143.00,1635.76 L143.50,1636.44 L144.00,1637.23 L144.50,1638.09 L145.00,1638.99 L145.50,1639.90 L146.00,1640.78 L146.50,1641.60 L147.00,1642.35 L147.50,1643.04 L148.00,1643.70 L148.50,1644.35 L149.00,1644.98 L149.50,1645.59 L150.00,1646.20 L150.50,1646.80 L151.00,1647.40 L151.50,1647.99 L152.00,1648.58 L152.50,1649.18 L153.00,1649.77 L153.50,1650.36 L154.00,1650.95 L154.50,1651.54 L155.00,1652.13 L155.50,1652.71 L156.00,1653.29 L156.50,1653.87 L157.00,1654.44 L157.50,1655.01 L158.00,1655.58 L158.50,1656.14 L159.00,1656.70 L159.54,1650.90 L160.08,1645.35 L160.62,1640.02 L161.25,1634.74 L161.88,1629.88 L162.51,1625.95 L163.05,1623.15 L163.59,1621.35 L164.40,1620.73 L165.10,1621.71 L165.80,1624.24 L166.40,1627.91 L167.00,1631.98 L167.60,1635.70 L168.20,1639.00 L168.75,1637.64 L169.30,1636.46 L169.85,1635.64 L170.40,1635.25 L170.90,1635.19 L171.40,1635.29 L171.90,1635.46 L172.40,1635.69 L172.90,1635.95 L173.40,1636.25 L173.90,1636.65 L174.40,1637.18 L174.90,1637.85 L175.40,1638.61 L175.90,1639.44 L176.40,1640.31 L176.90,1641.18 L177.40,1642.03 L177.90,1642.83 L178.40,1643.55 L178.90,1644.22 L179.40,1644.85 L179.90,1645.47 L180.40,1646.08 L180.90,1646.68 L181.40,1647.27 L181.90,1647.85 L182.40,1648.42 L182.90,1648.99 L183.40,1649.57 L183.90,1650.14 L184.40,1650.71 L184.90,1651.28 L185.40,1651.85 L185.90,1652.42 L186.40,1652.99 L186.90,1653.55 L187.40,1654.11 L187.90,1654.66 L188.40,1655.22 L188.90,1655.77 L189.40,1656.31 L189.90,1656.86 L190.40,1657.40 L190.94,1651.49 L191.48,1645.84 L192.02,1640.40 L192.65,1635.02 L193.28,1630.07 L193.91,1626.06 L194.45,1623.21 L194.99,1621.38 L195.80,1620.73 L196.50,1621.67 L197.20,1624.15 L197.80,1627.74 L198.40,1631.73 L199.00,1635.37 L199.60,1638.60 L200.15,1637.23 L200.70,1636.05 L201.25,1635.23 L201.80,1634.85 L202.37,1634.81 L202.93,1634.96 L203.50,1635.19 L204.07,1635.49 L204.64,1635.84 L205.16,1636.30 L205.69,1636.90 L206.21,1637.66 L206.74,1638.52 L207.26,1639.46 L207.79,1640.41 L208.31,1641.35 L208.84,1642.23 L209.36,1643.03 L209.88,1643.75 L210.39,1644.43 L210.91,1645.10 L211.42,1645.75 L211.94,1646.39 L212.45,1647.01 L212.97,1647.64 L213.48,1648.25 L214.00,1648.87 L214.51,1649.48 L215.03,1650.10 L215.55,1650.72 L216.06,1651.33 L216.58,1651.94 L217.09,1652.55 L217.61,1653.15 L218.12,1653.75 L218.64,1654.35 L219.15,1654.94 L219.67,1655.53 L220.18,1656.12 L220.70,1656.70" fill="none" stroke="#5c5c5c" stroke-width="2.0" stroke-linejoin="round" stroke-linecap="round"/>
<path d="M230.90,1652.00 L231.40,1646.94 L231.90,1642.10 L232.40,1637.45 L232.98,1632.85 L233.57,1628.60 L234.15,1625.17 L234.65,1622.73 L235.15,1621.17 L235.90,1620.65 L236.60,1621.60 L237.30,1623.99 L237.90,1627.45 L238.50,1631.29 L239.10,1634.79 L239.70,1637.90 L240.25,1636.96 L240.80,1636.17 L241.35,1635.64 L241.90,1635.41 L242.46,1635.43 L243.03,1635.60 L243.59,1635.87 L244.15,1636.22 L244.69,1636.71 L245.22,1637.39 L245.76,1638.22 L246.29,1639.15 L246.83,1640.10 L247.36,1641.02 L247.90,1641.85 L248.46,1642.61 L249.03,1643.34 L249.59,1644.05 L250.15,1644.74 L250.71,1645.41 L251.27,1646.08 L251.84,1646.74 L252.40,1647.39 L252.90,1648.00 L253.40,1648.59 L253.90,1649.18 L254.40,1649.76 L254.90,1650.33 L255.40,1650.91 L255.90,1651.47 L256.40,1652.04 L256.90,1652.60 L257.51,1647.21 L258.12,1642.11 L258.73,1637.49 L259.26,1633.41 L259.80,1629.73 L260.33,1626.46 L260.87,1623.67 L261.48,1621.37 L262.08,1619.75 L263.00,1619.19 L263.70,1620.16 L264.40,1622.62 L265.00,1626.20 L265.60,1630.17 L266.20,1633.78 L266.80,1637.00 L267.35,1635.92 L267.90,1635.01 L268.45,1634.39 L269.00,1634.12 L269.56,1634.14 L270.12,1634.32 L270.69,1634.60 L271.25,1634.98 L271.79,1635.50 L272.32,1636.22 L272.86,1637.11 L273.39,1638.10 L273.93,1639.11 L274.46,1640.08 L275.00,1640.94 L275.50,1641.69 L276.00,1642.39 L276.50,1643.06 L277.00,1643.71 L277.50,1644.36 L278.00,1644.99 L278.50,1645.62 L279.00,1646.25 L279.50,1646.88 L280.00,1647.51 L280.50,1648.14 L281.00,1648.76 L281.50,1649.38 L282.00,1649.99 L282.50,1650.60 L283.00,1651.20 L283.50,1651.80 L284.00,1652.40 L284.60,1646.77 L285.20,1641.45 L285.80,1636.63 L286.32,1632.37 L286.85,1628.53 L287.38,1625.11 L287.90,1622.20 L288.50,1619.80 L289.10,1618.11 L290.00,1617.52 L290.70,1618.53 L291.40,1621.08 L292.00,1624.79 L292.60,1628.91 L293.20,1632.66 L293.80,1636.00 L294.35,1634.92 L294.90,1634.01 L295.45,1633.39 L296.00,1633.12 L296.55,1633.13 L297.10,1633.30 L297.64,1633.56 L298.19,1633.92 L298.71,1634.40 L299.23,1635.07 L299.75,1635.90 L300.28,1636.83 L300.80,1637.78 L301.32,1638.68 L301.84,1639.51 L302.39,1640.27 L302.94,1641.00 L303.48,1641.70 L304.03,1642.38 L304.58,1643.05 L305.12,1643.72 L305.67,1644.38 L306.22,1645.04 L306.77,1645.70 L307.32,1646.36 L307.86,1647.01 L308.41,1647.66 L308.96,1648.30 L309.50,1648.94 L310.05,1649.57 L310.60,1650.20" fill="none" stroke="#5c5c5c" stroke-width="2.0" stroke-linejoin="round" stroke-linecap="round"/>
<path d="M319.30,1650.90 L319.84,1646.01 L320.38,1641.34 L320.92,1636.85 L321.55,1632.40 L322.18,1628.30 L322.81,1624.99 L323.35,1622.63 L323.89,1621.13 L324.70,1620.64 L325.40,1621.61 L326.10,1624.01 L326.70,1627.49 L327.30,1631.35 L327.90,1634.87 L328.50,1638.00 L329.05,1636.92 L329.60,1636.01 L330.15,1635.39 L330.70,1635.12 L331.25,1635.13 L331.79,1635.30 L332.34,1635.56 L332.89,1635.90 L333.41,1636.39 L333.93,1637.05 L334.45,1637.87 L334.98,1638.78 L335.50,1639.72 L336.02,1640.62 L336.54,1641.43 L337.09,1642.19 L337.63,1642.90 L338.18,1643.60 L338.73,1644.27 L339.28,1644.94 L339.83,1645.59 L340.37,1646.25 L340.92,1646.90 L341.47,1647.55 L342.01,1648.20 L342.56,1648.85 L343.11,1649.49 L343.66,1650.12 L344.21,1650.75 L344.75,1651.38 L345.30,1652.00 L345.84,1647.05 L346.38,1642.32 L346.92,1637.77 L347.55,1633.26 L348.18,1629.11 L348.81,1625.76 L349.35,1623.37 L349.89,1621.84 L350.70,1621.33 L351.40,1622.25 L352.10,1624.55 L352.70,1627.89 L353.30,1631.61 L353.90,1634.99 L354.50,1638.00 L355.05,1636.92 L355.60,1636.02 L356.15,1635.40 L356.70,1635.12 L357.28,1635.13 L357.87,1635.30 L358.45,1635.57 L359.04,1635.93 L359.60,1636.42 L360.15,1637.10 L360.71,1637.94 L361.27,1638.87 L361.83,1639.83 L362.38,1640.75 L362.94,1641.56 L363.46,1642.27 L363.98,1642.93 L364.50,1643.57 L365.02,1644.19 L365.54,1644.79 L366.06,1645.39 L366.58,1645.99 L367.10,1646.58 L367.62,1647.18 L368.14,1647.78 L368.66,1648.37 L369.18,1648.96 L369.70,1649.54 L370.22,1650.12 L370.74,1650.70 L371.26,1651.27 L371.78,1651.84 L372.30,1652.40 L372.96,1644.92 L373.62,1638.28 L374.13,1632.87 L374.65,1628.36 L375.16,1624.49 L376.04,1621.51 L376.70,1620.34 L377.40,1621.16 L378.10,1623.47 L378.70,1626.84 L379.30,1630.57 L379.90,1633.97 L380.50,1637.00 L381.05,1635.92 L381.60,1635.01 L382.15,1634.39 L382.70,1634.12 L383.24,1634.13 L383.79,1634.30 L384.33,1634.57 L384.88,1634.92 L385.39,1635.41 L385.91,1636.09 L386.43,1636.92 L386.95,1637.85 L387.46,1638.80 L387.98,1639.72 L388.50,1640.55 L389.04,1641.31 L389.59,1642.04 L390.13,1642.75 L390.67,1643.44 L391.22,1644.11 L391.76,1644.78 L392.31,1645.44 L392.85,1646.11 L393.39,1646.78 L393.94,1647.44 L394.48,1648.09 L395.02,1648.75 L395.57,1649.39 L396.11,1650.03 L396.66,1650.67 L397.20,1651.30" fill="none" stroke="#5c5c5c" stroke-width="2.0" stroke-linejoin="round" stroke-linecap="round"/>
<path d="M406.70,1650.50 L407.24,1645.26 L407.78,1640.26 L408.32,1635.45 L408.95,1630.69 L409.58,1626.30 L410.21,1622.75 L410.75,1620.23 L411.29,1618.61 L412.10,1618.03 L412.80,1618.87 L413.50,1621.07 L414.10,1624.26 L414.70,1627.80 L415.30,1631.03 L415.90,1633.90 L416.45,1633.51 L417.00,1633.20 L417.55,1633.01 L418.10,1632.95 L418.61,1633.02 L419.12,1633.19 L419.63,1633.46 L420.14,1633.83 L420.71,1634.40 L421.27,1635.21 L421.84,1636.21 L422.41,1637.28 L422.97,1638.32 L423.54,1639.25 L424.05,1640.04 L424.56,1640.76 L425.07,1641.45 L425.58,1642.12 L426.09,1642.78 L426.60,1643.43 L427.11,1644.08 L427.62,1644.73 L428.13,1645.38 L428.64,1646.03 L429.15,1646.67 L429.66,1647.30 L430.17,1647.94 L430.68,1648.56 L431.19,1649.18 L431.70,1649.80 L432.23,1644.41 L432.76,1639.25 L433.29,1634.30 L433.91,1629.39 L434.53,1624.87 L435.14,1621.22 L435.67,1618.62 L436.20,1616.95 L437.00,1616.38 L437.70,1617.34 L438.40,1619.78 L439.00,1623.31 L439.60,1627.24 L440.20,1630.82 L440.80,1634.00 L441.35,1633.09 L441.90,1632.33 L442.45,1631.82 L443.00,1631.60 L443.54,1631.62 L444.07,1631.79 L444.61,1632.06 L445.14,1632.40 L445.66,1632.88 L446.17,1633.54 L446.68,1634.35 L447.19,1635.26 L447.70,1636.19 L448.21,1637.08 L448.72,1637.90 L449.26,1638.65 L449.79,1639.36 L450.33,1640.05 L450.87,1640.72 L451.40,1641.38 L451.94,1642.03 L452.47,1642.68 L453.01,1643.33 L453.55,1643.98 L454.08,1644.63 L454.62,1645.27 L455.15,1645.90 L455.69,1646.54 L456.23,1647.16 L456.76,1647.78 L457.30,1648.40 L457.80,1643.27 L458.30,1638.38 L458.80,1633.67 L459.38,1629.01 L459.97,1624.71 L460.55,1621.24 L461.05,1618.77 L461.55,1617.19 L462.30,1616.66 L463.00,1617.61 L463.70,1620.01 L464.30,1623.49 L464.90,1627.35 L465.50,1630.87 L466.10,1634.00 L466.65,1633.08 L467.20,1632.32 L467.75,1631.82 L468.30,1631.62 L468.94,1631.69 L469.58,1631.96 L470.22,1632.37 L470.75,1632.94 L471.29,1633.72 L471.82,1634.67 L472.35,1635.70 L472.89,1636.70 L473.42,1637.62 L473.97,1638.44 L474.52,1639.22 L475.07,1639.97 L475.61,1640.70 L476.16,1641.41 L476.71,1642.13 L477.26,1642.84 L477.81,1643.55 L478.36,1644.26 L478.91,1644.96 L479.45,1645.65 L480.00,1646.34 L480.55,1647.02 L481.10,1647.70" fill="none" stroke="#5c5c5c" stroke-width="2.0" stroke-linejoin="round" stroke-linecap="round"/>
<path d="M490.50,1651.30 L491.19,1644.50 L491.88,1638.47 L492.42,1633.55 L492.95,1629.45 L493.49,1625.94 L494.41,1623.23 L495.10,1622.19 L495.80,1623.00 L496.50,1625.24 L497.10,1628.49 L497.70,1632.09 L498.30,1635.38 L498.90,1638.30 L499.45,1638.02 L500.00,1637.80 L500.55,1637.68 L501.10,1637.64 L501.62,1637.71 L502.14,1637.88 L502.66,1638.12 L503.19,1638.47 L503.76,1639.01 L504.34,1639.76 L504.92,1640.69 L505.50,1641.70 L506.08,1642.67 L506.66,1643.54 L507.18,1644.27 L507.70,1644.95 L508.22,1645.59 L508.75,1646.22 L509.27,1646.83 L509.79,1647.44 L510.31,1648.05 L510.83,1648.66 L511.35,1649.27 L511.87,1649.87 L512.39,1650.47 L512.91,1651.07 L513.44,1651.66 L513.96,1652.24 L514.48,1652.82 L515.00,1653.40 L515.72,1646.78 L516.44,1640.91 L517.00,1636.12 L517.56,1632.14 L518.12,1628.72 L519.08,1626.09 L519.80,1625.12 L520.50,1626.07 L521.20,1628.55 L521.80,1632.14 L522.40,1636.13 L523.00,1639.77 L523.60,1643.00 L524.15,1642.05 L524.70,1641.26 L525.25,1640.74 L525.80,1640.52 L526.46,1640.57 L527.13,1640.81 L527.79,1641.18 L528.35,1641.69 L528.90,1642.39 L529.46,1643.24 L530.01,1644.16 L530.57,1645.06 L531.12,1645.88 L531.69,1646.61 L532.26,1647.31 L532.83,1647.98 L533.40,1648.63 L533.97,1649.27 L534.54,1649.91 L535.11,1650.55 L535.68,1651.19 L536.25,1651.82 L536.82,1652.45 L537.39,1653.07 L537.96,1653.68 L538.53,1654.29 L539.10,1654.90 L539.62,1649.99 L540.14,1645.31 L540.66,1640.80 L541.27,1636.34 L541.87,1632.23 L542.48,1628.91 L543.00,1626.54 L543.52,1625.03 L544.30,1624.53 L545.00,1625.46 L545.70,1627.80 L546.30,1631.18 L546.90,1634.94 L547.50,1638.36 L548.10,1641.40 L548.65,1640.75 L549.20,1640.23 L549.75,1639.90 L550.30,1639.78 L550.81,1639.83 L551.32,1640.01 L551.83,1640.31 L552.34,1640.78 L552.85,1641.44 L553.36,1642.23 L553.87,1643.03 L554.38,1643.76 L554.89,1644.41 L555.40,1645.01 L555.91,1645.59 L556.42,1646.15 L556.93,1646.71 L557.44,1647.26 L557.95,1647.81 L558.46,1648.36 L558.97,1648.90 L559.48,1649.44 L559.99,1649.97 L560.50,1650.50" fill="none" stroke="#5c5c5c" stroke-width="2.0" stroke-linejoin="round" stroke-linecap="round"/>
<path d="M128.00,1695.30 L128.40,1695.80 L129.20,1693.02 L129.70,1685.81 L130.20,1674.89 L130.80,1662.29 L131.40,1651.06 L132.00,1643.20 L132.60,1638.60 L133.40,1636.68 L133.90,1637.05 L134.40,1639.68 L135.05,1645.17 L135.70,1652.65 L136.20,1660.44 L136.70,1668.28 L137.20,1676.53 L137.90,1685.14 L138.60,1692.52 L139.15,1697.34 L139.70,1699.60 L140.30,1699.91 L140.90,1699.44 L141.40,1698.96 L141.90,1698.58 L142.40,1698.31 L142.90,1698.18 L143.40,1698.18 L143.90,1698.25 L144.40,1698.37 L144.90,1698.49 L145.40,1698.60 L145.90,1698.68 L146.40,1698.69 L146.90,1698.59 L147.40,1698.39 L147.90,1698.12 L148.40,1697.85 L148.90,1697.64 L149.40,1697.53 L149.90,1697.50 L150.40,1697.50 L150.90,1697.50 L151.40,1697.50 L151.90,1697.50 L152.40,1697.50 L152.90,1697.50 L153.40,1697.50 L153.90,1697.50 L154.40,1697.50 L154.90,1697.50 L155.40,1697.50 L155.90,1697.50 L156.40,1697.50 L156.90,1697.50 L157.40,1697.50 L157.90,1697.50 L158.40,1697.50 L158.90,1697.39 L159.40,1696.46 L160.20,1692.96 L160.70,1685.41 L161.20,1674.13 L161.80,1661.09 L162.40,1649.48 L163.00,1641.35 L163.60,1636.60 L164.40,1634.62 L164.90,1634.99 L165.40,1637.72 L166.05,1643.39 L166.70,1651.12 L167.20,1659.18 L167.70,1667.28 L168.20,1675.81 L168.90,1684.72 L169.60,1692.35 L170.15,1697.34 L170.70,1699.67 L171.30,1699.99 L171.90,1699.51 L172.40,1699.01 L172.90,1698.62 L173.40,1698.33 L173.90,1698.20 L174.40,1698.20 L174.90,1698.28 L175.40,1698.40 L175.90,1698.52 L176.40,1698.64 L176.90,1698.72 L177.40,1698.73 L177.90,1698.63 L178.40,1698.42 L178.90,1698.14 L179.40,1697.86 L179.90,1697.65 L180.40,1697.54 L180.91,1697.50 L181.43,1697.50 L181.94,1697.50 L182.46,1697.50 L182.97,1697.50 L183.49,1697.50 L184.00,1697.50 L184.51,1697.50 L185.03,1697.50 L185.54,1697.50 L186.06,1697.50 L186.57,1697.50 L187.09,1697.50 L187.60,1697.50 L188.11,1697.50 L188.63,1697.50 L189.14,1697.50 L189.66,1697.50 L190.17,1697.50 L190.69,1697.38 L191.20,1696.44 L192.00,1692.88 L192.50,1685.21 L193.00,1673.72 L193.60,1660.47 L194.20,1648.66 L194.80,1640.38 L195.40,1635.55 L196.20,1633.54 L196.70,1633.92 L197.20,1636.69 L197.85,1642.46 L198.50,1650.32 L199.00,1658.52 L199.50,1666.76 L200.00,1675.44 L200.70,1684.50 L201.40,1692.26 L201.95,1697.33 L202.50,1699.71 L203.10,1700.04 L203.70,1699.54 L204.20,1699.04 L204.70,1698.64 L205.20,1698.35 L205.70,1698.21 L206.20,1698.21 L206.70,1698.29 L207.20,1698.41 L207.70,1698.54 L208.20,1698.66 L208.70,1698.74 L209.20,1698.75 L209.70,1698.65 L210.20,1698.43 L210.70,1698.15 L211.20,1697.87 L211.70,1697.65 L212.20,1697.54 L212.70,1697.50 L213.20,1697.50 L213.70,1697.50 L214.20,1697.50 L214.70,1697.50 L215.20,1697.50 L215.70,1697.50 L216.20,1697.50 L216.70,1697.50 L217.20,1697.50 L217.70,1697.50 L218.20,1697.50 L218.70,1697.50 L219.20,1697.50 L219.70,1697.50 L220.20,1697.50 L220.70,1697.50" fill="none" stroke="#1b8a1b" stroke-width="2.3" stroke-linejoin="round" stroke-linecap="round"/>
<path d="M230.90,1696.40 L231.30,1696.20 L232.10,1693.30 L232.60,1686.43 L233.10,1676.10 L233.70,1664.17 L234.30,1653.54 L234.90,1646.10 L235.50,1641.74 L236.30,1639.93 L236.80,1640.27 L237.30,1642.77 L237.95,1647.96 L238.60,1655.04 L239.10,1662.42 L239.60,1669.84 L240.10,1677.65 L240.80,1685.80 L241.50,1692.79 L242.05,1697.35 L242.60,1699.49 L243.20,1699.78 L243.80,1699.34 L244.30,1698.88 L244.80,1698.52 L245.30,1698.26 L245.80,1698.14 L246.30,1698.14 L246.80,1698.21 L247.30,1698.32 L247.80,1698.44 L248.30,1698.54 L248.80,1698.61 L249.30,1698.62 L249.80,1698.53 L250.30,1698.34 L250.80,1698.09 L251.30,1697.83 L251.80,1697.63 L252.30,1697.53 L252.82,1697.50 L253.34,1697.50 L253.85,1697.50 L254.37,1697.50 L254.89,1697.50 L255.41,1697.50 L255.93,1697.50 L256.45,1697.50 L256.96,1697.50 L257.48,1697.39 L258.00,1696.51 L258.80,1693.19 L259.30,1686.02 L259.80,1675.30 L260.40,1662.92 L261.00,1651.89 L261.60,1644.16 L262.20,1639.65 L263.00,1637.77 L263.50,1638.12 L264.00,1640.71 L264.65,1646.10 L265.30,1653.44 L265.80,1661.10 L266.30,1668.80 L266.80,1676.90 L267.50,1685.36 L268.20,1692.61 L268.75,1697.34 L269.30,1699.56 L269.90,1699.87 L270.50,1699.41 L271.00,1698.93 L271.50,1698.56 L272.00,1698.29 L272.50,1698.16 L273.00,1698.17 L273.50,1698.24 L274.00,1698.35 L274.50,1698.47 L275.00,1698.58 L275.50,1698.66 L276.00,1698.67 L276.50,1698.57 L277.00,1698.37 L277.50,1698.11 L278.00,1697.84 L278.50,1697.64 L279.00,1697.53 L279.50,1697.50 L280.00,1697.50 L280.50,1697.50 L281.00,1697.50 L281.50,1697.50 L282.00,1697.50 L282.50,1697.50 L283.00,1697.50 L283.50,1697.50 L284.00,1697.50 L284.50,1697.39 L285.00,1696.48 L285.80,1693.06 L286.30,1685.70 L286.80,1674.67 L287.40,1661.95 L288.00,1650.61 L288.60,1642.67 L289.20,1638.03 L290.00,1636.09 L290.50,1636.46 L291.00,1639.12 L291.65,1644.66 L292.30,1652.21 L292.80,1660.08 L293.30,1667.99 L293.80,1676.32 L294.50,1685.02 L295.20,1692.47 L295.75,1697.34 L296.30,1699.62 L296.90,1699.93 L297.50,1699.46 L298.00,1698.97 L298.50,1698.59 L299.00,1698.31 L299.50,1698.18 L300.00,1698.18 L300.50,1698.26 L301.00,1698.37 L301.50,1698.50 L302.00,1698.61 L302.50,1698.69 L303.00,1698.70 L303.50,1698.61 L304.00,1698.42 L304.50,1698.15 L305.00,1697.88 L305.50,1697.66 L306.00,1697.53 L306.51,1697.46 L307.02,1697.43 L307.53,1697.39 L308.04,1697.37 L308.56,1697.34 L309.07,1697.33 L309.58,1697.31 L310.09,1697.30 L310.60,1697.30" fill="none" stroke="#1b8a1b" stroke-width="2.3" stroke-linejoin="round" stroke-linecap="round"/>
<path d="M319.30,1697.00 L320.10,1696.42 L320.90,1693.44 L321.40,1686.76 L321.90,1676.72 L322.50,1665.14 L323.10,1654.82 L323.70,1647.59 L324.30,1643.36 L325.10,1641.61 L325.60,1641.94 L326.10,1644.36 L326.75,1649.40 L327.40,1656.28 L327.90,1663.44 L328.40,1670.64 L328.90,1678.22 L329.60,1686.14 L330.30,1692.92 L330.85,1697.35 L331.40,1699.43 L332.00,1699.72 L332.60,1699.29 L333.10,1698.84 L333.60,1698.49 L334.10,1698.24 L334.60,1698.12 L335.10,1698.12 L335.60,1698.19 L336.10,1698.30 L336.60,1698.41 L337.10,1698.51 L337.60,1698.58 L338.10,1698.59 L338.60,1698.50 L339.10,1698.32 L339.60,1698.07 L340.10,1697.82 L340.60,1697.63 L341.10,1697.53 L341.62,1697.50 L342.14,1697.50 L342.66,1697.50 L343.18,1697.50 L343.70,1697.50 L344.22,1697.50 L344.74,1697.50 L345.26,1697.50 L345.78,1697.40 L346.30,1696.56 L347.10,1693.41 L347.60,1686.62 L348.10,1676.47 L348.70,1664.74 L349.30,1654.29 L349.90,1646.97 L350.50,1642.70 L351.30,1640.92 L351.80,1641.25 L352.30,1643.70 L352.95,1648.81 L353.60,1655.77 L354.10,1663.02 L354.60,1670.31 L355.10,1677.99 L355.80,1686.00 L356.50,1692.87 L357.05,1697.35 L357.60,1699.45 L358.20,1699.74 L358.80,1699.31 L359.30,1698.86 L359.80,1698.50 L360.30,1698.25 L360.80,1698.13 L361.30,1698.13 L361.80,1698.20 L362.30,1698.31 L362.80,1698.42 L363.30,1698.52 L363.80,1698.60 L364.30,1698.61 L364.80,1698.52 L365.30,1698.33 L365.80,1698.08 L366.30,1697.82 L366.80,1697.63 L367.30,1697.53 L367.84,1697.50 L368.38,1697.50 L368.92,1697.50 L369.46,1697.50 L370.00,1697.50 L370.54,1697.50 L371.08,1697.50 L371.62,1697.50 L372.16,1697.40 L372.70,1696.54 L373.50,1693.31 L374.00,1686.36 L374.50,1675.95 L375.10,1663.94 L375.70,1653.24 L376.30,1645.74 L376.90,1641.36 L377.70,1639.54 L378.20,1639.88 L378.70,1642.39 L379.35,1647.62 L380.00,1654.75 L380.50,1662.18 L381.00,1669.65 L381.50,1677.51 L382.20,1685.72 L382.90,1692.75 L383.45,1697.35 L384.00,1699.50 L384.60,1699.80 L385.20,1699.35 L385.70,1698.89 L386.20,1698.53 L386.70,1698.27 L387.20,1698.15 L387.70,1698.15 L388.20,1698.22 L388.70,1698.32 L389.20,1698.44 L389.70,1698.55 L390.20,1698.62 L390.70,1698.63 L391.20,1698.55 L391.70,1698.37 L392.20,1698.12 L392.70,1697.87 L393.20,1697.66 L393.70,1697.53 L394.20,1697.46 L394.70,1697.41 L395.20,1697.37 L395.70,1697.34 L396.20,1697.32 L396.70,1697.31 L397.20,1697.30" fill="none" stroke="#1b8a1b" stroke-width="2.3" stroke-linejoin="round" stroke-linecap="round"/>
<path d="M406.70,1697.50 L407.50,1696.85 L408.30,1693.63 L408.80,1686.42 L409.30,1675.61 L409.90,1663.13 L410.50,1652.01 L411.10,1644.22 L411.70,1639.67 L412.50,1637.78 L413.00,1638.13 L413.50,1640.74 L414.15,1646.17 L414.80,1653.58 L415.30,1661.30 L415.80,1669.06 L416.30,1677.23 L417.00,1685.76 L417.70,1693.07 L418.25,1697.84 L418.80,1700.08 L419.40,1700.39 L420.00,1699.92 L420.50,1699.45 L421.00,1699.07 L421.50,1698.80 L422.00,1698.67 L422.50,1698.67 L423.00,1698.75 L423.50,1698.86 L424.00,1698.98 L424.50,1699.09 L425.00,1699.17 L425.50,1699.18 L426.00,1699.08 L426.50,1698.88 L427.00,1698.61 L427.50,1698.34 L428.00,1698.14 L428.50,1698.03 L429.00,1698.00 L429.50,1698.00 L430.00,1698.00 L430.50,1698.00 L431.00,1698.00 L431.50,1698.00 L432.00,1697.89 L432.50,1696.99 L433.30,1693.60 L433.80,1686.29 L434.30,1675.36 L434.90,1662.73 L435.50,1651.49 L436.10,1643.61 L436.70,1639.00 L437.50,1637.09 L438.00,1637.45 L438.50,1640.09 L439.15,1645.58 L439.80,1653.07 L440.30,1660.88 L440.80,1668.73 L441.30,1676.99 L442.00,1685.62 L442.70,1693.01 L443.25,1697.84 L443.80,1700.10 L444.40,1700.41 L445.00,1699.95 L445.50,1699.46 L446.00,1699.08 L446.50,1698.81 L447.00,1698.68 L447.50,1698.68 L448.00,1698.75 L448.50,1698.87 L449.00,1698.99 L449.50,1699.10 L450.00,1699.18 L450.50,1699.19 L451.00,1699.09 L451.50,1698.89 L452.00,1698.62 L452.50,1698.35 L453.00,1698.14 L453.50,1698.04 L454.01,1698.00 L454.52,1698.00 L455.04,1698.00 L455.55,1698.00 L456.06,1698.00 L456.58,1698.00 L457.09,1697.89 L457.60,1697.00 L458.40,1693.65 L458.90,1686.42 L459.40,1675.61 L460.00,1663.13 L460.60,1652.01 L461.20,1644.22 L461.80,1639.67 L462.60,1637.78 L463.10,1638.13 L463.60,1640.74 L464.25,1646.17 L464.90,1653.58 L465.40,1661.30 L465.90,1669.06 L466.40,1677.23 L467.10,1685.76 L467.80,1693.07 L468.35,1697.84 L468.90,1700.08 L469.50,1700.39 L470.10,1699.92 L470.60,1699.45 L471.10,1699.07 L471.60,1698.80 L472.10,1698.67 L472.60,1698.67 L473.10,1698.75 L473.60,1698.86 L474.10,1698.98 L474.60,1699.09 L475.10,1699.17 L475.60,1699.18 L476.10,1699.08 L476.60,1698.88 L477.10,1698.61 L477.60,1698.34 L478.10,1698.14 L478.60,1698.03 L479.10,1698.00 L479.60,1698.00 L480.10,1698.00 L480.60,1698.00 L481.10,1698.00" fill="none" stroke="#1b8a1b" stroke-width="2.3" stroke-linejoin="round" stroke-linecap="round"/>
<path d="M490.50,1696.80 L491.00,1696.86 L491.80,1694.24 L492.30,1687.81 L492.80,1678.12 L493.40,1666.92 L494.00,1656.95 L494.60,1649.96 L495.20,1645.87 L496.00,1644.17 L496.50,1644.50 L497.00,1646.84 L497.65,1651.71 L498.30,1658.35 L498.80,1665.28 L499.30,1672.24 L499.80,1679.57 L500.50,1687.22 L501.20,1693.78 L501.75,1698.06 L502.30,1700.06 L502.90,1700.34 L503.50,1699.93 L504.00,1699.50 L504.50,1699.16 L505.00,1698.92 L505.50,1698.80 L506.00,1698.80 L506.50,1698.87 L507.00,1698.97 L507.50,1699.08 L508.00,1699.18 L508.50,1699.25 L509.00,1699.26 L509.50,1699.17 L510.00,1698.99 L510.50,1698.75 L511.00,1698.51 L511.50,1698.33 L512.00,1698.23 L512.54,1698.20 L513.09,1698.20 L513.63,1698.20 L514.17,1698.20 L514.71,1698.20 L515.26,1698.10 L515.80,1697.32 L516.60,1694.35 L517.10,1687.95 L517.60,1678.37 L518.20,1667.32 L518.80,1657.47 L519.40,1650.57 L520.00,1646.54 L520.80,1644.86 L521.30,1645.18 L521.80,1647.49 L522.45,1652.30 L523.10,1658.86 L523.60,1665.70 L524.10,1672.57 L524.60,1679.81 L525.30,1687.36 L526.00,1693.83 L526.55,1698.06 L527.10,1700.04 L527.70,1700.31 L528.30,1699.90 L528.80,1699.48 L529.30,1699.15 L529.80,1698.91 L530.30,1698.79 L530.80,1698.79 L531.30,1698.86 L531.80,1698.96 L532.30,1699.07 L532.80,1699.16 L533.30,1699.23 L533.80,1699.24 L534.30,1699.16 L534.80,1698.98 L535.30,1698.74 L535.80,1698.51 L536.30,1698.32 L536.80,1698.23 L537.33,1698.20 L537.87,1698.20 L538.40,1698.20 L538.93,1698.20 L539.47,1698.10 L540.00,1697.28 L540.80,1694.20 L541.30,1687.55 L541.80,1677.61 L542.40,1666.12 L543.00,1655.89 L543.60,1648.73 L544.20,1644.54 L545.00,1642.80 L545.50,1643.13 L546.00,1645.53 L546.65,1650.52 L547.30,1657.34 L547.80,1664.44 L548.30,1671.58 L548.80,1679.09 L549.50,1686.94 L550.20,1693.66 L550.75,1698.06 L551.30,1700.11 L551.90,1700.40 L552.50,1699.97 L553.00,1699.53 L553.50,1699.18 L554.00,1698.93 L554.50,1698.82 L555.00,1698.82 L555.50,1698.89 L556.00,1698.99 L556.50,1699.10 L557.00,1699.20 L557.50,1699.27 L558.00,1699.27 L558.50,1699.16 L559.00,1698.89 L559.50,1698.50 L560.00,1698.02 L560.50,1697.50" fill="none" stroke="#1b8a1b" stroke-width="2.3" stroke-linejoin="round" stroke-linecap="round"/>
<path d="M872.80,1568.00 L873.35,1563.93 L873.90,1560.27 L874.45,1557.16 L875.11,1554.53 L875.77,1552.20 L876.43,1549.94 L876.98,1547.64 L877.53,1545.25 L878.08,1542.63 L878.74,1540.02 L879.40,1538.78 L879.90,1539.96 L880.40,1542.84 L880.90,1546.21 L881.40,1549.48 L882.30,1552.60 L882.85,1551.82 L883.40,1551.60 L884.04,1552.23 L884.69,1553.53 L885.33,1555.03 L885.86,1556.46 L886.39,1557.86 L886.92,1559.32 L887.45,1560.81 L887.98,1562.27 L888.51,1563.67 L889.03,1564.99 L889.57,1566.23 L890.11,1567.42 L890.64,1568.58 L891.18,1569.70 L891.72,1570.79 L892.25,1571.85 L892.79,1572.88 L893.33,1573.89 L893.87,1574.87 L894.38,1575.81 L894.89,1576.72 L895.40,1577.61 L895.91,1578.49 L896.43,1579.35 L896.94,1580.19 L897.45,1581.01 L897.96,1581.81 L898.48,1582.60 L898.99,1583.36 L899.50,1584.10 L900.13,1578.01 L900.77,1572.56 L901.40,1568.14 L901.97,1564.80 L902.54,1562.11 L903.11,1559.59 L903.68,1556.81 L904.31,1553.60 L904.95,1550.11 L905.58,1546.61 L906.09,1543.27 L906.59,1540.55 L907.10,1539.54 L907.60,1540.86 L908.10,1543.77 L908.60,1547.17 L909.10,1550.46 L910.00,1553.60 L910.55,1552.98 L911.10,1552.86 L911.74,1553.50 L912.38,1554.77 L913.02,1556.24 L913.55,1557.63 L914.07,1559.00 L914.60,1560.42 L915.12,1561.87 L915.65,1563.30 L916.17,1564.67 L916.70,1565.95 L917.23,1567.16 L917.77,1568.33 L918.30,1569.45 L918.83,1570.55 L919.37,1571.61 L919.90,1572.65 L920.43,1573.65 L920.97,1574.64 L921.50,1575.59 L922.01,1576.51 L922.52,1577.40 L923.03,1578.27 L923.54,1579.13 L924.05,1579.97 L924.55,1580.79 L925.06,1581.59 L925.57,1582.37 L926.08,1583.13 L926.59,1583.87 L927.10,1584.60 L927.61,1579.64 L928.11,1575.00 L928.62,1570.88 L929.12,1567.30 L929.73,1564.15 L930.34,1561.36 L930.95,1558.73 L931.56,1556.06 L932.06,1553.35 L932.57,1550.56 L933.07,1547.71 L933.58,1544.68 L934.12,1541.41 L934.66,1538.57 L935.20,1537.46 L935.70,1538.71 L936.20,1541.56 L936.70,1544.89 L937.20,1548.12 L938.10,1551.20 L938.65,1550.79 L939.20,1550.80 L939.76,1551.48 L940.33,1552.75 L940.89,1554.26 L941.43,1555.80 L941.97,1557.39 L942.51,1559.04 L943.05,1560.69 L943.59,1562.28 L944.13,1563.76 L944.66,1565.12 L945.19,1566.41 L945.72,1567.65 L946.25,1568.85 L946.78,1570.01 L947.31,1571.14 L947.84,1572.24 L948.37,1573.33 L948.91,1574.40 L949.46,1575.47 L950.01,1576.51 L950.56,1577.53 L951.11,1578.52 L951.65,1579.48 L952.20,1580.41 L952.75,1581.32 L953.30,1582.20" fill="none" stroke="#5c5c5c" stroke-width="2.0" stroke-linejoin="round" stroke-linecap="round"/>
<path d="M963.80,1583.20 L964.38,1577.69 L964.97,1572.74 L965.55,1568.74 L966.07,1565.71 L966.60,1563.28 L967.12,1560.99 L967.65,1558.48 L968.23,1555.56 L968.82,1552.34 L969.40,1548.79 L970.10,1545.22 L970.80,1543.28 L971.30,1544.06 L971.80,1546.64 L972.30,1549.70 L972.80,1552.67 L973.70,1555.50 L974.25,1555.11 L974.80,1555.10 L975.45,1555.75 L976.10,1556.97 L976.74,1558.38 L977.28,1559.70 L977.81,1561.02 L978.34,1562.38 L978.87,1563.76 L979.41,1565.13 L979.94,1566.44 L980.47,1567.67 L981.01,1568.82 L981.55,1569.94 L982.09,1571.01 L982.63,1572.06 L983.17,1573.08 L983.71,1574.07 L984.25,1575.03 L984.79,1575.97 L985.33,1576.88 L985.85,1577.76 L986.36,1578.61 L986.88,1579.45 L987.39,1580.27 L987.91,1581.07 L988.42,1581.85 L988.94,1582.62 L989.45,1583.37 L989.97,1584.10 L990.48,1584.81 L991.00,1585.50 L991.59,1579.61 L992.18,1574.34 L992.77,1570.07 L993.31,1566.83 L993.84,1564.23 L994.37,1561.79 L994.90,1559.11 L995.50,1556.00 L996.09,1552.56 L996.68,1548.77 L997.39,1544.96 L998.10,1542.86 L998.60,1543.65 L999.10,1546.32 L999.60,1549.49 L1000.10,1552.57 L1001.00,1555.50 L1001.55,1554.99 L1002.10,1554.93 L1002.74,1555.56 L1003.37,1556.79 L1004.01,1558.21 L1004.53,1559.55 L1005.05,1560.88 L1005.58,1562.25 L1006.10,1563.65 L1006.62,1565.03 L1007.14,1566.35 L1007.66,1567.59 L1008.19,1568.76 L1008.73,1569.88 L1009.25,1570.97 L1009.78,1572.03 L1010.32,1573.06 L1010.85,1574.06 L1011.38,1575.03 L1011.91,1575.98 L1012.44,1576.90 L1012.94,1577.78 L1013.45,1578.64 L1013.95,1579.49 L1014.46,1580.31 L1014.96,1581.12 L1015.47,1581.92 L1015.98,1582.69 L1016.48,1583.45 L1016.99,1584.18 L1017.49,1584.90 L1018.00,1585.60 L1018.64,1579.49 L1019.28,1574.01 L1019.92,1569.57 L1020.50,1566.21 L1021.08,1563.52 L1021.66,1560.98 L1022.24,1558.20 L1022.88,1554.97 L1023.52,1551.46 L1024.16,1547.95 L1024.67,1544.59 L1025.19,1541.85 L1025.70,1540.80 L1026.20,1542.01 L1026.70,1544.75 L1027.20,1547.95 L1027.70,1551.05 L1028.60,1554.00 L1029.15,1553.54 L1029.70,1553.51 L1030.30,1554.16 L1030.90,1555.41 L1031.50,1556.90 L1032.08,1558.42 L1032.65,1559.98 L1033.22,1561.61 L1033.80,1563.23 L1034.38,1564.79 L1034.95,1566.20 L1035.45,1567.44 L1035.95,1568.58 L1036.45,1569.68 L1036.95,1570.74 L1037.45,1571.77 L1037.95,1572.78 L1038.45,1573.76 L1038.95,1574.72 L1039.45,1575.67 L1039.98,1576.62 L1040.50,1577.57 L1041.03,1578.50 L1041.55,1579.41 L1042.08,1580.30 L1042.60,1581.16 L1043.12,1582.01 L1043.65,1582.83 L1044.17,1583.62 L1044.70,1584.40" fill="none" stroke="#5c5c5c" stroke-width="2.0" stroke-linejoin="round" stroke-linecap="round"/>
<path d="M1053.00,1582.30 L1053.50,1577.90 L1054.00,1573.79 L1054.50,1570.14 L1055.00,1566.97 L1055.60,1564.17 L1056.20,1561.70 L1056.80,1559.37 L1057.40,1557.01 L1057.90,1554.60 L1058.40,1552.13 L1058.90,1549.60 L1059.40,1546.91 L1059.93,1544.02 L1060.47,1541.51 L1061.00,1540.57 L1061.50,1541.84 L1062.00,1544.62 L1062.50,1547.86 L1063.00,1551.01 L1063.90,1554.00 L1064.45,1553.55 L1065.00,1553.50 L1065.60,1554.12 L1066.20,1555.31 L1066.80,1556.74 L1067.38,1558.18 L1067.95,1559.68 L1068.53,1561.23 L1069.10,1562.78 L1069.67,1564.27 L1070.25,1565.62 L1070.75,1566.80 L1071.25,1567.89 L1071.75,1568.94 L1072.25,1569.95 L1072.75,1570.94 L1073.25,1571.90 L1073.75,1572.84 L1074.25,1573.76 L1074.75,1574.66 L1075.28,1575.57 L1075.80,1576.48 L1076.33,1577.36 L1076.85,1578.23 L1077.38,1579.08 L1077.90,1579.91 L1078.42,1580.71 L1078.95,1581.50 L1079.47,1582.26 L1080.00,1583.00 L1080.61,1576.91 L1081.22,1571.46 L1081.83,1567.04 L1082.37,1563.70 L1082.92,1561.01 L1083.47,1558.49 L1084.01,1555.71 L1084.62,1552.50 L1085.23,1548.94 L1085.84,1545.03 L1086.57,1541.09 L1087.30,1538.92 L1087.80,1539.74 L1088.30,1542.49 L1088.80,1545.78 L1089.30,1548.97 L1090.20,1552.00 L1090.75,1551.54 L1091.30,1551.52 L1091.89,1552.18 L1092.48,1553.46 L1093.06,1554.98 L1093.63,1556.52 L1094.19,1558.11 L1094.75,1559.77 L1095.32,1561.43 L1095.88,1563.02 L1096.44,1564.50 L1097.00,1565.87 L1097.55,1567.16 L1098.10,1568.40 L1098.65,1569.61 L1099.20,1570.77 L1099.75,1571.91 L1100.30,1573.01 L1100.86,1574.06 L1101.37,1575.07 L1101.88,1576.04 L1102.40,1576.98 L1102.91,1577.91 L1103.43,1578.82 L1103.94,1579.70 L1104.46,1580.56 L1104.97,1581.39 L1105.49,1582.21 L1106.00,1583.00 L1106.62,1576.70 L1107.23,1571.06 L1107.85,1566.49 L1108.40,1563.02 L1108.96,1560.24 L1109.52,1557.63 L1110.07,1554.76 L1110.69,1551.43 L1111.30,1547.75 L1111.92,1543.70 L1112.66,1539.62 L1113.40,1537.36 L1113.90,1538.16 L1114.40,1540.93 L1114.90,1544.24 L1115.40,1547.45 L1116.30,1550.50 L1116.85,1550.04 L1117.40,1550.01 L1117.98,1550.66 L1118.55,1551.90 L1119.13,1553.38 L1119.68,1554.89 L1120.23,1556.44 L1120.78,1558.05 L1121.34,1559.67 L1121.89,1561.22 L1122.44,1562.67 L1122.98,1564.00 L1123.52,1565.26 L1124.06,1566.47 L1124.60,1567.64 L1125.14,1568.78 L1125.68,1569.89 L1126.22,1570.96 L1126.76,1571.99 L1127.26,1572.97 L1127.77,1573.91 L1128.27,1574.84 L1128.78,1575.74 L1129.28,1576.62 L1129.78,1577.48 L1130.29,1578.32 L1130.79,1579.14 L1131.30,1579.93 L1131.80,1580.70" fill="none" stroke="#5c5c5c" stroke-width="2.0" stroke-linejoin="round" stroke-linecap="round"/>
<path d="M1141.00,1583.30 L1141.61,1577.81 L1142.22,1572.89 L1142.83,1568.91 L1143.37,1565.89 L1143.92,1563.47 L1144.47,1561.19 L1145.01,1558.70 L1145.62,1555.79 L1146.23,1552.59 L1146.84,1549.06 L1147.57,1545.51 L1148.30,1543.58 L1148.80,1544.40 L1149.30,1547.01 L1149.80,1550.11 L1150.30,1553.13 L1151.20,1556.00 L1151.75,1555.54 L1152.30,1555.49 L1152.85,1556.06 L1153.40,1557.17 L1153.94,1558.50 L1154.47,1559.85 L1154.99,1561.24 L1155.52,1562.69 L1156.04,1564.14 L1156.57,1565.53 L1157.10,1566.83 L1157.61,1568.02 L1158.12,1569.15 L1158.64,1570.24 L1159.15,1571.29 L1159.66,1572.31 L1160.18,1573.30 L1160.69,1574.27 L1161.20,1575.22 L1161.74,1576.16 L1162.27,1577.10 L1162.80,1578.01 L1163.34,1578.90 L1163.87,1579.77 L1164.40,1580.62 L1164.93,1581.43 L1165.47,1582.23 L1166.00,1583.00 L1166.59,1577.29 L1167.18,1572.17 L1167.78,1568.02 L1168.31,1564.88 L1168.84,1562.36 L1169.37,1559.99 L1169.90,1557.38 L1170.50,1554.36 L1171.09,1551.03 L1171.68,1547.35 L1172.39,1543.65 L1173.10,1541.64 L1173.60,1542.48 L1174.10,1545.19 L1174.60,1548.40 L1175.10,1551.53 L1176.00,1554.50 L1176.55,1554.05 L1177.10,1553.99 L1177.70,1554.58 L1178.29,1555.71 L1178.89,1557.06 L1179.46,1558.43 L1180.03,1559.85 L1180.60,1561.32 L1181.17,1562.80 L1181.74,1564.22 L1182.32,1565.54 L1182.87,1566.75 L1183.43,1567.90 L1183.99,1569.01 L1184.55,1570.08 L1185.11,1571.12 L1185.67,1572.13 L1186.23,1573.11 L1186.78,1574.05 L1187.31,1574.94 L1187.83,1575.80 L1188.35,1576.65 L1188.87,1577.47 L1189.39,1578.28 L1189.91,1579.06 L1190.44,1579.83 L1190.96,1580.57 L1191.48,1581.29 L1192.00,1582.00 L1192.59,1576.13 L1193.18,1570.86 L1193.78,1566.60 L1194.31,1563.37 L1194.84,1560.78 L1195.37,1558.34 L1195.90,1555.67 L1196.50,1552.56 L1197.09,1549.13 L1197.68,1545.35 L1198.39,1541.55 L1199.10,1539.48 L1199.60,1540.32 L1200.10,1543.06 L1200.60,1546.32 L1201.10,1549.49 L1202.00,1552.50 L1202.55,1552.05 L1203.10,1552.19 L1203.81,1553.26 L1204.53,1554.97 L1205.08,1556.72 L1205.62,1558.47 L1206.17,1560.24 L1206.72,1561.96 L1207.26,1563.54 L1207.77,1564.96 L1208.28,1566.27 L1208.79,1567.52 L1209.31,1568.73 L1209.82,1569.90 L1210.33,1571.04 L1210.84,1572.14 L1211.36,1573.23 L1211.88,1574.30 L1212.40,1575.35 L1212.92,1576.36 L1213.44,1577.34 L1213.96,1578.29 L1214.48,1579.21 L1215.00,1580.10" fill="none" stroke="#5c5c5c" stroke-width="2.0" stroke-linejoin="round" stroke-linecap="round"/>
<path d="M1224.50,1583.30 L1225.03,1577.89 L1225.57,1573.01 L1226.10,1568.88 L1226.74,1565.38 L1227.38,1562.28 L1228.02,1559.28 L1228.55,1556.22 L1229.09,1553.04 L1229.62,1549.56 L1230.26,1546.06 L1230.90,1544.16 L1231.40,1544.98 L1231.90,1547.57 L1232.40,1550.66 L1232.90,1553.65 L1233.80,1556.50 L1234.35,1556.04 L1234.90,1555.98 L1235.46,1556.54 L1236.03,1557.64 L1236.59,1558.94 L1237.13,1560.27 L1237.67,1561.63 L1238.21,1563.06 L1238.75,1564.48 L1239.29,1565.85 L1239.84,1567.12 L1240.36,1568.29 L1240.89,1569.40 L1241.42,1570.47 L1241.95,1571.50 L1242.48,1572.50 L1243.01,1573.48 L1243.54,1574.42 L1244.07,1575.36 L1244.61,1576.29 L1245.16,1577.20 L1245.71,1578.10 L1246.26,1578.98 L1246.81,1579.83 L1247.36,1580.66 L1247.90,1581.46 L1248.45,1582.24 L1249.00,1583.00 L1249.56,1577.42 L1250.12,1572.42 L1250.67,1568.37 L1251.18,1565.30 L1251.68,1562.84 L1252.18,1560.52 L1252.68,1557.98 L1253.24,1555.03 L1253.80,1551.77 L1254.36,1548.18 L1255.03,1544.56 L1255.70,1542.60 L1256.20,1543.40 L1256.70,1546.01 L1257.20,1549.11 L1257.70,1552.13 L1258.60,1555.00 L1259.15,1554.54 L1259.70,1554.49 L1260.27,1555.06 L1260.84,1556.17 L1261.42,1557.50 L1261.96,1558.85 L1262.51,1560.24 L1263.06,1561.69 L1263.61,1563.14 L1264.16,1564.53 L1264.70,1565.83 L1265.24,1567.02 L1265.78,1568.15 L1266.31,1569.24 L1266.85,1570.29 L1267.39,1571.31 L1267.92,1572.30 L1268.46,1573.26 L1269.00,1574.19 L1269.50,1575.07 L1270.00,1575.91 L1270.50,1576.74 L1271.00,1577.55 L1271.50,1578.34 L1272.00,1579.11 L1272.50,1579.87 L1273.00,1580.60 L1273.50,1581.31 L1274.00,1582.00 L1274.59,1576.34 L1275.18,1571.27 L1275.78,1567.16 L1276.31,1564.05 L1276.84,1561.55 L1277.37,1559.20 L1277.90,1556.62 L1278.50,1553.63 L1279.09,1550.32 L1279.68,1546.68 L1280.39,1543.02 L1281.10,1541.02 L1281.60,1541.82 L1282.10,1544.44 L1282.60,1547.57 L1283.10,1550.61 L1284.00,1553.50 L1284.55,1553.03 L1285.10,1552.98 L1285.60,1553.55 L1286.10,1554.66 L1286.60,1556.04 L1287.17,1557.57 L1287.75,1559.23 L1288.32,1560.94 L1288.90,1562.60 L1289.47,1564.12 L1290.01,1565.49 L1290.55,1566.76 L1291.08,1567.97 L1291.62,1569.13 L1292.15,1570.26 L1292.69,1571.36 L1293.22,1572.42 L1293.77,1573.48 L1294.32,1574.51 L1294.87,1575.51 L1295.41,1576.49 L1295.96,1577.44 L1296.51,1578.35 L1297.05,1579.24 L1297.60,1580.10" fill="none" stroke="#5c5c5c" stroke-width="2.0" stroke-linejoin="round" stroke-linecap="round"/>
<path d="M872.80,1691.50 L873.50,1682.37 L874.00,1675.35 L874.50,1669.93 L875.00,1665.24 L875.50,1660.85 L876.20,1656.69 L876.90,1653.69 L877.50,1652.45 L878.00,1652.60 L878.50,1653.73 L879.00,1655.91 L879.50,1659.15 L880.00,1663.17 L880.50,1667.80 L881.00,1672.87 L881.50,1678.03 L882.00,1683.12 L882.50,1687.99 L883.00,1692.12 L883.50,1695.03 L884.00,1696.87 L884.50,1697.99 L885.00,1698.54 L885.50,1698.70 L886.00,1698.71 L886.50,1698.69 L887.00,1698.61 L887.50,1698.46 L888.00,1698.26 L888.50,1698.06 L889.00,1697.91 L889.50,1697.83 L890.00,1697.80 L890.50,1697.80 L891.00,1697.80 L891.50,1697.80 L892.00,1697.80 L892.50,1697.80 L893.00,1697.80 L893.50,1697.80 L894.03,1697.80 L894.56,1697.80 L895.09,1697.80 L895.61,1697.80 L896.14,1697.80 L896.67,1697.79 L897.20,1697.73 L897.70,1697.51 L898.20,1697.05 L898.70,1696.30 L899.20,1695.06 L899.70,1692.85 L900.20,1689.44 L900.70,1685.25 L901.20,1680.70 L901.70,1675.85 L902.20,1670.72 L902.70,1665.69 L903.20,1660.98 L903.90,1656.70 L904.60,1653.69 L905.20,1652.45 L905.70,1652.60 L906.20,1653.73 L906.70,1655.91 L907.20,1659.15 L907.70,1663.17 L908.20,1667.80 L908.70,1672.87 L909.20,1678.03 L909.70,1683.12 L910.20,1687.99 L910.70,1692.12 L911.20,1695.03 L911.70,1696.87 L912.20,1697.99 L912.70,1698.54 L913.20,1698.70 L913.70,1698.71 L914.20,1698.69 L914.70,1698.61 L915.20,1698.46 L915.70,1698.26 L916.20,1698.06 L916.70,1697.91 L917.20,1697.83 L917.70,1697.80 L918.20,1697.80 L918.70,1697.80 L919.20,1697.80 L919.70,1697.80 L920.20,1697.80 L920.70,1697.80 L921.20,1697.80 L921.71,1697.80 L922.23,1697.80 L922.74,1697.80 L923.26,1697.80 L923.77,1697.80 L924.29,1697.79 L924.80,1697.73 L925.30,1697.50 L925.80,1697.02 L926.30,1696.24 L926.80,1694.95 L927.30,1692.64 L927.80,1689.10 L928.30,1684.73 L928.80,1679.99 L929.30,1674.94 L929.80,1669.60 L930.30,1664.36 L930.80,1659.46 L931.50,1655.00 L932.20,1651.86 L932.80,1650.57 L933.30,1650.73 L933.80,1651.90 L934.30,1654.17 L934.80,1657.55 L935.30,1661.73 L935.80,1666.56 L936.30,1671.84 L936.80,1677.21 L937.30,1682.51 L937.80,1687.58 L938.30,1691.88 L938.80,1694.92 L939.30,1696.83 L939.80,1698.00 L940.30,1698.57 L940.80,1698.73 L941.30,1698.75 L941.80,1698.73 L942.30,1698.65 L942.80,1698.49 L943.30,1698.28 L943.80,1698.07 L944.30,1697.91 L944.80,1697.83 L945.30,1697.80 L945.80,1697.80 L946.30,1697.80 L946.80,1697.80 L947.30,1697.80 L947.80,1697.80 L948.30,1697.80 L948.80,1697.80 L949.30,1697.80 L949.80,1697.79 L950.30,1697.79 L950.80,1697.78 L951.30,1697.77 L951.80,1697.76 L952.30,1697.74 L952.80,1697.73 L953.30,1697.72 L953.80,1697.70" fill="none" stroke="#1b8a1b" stroke-width="2.3" stroke-linejoin="round" stroke-linecap="round"/>
<path d="M963.30,1696.70 L963.87,1691.64 L964.43,1686.53 L965.00,1681.41 L965.50,1676.34 L966.00,1671.32 L966.50,1666.54 L967.00,1662.07 L967.70,1657.95 L968.40,1655.03 L969.00,1653.83 L969.50,1653.98 L970.00,1655.07 L970.50,1657.19 L971.00,1660.33 L971.50,1664.22 L972.00,1668.72 L972.50,1673.63 L973.00,1678.63 L973.50,1683.57 L974.00,1688.29 L974.50,1692.29 L975.00,1695.12 L975.50,1696.90 L976.00,1697.99 L976.50,1698.52 L977.00,1698.67 L977.50,1698.69 L978.00,1698.66 L978.50,1698.59 L979.00,1698.44 L979.50,1698.25 L980.00,1698.05 L980.50,1697.90 L981.00,1697.83 L981.50,1697.80 L982.00,1697.80 L982.50,1697.80 L983.00,1697.80 L983.50,1697.80 L984.00,1697.80 L984.50,1697.80 L985.00,1697.80 L985.53,1697.80 L986.06,1697.80 L986.59,1697.80 L987.11,1697.80 L987.64,1697.80 L988.17,1697.79 L988.70,1697.73 L989.20,1697.51 L989.70,1697.04 L990.20,1696.28 L990.70,1695.03 L991.20,1692.79 L991.70,1689.35 L992.20,1685.11 L992.70,1680.51 L993.20,1675.61 L993.70,1670.42 L994.20,1665.34 L994.70,1660.58 L995.40,1656.26 L996.10,1653.21 L996.70,1651.95 L997.20,1652.11 L997.70,1653.25 L998.20,1655.45 L998.70,1658.73 L999.20,1662.79 L999.70,1667.47 L1000.20,1672.60 L1000.70,1677.82 L1001.20,1682.96 L1001.70,1687.88 L1002.20,1692.05 L1002.70,1695.00 L1003.20,1696.86 L1003.70,1697.99 L1004.20,1698.55 L1004.70,1698.71 L1005.20,1698.72 L1005.70,1698.70 L1006.20,1698.62 L1006.70,1698.47 L1007.20,1698.26 L1007.70,1698.06 L1008.20,1697.91 L1008.70,1697.83 L1009.20,1697.80 L1009.70,1697.80 L1010.20,1697.80 L1010.70,1697.80 L1011.20,1697.80 L1011.70,1697.80 L1012.20,1697.80 L1012.70,1697.80 L1013.25,1697.80 L1013.80,1697.80 L1014.35,1697.80 L1014.90,1697.80 L1015.45,1697.79 L1016.00,1697.73 L1016.50,1697.51 L1017.00,1697.05 L1017.50,1696.31 L1018.00,1695.09 L1018.50,1692.89 L1019.00,1689.52 L1019.50,1685.35 L1020.00,1680.85 L1020.50,1676.04 L1021.00,1670.95 L1021.50,1665.97 L1022.00,1661.30 L1022.70,1657.06 L1023.40,1654.07 L1024.00,1652.84 L1024.50,1652.99 L1025.00,1654.11 L1025.50,1656.27 L1026.00,1659.49 L1026.50,1663.47 L1027.00,1668.06 L1027.50,1673.09 L1028.00,1678.20 L1028.50,1683.25 L1029.00,1688.08 L1029.50,1692.17 L1030.00,1695.06 L1030.50,1696.88 L1031.00,1697.99 L1031.50,1698.53 L1032.00,1698.69 L1032.50,1698.71 L1033.00,1698.68 L1033.50,1698.61 L1034.00,1698.45 L1034.50,1698.26 L1035.00,1698.06 L1035.50,1697.90 L1036.00,1697.83 L1036.50,1697.80 L1037.00,1697.80 L1037.50,1697.80 L1038.00,1697.80 L1038.50,1697.80 L1039.00,1697.80 L1039.50,1697.80 L1040.00,1697.80 L1040.52,1697.79 L1041.04,1697.78 L1041.57,1697.77 L1042.09,1697.75 L1042.61,1697.72 L1043.13,1697.70 L1043.66,1697.67 L1044.18,1697.63 L1044.70,1697.60" fill="none" stroke="#1b8a1b" stroke-width="2.3" stroke-linejoin="round" stroke-linecap="round"/>
<path d="M1053.00,1697.00 L1053.70,1688.85 L1054.40,1681.51 L1054.90,1675.41 L1055.40,1670.09 L1055.90,1665.22 L1056.40,1660.66 L1057.10,1656.43 L1057.80,1653.40 L1058.40,1652.15 L1058.90,1652.30 L1059.40,1653.44 L1059.90,1655.63 L1060.40,1658.90 L1060.90,1662.94 L1061.40,1667.60 L1061.90,1672.71 L1062.40,1677.90 L1062.90,1683.02 L1063.40,1687.93 L1063.90,1692.08 L1064.40,1695.01 L1064.90,1696.86 L1065.40,1697.99 L1065.90,1698.55 L1066.40,1698.70 L1066.90,1698.72 L1067.40,1698.70 L1067.90,1698.62 L1068.40,1698.46 L1068.90,1698.26 L1069.40,1698.06 L1069.90,1697.91 L1070.40,1697.83 L1070.90,1697.80 L1071.40,1697.80 L1071.90,1697.80 L1072.40,1697.80 L1072.90,1697.80 L1073.40,1697.80 L1073.90,1697.80 L1074.40,1697.80 L1074.97,1697.80 L1075.53,1697.79 L1076.10,1697.73 L1076.60,1697.51 L1077.10,1697.04 L1077.60,1696.29 L1078.10,1695.05 L1078.60,1692.82 L1079.10,1689.39 L1079.60,1685.16 L1080.10,1680.59 L1080.60,1675.70 L1081.10,1670.54 L1081.60,1665.48 L1082.10,1660.74 L1082.80,1656.43 L1083.50,1653.40 L1084.10,1652.15 L1084.60,1652.30 L1085.10,1653.44 L1085.60,1655.63 L1086.10,1658.90 L1086.60,1662.94 L1087.10,1667.60 L1087.60,1672.71 L1088.10,1677.90 L1088.60,1683.02 L1089.10,1687.93 L1089.60,1692.08 L1090.10,1695.01 L1090.60,1696.86 L1091.10,1697.99 L1091.60,1698.55 L1092.10,1698.70 L1092.60,1698.72 L1093.10,1698.70 L1093.60,1698.62 L1094.10,1698.46 L1094.60,1698.26 L1095.10,1698.06 L1095.60,1697.91 L1096.10,1697.83 L1096.60,1697.80 L1097.10,1697.80 L1097.60,1697.80 L1098.10,1697.80 L1098.60,1697.80 L1099.10,1697.80 L1099.60,1697.80 L1100.10,1697.80 L1100.62,1697.80 L1101.15,1697.80 L1101.67,1697.79 L1102.20,1697.73 L1102.70,1697.51 L1103.20,1697.04 L1103.70,1696.29 L1104.20,1695.05 L1104.70,1692.82 L1105.20,1689.39 L1105.70,1685.16 L1106.20,1680.59 L1106.70,1675.70 L1107.20,1670.54 L1107.70,1665.48 L1108.20,1660.74 L1108.90,1656.43 L1109.60,1653.40 L1110.20,1652.15 L1110.70,1652.30 L1111.20,1653.44 L1111.70,1655.63 L1112.20,1658.90 L1112.70,1662.94 L1113.20,1667.60 L1113.70,1672.71 L1114.20,1677.90 L1114.70,1683.02 L1115.20,1687.93 L1115.70,1692.08 L1116.20,1695.01 L1116.70,1696.86 L1117.20,1697.99 L1117.70,1698.55 L1118.20,1698.70 L1118.70,1698.72 L1119.20,1698.70 L1119.70,1698.62 L1120.20,1698.46 L1120.70,1698.26 L1121.20,1698.06 L1121.70,1697.91 L1122.20,1697.83 L1122.70,1697.80 L1123.20,1697.80 L1123.70,1697.80 L1124.20,1697.80 L1124.70,1697.80 L1125.20,1697.80 L1125.70,1697.80 L1126.20,1697.80 L1126.71,1697.80 L1127.22,1697.79 L1127.73,1697.78 L1128.24,1697.77 L1128.75,1697.75 L1129.25,1697.73 L1129.76,1697.71 L1130.27,1697.68 L1130.78,1697.66 L1131.29,1697.63 L1131.80,1697.60" fill="none" stroke="#1b8a1b" stroke-width="2.3" stroke-linejoin="round" stroke-linecap="round"/>
<path d="M1141.00,1697.00 L1141.55,1688.99 L1142.10,1681.86 L1142.60,1675.88 L1143.10,1670.73 L1143.60,1666.13 L1144.10,1661.83 L1144.80,1657.76 L1145.50,1654.84 L1146.10,1653.63 L1146.60,1653.78 L1147.10,1654.88 L1147.60,1657.00 L1148.10,1660.16 L1148.60,1664.07 L1149.10,1668.58 L1149.60,1673.53 L1150.10,1678.55 L1150.60,1683.50 L1151.10,1688.25 L1151.60,1692.26 L1152.10,1695.11 L1152.60,1696.89 L1153.10,1697.99 L1153.60,1698.52 L1154.10,1698.67 L1154.60,1698.69 L1155.10,1698.67 L1155.60,1698.59 L1156.10,1698.44 L1156.60,1698.25 L1157.10,1698.05 L1157.60,1697.90 L1158.10,1697.83 L1158.60,1697.80 L1159.10,1697.80 L1159.60,1697.80 L1160.10,1697.80 L1160.60,1697.80 L1161.10,1697.80 L1161.60,1697.80 L1162.10,1697.80 L1162.65,1697.79 L1163.20,1697.73 L1163.70,1697.52 L1164.20,1697.07 L1164.70,1696.34 L1165.20,1695.13 L1165.70,1692.98 L1166.20,1689.66 L1166.70,1685.57 L1167.20,1681.14 L1167.70,1676.42 L1168.20,1671.43 L1168.70,1666.53 L1169.20,1661.94 L1169.90,1657.78 L1170.60,1654.84 L1171.20,1653.63 L1171.70,1653.78 L1172.20,1654.88 L1172.70,1657.00 L1173.20,1660.16 L1173.70,1664.07 L1174.20,1668.58 L1174.70,1673.53 L1175.20,1678.55 L1175.70,1683.50 L1176.20,1688.25 L1176.70,1692.26 L1177.20,1695.11 L1177.70,1696.89 L1178.20,1697.99 L1178.70,1698.52 L1179.20,1698.67 L1179.70,1698.69 L1180.20,1698.67 L1180.70,1698.59 L1181.20,1698.44 L1181.70,1698.25 L1182.20,1698.05 L1182.70,1697.90 L1183.20,1697.83 L1183.70,1697.80 L1184.20,1697.80 L1184.70,1697.80 L1185.20,1697.80 L1185.70,1697.80 L1186.20,1697.80 L1186.70,1697.80 L1187.20,1697.80 L1187.77,1697.80 L1188.33,1697.79 L1188.90,1697.73 L1189.40,1697.52 L1189.90,1697.07 L1190.40,1696.34 L1190.90,1695.13 L1191.40,1692.98 L1191.90,1689.66 L1192.40,1685.57 L1192.90,1681.14 L1193.40,1676.42 L1193.90,1671.43 L1194.40,1666.53 L1194.90,1661.94 L1195.60,1657.78 L1196.30,1654.84 L1196.90,1653.63 L1197.40,1653.78 L1197.90,1654.88 L1198.40,1657.00 L1198.90,1660.16 L1199.40,1664.07 L1199.90,1668.58 L1200.40,1673.53 L1200.90,1678.55 L1201.40,1683.50 L1201.90,1688.25 L1202.40,1692.26 L1202.90,1695.11 L1203.40,1696.89 L1203.90,1697.99 L1204.40,1698.52 L1204.90,1698.67 L1205.40,1698.69 L1205.90,1698.67 L1206.40,1698.59 L1206.90,1698.44 L1207.40,1698.25 L1207.90,1698.05 L1208.40,1697.90 L1208.90,1697.83 L1209.40,1697.80 L1209.90,1697.80 L1210.40,1697.80 L1210.90,1697.80 L1211.40,1697.80 L1211.90,1697.80 L1212.40,1697.80 L1212.90,1697.79 L1213.43,1697.77 L1213.95,1697.73 L1214.47,1697.67 L1215.00,1697.60" fill="none" stroke="#1b8a1b" stroke-width="2.3" stroke-linejoin="round" stroke-linecap="round"/>
<path d="M1224.50,1697.00 L1225.05,1689.23 L1225.60,1682.32 L1226.10,1676.52 L1226.60,1671.51 L1227.10,1667.06 L1227.60,1662.87 L1228.30,1658.93 L1229.00,1656.09 L1229.60,1654.92 L1230.10,1655.06 L1230.60,1656.13 L1231.10,1658.19 L1231.60,1661.26 L1232.10,1665.05 L1232.60,1669.43 L1233.10,1674.23 L1233.60,1679.11 L1234.10,1683.92 L1234.60,1688.52 L1235.10,1692.43 L1235.60,1695.18 L1236.10,1696.92 L1236.60,1697.98 L1237.10,1698.50 L1237.60,1698.65 L1238.10,1698.66 L1238.60,1698.64 L1239.10,1698.57 L1239.60,1698.42 L1240.10,1698.23 L1240.60,1698.04 L1241.10,1697.90 L1241.60,1697.82 L1242.10,1697.80 L1242.60,1697.80 L1243.10,1697.80 L1243.60,1697.80 L1244.10,1697.80 L1244.60,1697.80 L1245.10,1697.79 L1245.60,1697.74 L1246.15,1697.53 L1246.70,1697.10 L1247.25,1696.39 L1247.80,1695.23 L1248.30,1693.14 L1248.80,1689.93 L1249.30,1685.94 L1249.80,1681.63 L1250.30,1677.04 L1250.80,1672.19 L1251.30,1667.44 L1251.80,1662.99 L1252.50,1658.94 L1253.20,1656.09 L1253.80,1654.92 L1254.30,1655.06 L1254.80,1656.13 L1255.30,1658.19 L1255.80,1661.26 L1256.30,1665.05 L1256.80,1669.43 L1257.30,1674.23 L1257.80,1679.11 L1258.30,1683.92 L1258.80,1688.52 L1259.30,1692.43 L1259.80,1695.18 L1260.30,1696.92 L1260.80,1697.98 L1261.30,1698.50 L1261.80,1698.65 L1262.30,1698.66 L1262.80,1698.64 L1263.30,1698.57 L1263.80,1698.42 L1264.30,1698.23 L1264.80,1698.04 L1265.30,1697.90 L1265.80,1697.82 L1266.30,1697.80 L1266.80,1697.80 L1267.30,1697.80 L1267.80,1697.80 L1268.30,1697.80 L1268.80,1697.80 L1269.30,1697.80 L1269.80,1697.79 L1270.50,1697.74 L1271.00,1697.53 L1271.50,1697.09 L1272.00,1696.38 L1272.50,1695.21 L1273.00,1693.12 L1273.50,1689.90 L1274.00,1685.93 L1274.50,1681.63 L1275.00,1677.04 L1275.50,1672.19 L1276.00,1667.44 L1276.50,1662.99 L1277.20,1658.94 L1277.90,1656.09 L1278.50,1654.92 L1279.00,1655.06 L1279.50,1656.13 L1280.00,1658.19 L1280.50,1661.26 L1281.00,1665.05 L1281.50,1669.43 L1282.00,1674.23 L1282.50,1679.11 L1283.00,1683.92 L1283.50,1688.52 L1284.00,1692.43 L1284.50,1695.18 L1285.00,1696.92 L1285.50,1697.98 L1286.00,1698.50 L1286.50,1698.65 L1287.00,1698.66 L1287.50,1698.64 L1288.00,1698.57 L1288.50,1698.42 L1289.00,1698.23 L1289.50,1698.04 L1290.00,1697.90 L1290.50,1697.82 L1291.00,1697.80 L1291.50,1697.80 L1292.00,1697.80 L1292.50,1697.80 L1293.00,1697.80 L1293.50,1697.80 L1294.00,1697.80 L1294.50,1697.80 L1295.02,1697.79 L1295.53,1697.76 L1296.05,1697.73 L1296.57,1697.69 L1297.08,1697.65 L1297.60,1697.60" fill="none" stroke="#1b8a1b" stroke-width="2.3" stroke-linejoin="round" stroke-linecap="round"/>
<line x1="224.40" y1="1489.90" x2="224.40" y2="1707.30" stroke="#333" stroke-width="1.1" stroke-dasharray="2.6 2.2"/>
<line x1="315.70" y1="1489.90" x2="315.70" y2="1707.30" stroke="#333" stroke-width="1.1" stroke-dasharray="2.6 2.2"/>
<line x1="402.00" y1="1489.90" x2="402.00" y2="1707.30" stroke="#333" stroke-width="1.1" stroke-dasharray="2.6 2.2"/>
<line x1="485.70" y1="1489.90" x2="485.70" y2="1707.30" stroke="#333" stroke-width="1.1" stroke-dasharray="2.6 2.2"/>
<line x1="955.60" y1="1487.50" x2="955.60" y2="1705.50" stroke="#777" stroke-width="1.0" stroke-dasharray="2.6 2.2"/>
<line x1="1049.30" y1="1487.50" x2="1049.30" y2="1705.50" stroke="#777" stroke-width="1.0" stroke-dasharray="2.6 2.2"/>
<line x1="1136.50" y1="1487.50" x2="1136.50" y2="1705.50" stroke="#777" stroke-width="1.0" stroke-dasharray="2.6 2.2"/>
<line x1="1219.80" y1="1487.50" x2="1219.80" y2="1705.50" stroke="#777" stroke-width="1.0" stroke-dasharray="2.6 2.2"/>
<text transform="translate(3.19,36.80) scale(1.0515,1)" font-size="34.49" font-weight="bold" fill="#000">A</text>
<text transform="translate(123.81,33.90) scale(0.9235,1)" font-size="41.88" font-weight="bold" fill="#000">Vehicle</text>
<text transform="translate(764.90,36.80) scale(0.9511,1)" font-size="35.51" font-weight="bold" fill="#000">B</text>
<text transform="translate(867.58,34.00) scale(0.9149,1)" font-size="42.32" font-weight="bold" fill="#000">Phenylephrine</text>
<text transform="translate(183.65,165.83) scale(0.9040,1)" font-size="37.32" font-weight="bold" fill="#000">C</text>
<text transform="translate(430.63,166.20) scale(0.9253,1)" font-size="37.68" font-weight="bold" fill="#000">E</text>
<text transform="translate(480.78,166.00) scale(0.9132,1)" font-size="37.39" font-weight="bold" fill="#000">D</text>
<text transform="translate(942.18,92.90) scale(0.9196,1)" font-size="37.10" font-weight="bold" fill="#000">F</text>
<text transform="translate(1180.43,93.10) scale(0.9338,1)" font-size="37.39" font-weight="bold" fill="#000">H</text>
<text transform="translate(1226.84,93.42) scale(0.9587,1)" font-size="38.17" font-weight="bold" fill="#000">G</text>
<text transform="translate(89.00,281.61) rotate(-90) scale(0.9816,1)" font-size="18.99" font-weight="bold" fill="#000">Blood Pressure, mmHg</text>
<text transform="translate(91.70,509.05) rotate(-90) scale(0.9724,1)" font-size="19.71" font-weight="bold" fill="#000">Blood Flow, ml/min</text>
<text transform="translate(833.90,281.61) rotate(-90) scale(0.9816,1)" font-size="18.99" font-weight="bold" fill="#000">Blood Pressure, mmHg</text>
<text transform="translate(836.60,509.05) rotate(-90) scale(0.9724,1)" font-size="19.71" font-weight="bold" fill="#000">Blood Flow, ml/min</text>
<text transform="translate(268.34,273.70) scale(1.0174,1)" font-size="18.99" font-weight="bold" fill="#000">1 min</text>
<text transform="translate(270.34,518.50) scale(0.9946,1)" font-size="19.42" font-weight="bold" fill="#000">1 min</text>
<text transform="translate(1003.03,258.70) scale(1.0146,1)" font-size="19.28" font-weight="bold" fill="#000">1 min</text>
<text transform="translate(1022.53,516.70) scale(0.9922,1)" font-size="19.71" font-weight="bold" fill="#000">1 min</text>
<text transform="translate(98.47,111.00) scale(1.0000,1)" font-size="12.29" font-weight="bold" fill="#000">150</text>
<text transform="translate(98.47,178.20) scale(1.0000,1)" font-size="12.29" font-weight="bold" fill="#000">100</text>
<text transform="translate(105.35,245.20) scale(1.0000,1)" font-size="12.29" font-weight="bold" fill="#000">50</text>
<text transform="translate(105.35,339.00) scale(1.0000,1)" font-size="12.29" font-weight="bold" fill="#000">70</text>
<text transform="translate(105.35,361.16) scale(1.0000,1)" font-size="12.29" font-weight="bold" fill="#000">60</text>
<text transform="translate(105.35,383.32) scale(1.0000,1)" font-size="12.29" font-weight="bold" fill="#000">50</text>
<text transform="translate(105.35,405.49) scale(1.0000,1)" font-size="12.29" font-weight="bold" fill="#000">40</text>
<text transform="translate(105.35,427.65) scale(1.0000,1)" font-size="12.29" font-weight="bold" fill="#000">30</text>
<text transform="translate(105.35,449.81) scale(1.0000,1)" font-size="12.29" font-weight="bold" fill="#000">20</text>
<text transform="translate(105.35,471.98) scale(1.0000,1)" font-size="12.29" font-weight="bold" fill="#000">10</text>
<text transform="translate(112.17,494.14) scale(1.0000,1)" font-size="12.29" font-weight="bold" fill="#000">0</text>
<text transform="translate(101.24,516.30) scale(1.0000,1)" font-size="12.29" font-weight="bold" fill="#000">-10</text>
<text transform="translate(843.67,110.90) scale(1.0000,1)" font-size="12.29" font-weight="bold" fill="#000">150</text>
<text transform="translate(843.67,178.00) scale(1.0000,1)" font-size="12.29" font-weight="bold" fill="#000">100</text>
<text transform="translate(850.55,245.20) scale(1.0000,1)" font-size="12.29" font-weight="bold" fill="#000">50</text>
<text transform="translate(850.55,339.00) scale(1.0000,1)" font-size="12.29" font-weight="bold" fill="#000">70</text>
<text transform="translate(850.55,361.20) scale(1.0000,1)" font-size="12.29" font-weight="bold" fill="#000">60</text>
<text transform="translate(850.55,383.40) scale(1.0000,1)" font-size="12.29" font-weight="bold" fill="#000">50</text>
<text transform="translate(850.55,405.60) scale(1.0000,1)" font-size="12.29" font-weight="bold" fill="#000">40</text>
<text transform="translate(850.55,427.80) scale(1.0000,1)" font-size="12.29" font-weight="bold" fill="#000">30</text>
<text transform="translate(850.55,450.00) scale(1.0000,1)" font-size="12.29" font-weight="bold" fill="#000">20</text>
<text transform="translate(850.55,472.20) scale(1.0000,1)" font-size="12.29" font-weight="bold" fill="#000">10</text>
<text transform="translate(857.37,494.40) scale(1.0000,1)" font-size="12.29" font-weight="bold" fill="#000">0</text>
<text transform="translate(846.44,516.60) scale(1.0000,1)" font-size="12.29" font-weight="bold" fill="#000">-10</text>
<text transform="translate(2.79,659.25) scale(0.9285,1)" font-size="35.35" font-weight="bold" fill="#000">C</text>
<text transform="translate(124.49,693.00) scale(0.8897,1)" font-size="43.33" font-weight="bold" fill="#000">Baseline</text>
<text transform="translate(1.70,1042.20) scale(0.9604,1)" font-size="35.22" font-weight="bold" fill="#000">D</text>
<text transform="translate(124.13,1053.80) scale(0.9431,1)" font-size="41.88" font-weight="bold" fill="#000">Post Pacing</text>
<text transform="translate(1.84,1419.90) scale(0.9647,1)" font-size="34.49" font-weight="bold" fill="#000">E</text>
<text transform="translate(124.14,1421.20) scale(0.9326,1)" font-size="42.17" font-weight="bold" fill="#000">Pacing</text>
<text transform="translate(765.28,657.90) scale(0.9397,1)" font-size="34.64" font-weight="bold" fill="#000">F</text>
<text transform="translate(868.49,693.00) scale(0.8915,1)" font-size="43.33" font-weight="bold" fill="#000">Baseline</text>
<text transform="translate(765.77,1043.24) scale(0.9318,1)" font-size="35.77" font-weight="bold" fill="#000">G</text>
<text transform="translate(868.03,1053.80) scale(0.9443,1)" font-size="41.88" font-weight="bold" fill="#000">Post Pacing</text>
<text transform="translate(765.24,1419.70) scale(0.9394,1)" font-size="35.36" font-weight="bold" fill="#000">H</text>
<text transform="translate(867.01,1421.20) scale(0.9447,1)" font-size="42.17" font-weight="bold" fill="#000">Pacing</text>
<text transform="translate(75.00,960.30) rotate(-90) scale(0.9703,1)" font-size="26.96" font-weight="bold" fill="#000">Blood Flow, ml/min</text>
<text transform="translate(616.10,699.33) rotate(90) scale(0.9963,1)" font-size="25.80" font-weight="bold" fill="#000">Blood Pressure, mmHg</text>
<text transform="translate(75.00,1312.90) rotate(-90) scale(0.9703,1)" font-size="26.96" font-weight="bold" fill="#000">Blood Flow, ml/min</text>
<text transform="translate(616.10,1051.93) rotate(90) scale(0.9963,1)" font-size="25.80" font-weight="bold" fill="#000">Blood Pressure, mmHg</text>
<text transform="translate(75.00,1732.30) rotate(-90) scale(0.9695,1)" font-size="26.96" font-weight="bold" fill="#000">Blood Flow, ml/min</text>
<text transform="translate(616.10,1471.53) rotate(90) scale(0.9967,1)" font-size="25.80" font-weight="bold" fill="#000">Blood Pressure, mmHg</text>
<text transform="translate(820.00,960.30) rotate(-90) scale(0.9703,1)" font-size="26.96" font-weight="bold" fill="#000">Blood Flow, ml/min</text>
<text transform="translate(1361.10,699.33) rotate(90) scale(0.9963,1)" font-size="25.80" font-weight="bold" fill="#000">Blood Pressure, mmHg</text>
<text transform="translate(820.00,1312.90) rotate(-90) scale(0.9703,1)" font-size="26.96" font-weight="bold" fill="#000">Blood Flow, ml/min</text>
<text transform="translate(1361.10,1051.93) rotate(90) scale(0.9963,1)" font-size="25.80" font-weight="bold" fill="#000">Blood Pressure, mmHg</text>
<text transform="translate(820.00,1732.30) rotate(-90) scale(0.9695,1)" font-size="26.96" font-weight="bold" fill="#000">Blood Flow, ml/min</text>
<text transform="translate(1361.10,1471.53) rotate(90) scale(0.9967,1)" font-size="25.80" font-weight="bold" fill="#000">Blood Pressure, mmHg</text>
<text transform="translate(144.39,944.90) scale(1.0259,1)" font-size="25.43" font-weight="bold" fill="#000">60 ms</text>
<text transform="translate(144.39,1298.80) scale(1.0259,1)" font-size="25.43" font-weight="bold" fill="#000">60 ms</text>
<text transform="translate(889.39,944.90) scale(1.0259,1)" font-size="25.43" font-weight="bold" fill="#000">60 ms</text>
<text transform="translate(889.39,1298.80) scale(1.0259,1)" font-size="25.43" font-weight="bold" fill="#000">60 ms</text>
<text transform="translate(166.08,1732.70) scale(1.0253,1)" font-size="25.71" font-weight="bold" fill="#000">600 ms</text>
<text transform="translate(911.78,1731.40) scale(1.0486,1)" font-size="25.14" font-weight="bold" fill="#000">600 ms</text>
<text transform="translate(87.50,757.80) scale(0.9600,1)" font-size="17.57" font-weight="bold" fill="#000">150</text>
<text transform="translate(571.03,757.70) scale(0.9300,1)" font-size="18.14" font-weight="normal" fill="#000" stroke="#000" stroke-width="0.75">150</text>
<text transform="translate(87.50,812.27) scale(0.9600,1)" font-size="17.57" font-weight="bold" fill="#000">100</text>
<text transform="translate(571.03,812.27) scale(0.9300,1)" font-size="18.14" font-weight="normal" fill="#000" stroke="#000" stroke-width="0.75">100</text>
<text transform="translate(96.95,866.73) scale(0.9600,1)" font-size="17.57" font-weight="bold" fill="#000">50</text>
<text transform="translate(571.63,866.83) scale(0.9300,1)" font-size="18.14" font-weight="normal" fill="#000" stroke="#000" stroke-width="0.75">50</text>
<text transform="translate(106.31,921.20) scale(0.9600,1)" font-size="17.57" font-weight="bold" fill="#000">0</text>
<text transform="translate(571.63,921.40) scale(0.9300,1)" font-size="18.14" font-weight="normal" fill="#000" stroke="#000" stroke-width="0.75">0</text>
<text transform="translate(87.50,1110.20) scale(0.9600,1)" font-size="17.57" font-weight="bold" fill="#000">150</text>
<text transform="translate(571.03,1111.10) scale(0.9300,1)" font-size="18.14" font-weight="normal" fill="#000" stroke="#000" stroke-width="0.75">150</text>
<text transform="translate(87.50,1164.97) scale(0.9600,1)" font-size="17.57" font-weight="bold" fill="#000">100</text>
<text transform="translate(571.03,1165.67) scale(0.9300,1)" font-size="18.14" font-weight="normal" fill="#000" stroke="#000" stroke-width="0.75">100</text>
<text transform="translate(96.95,1219.73) scale(0.9600,1)" font-size="17.57" font-weight="bold" fill="#000">50</text>
<text transform="translate(571.63,1220.23) scale(0.9300,1)" font-size="18.14" font-weight="normal" fill="#000" stroke="#000" stroke-width="0.75">50</text>
<text transform="translate(106.31,1274.50) scale(0.9600,1)" font-size="17.57" font-weight="bold" fill="#000">0</text>
<text transform="translate(571.63,1274.80) scale(0.9300,1)" font-size="18.14" font-weight="normal" fill="#000" stroke="#000" stroke-width="0.75">0</text>
<text transform="translate(87.90,1530.30) scale(0.9600,1)" font-size="17.57" font-weight="bold" fill="#000">150</text>
<text transform="translate(571.13,1530.60) scale(0.9300,1)" font-size="18.14" font-weight="normal" fill="#000" stroke="#000" stroke-width="0.75">150</text>
<text transform="translate(87.90,1588.00) scale(0.9600,1)" font-size="17.57" font-weight="bold" fill="#000">100</text>
<text transform="translate(571.13,1591.93) scale(0.9300,1)" font-size="18.14" font-weight="normal" fill="#000" stroke="#000" stroke-width="0.75">100</text>
<text transform="translate(97.35,1645.70) scale(0.9600,1)" font-size="17.57" font-weight="bold" fill="#000">50</text>
<text transform="translate(571.73,1653.27) scale(0.9300,1)" font-size="18.14" font-weight="normal" fill="#000" stroke="#000" stroke-width="0.75">50</text>
<text transform="translate(106.71,1703.40) scale(0.9600,1)" font-size="17.57" font-weight="bold" fill="#000">0</text>
<text transform="translate(571.73,1714.60) scale(0.9300,1)" font-size="18.14" font-weight="normal" fill="#000" stroke="#000" stroke-width="0.75">0</text>
<text transform="translate(833.20,758.00) scale(0.9600,1)" font-size="17.57" font-weight="bold" fill="#000">150</text>
<text transform="translate(1316.13,757.60) scale(0.9300,1)" font-size="18.14" font-weight="normal" fill="#000" stroke="#000" stroke-width="0.75">150</text>
<text transform="translate(833.20,812.33) scale(0.9600,1)" font-size="17.57" font-weight="bold" fill="#000">100</text>
<text transform="translate(1316.13,812.20) scale(0.9300,1)" font-size="18.14" font-weight="normal" fill="#000" stroke="#000" stroke-width="0.75">100</text>
<text transform="translate(842.65,866.67) scale(0.9600,1)" font-size="17.57" font-weight="bold" fill="#000">50</text>
<text transform="translate(1316.73,866.80) scale(0.9300,1)" font-size="18.14" font-weight="normal" fill="#000" stroke="#000" stroke-width="0.75">50</text>
<text transform="translate(852.01,921.00) scale(0.9600,1)" font-size="17.57" font-weight="bold" fill="#000">0</text>
<text transform="translate(1316.73,921.40) scale(0.9300,1)" font-size="18.14" font-weight="normal" fill="#000" stroke="#000" stroke-width="0.75">0</text>
<text transform="translate(833.20,1110.20) scale(0.9600,1)" font-size="17.57" font-weight="bold" fill="#000">150</text>
<text transform="translate(1316.13,1111.50) scale(0.9300,1)" font-size="18.14" font-weight="normal" fill="#000" stroke="#000" stroke-width="0.75">150</text>
<text transform="translate(833.20,1164.97) scale(0.9600,1)" font-size="17.57" font-weight="bold" fill="#000">100</text>
<text transform="translate(1316.13,1165.87) scale(0.9300,1)" font-size="18.14" font-weight="normal" fill="#000" stroke="#000" stroke-width="0.75">100</text>
<text transform="translate(842.65,1219.73) scale(0.9600,1)" font-size="17.57" font-weight="bold" fill="#000">50</text>
<text transform="translate(1316.73,1220.23) scale(0.9300,1)" font-size="18.14" font-weight="normal" fill="#000" stroke="#000" stroke-width="0.75">50</text>
<text transform="translate(852.01,1274.50) scale(0.9600,1)" font-size="17.57" font-weight="bold" fill="#000">0</text>
<text transform="translate(1316.73,1274.60) scale(0.9300,1)" font-size="18.14" font-weight="normal" fill="#000" stroke="#000" stroke-width="0.75">0</text>
<text transform="translate(833.10,1530.30) scale(0.9600,1)" font-size="17.57" font-weight="bold" fill="#000">150</text>
<text transform="translate(1316.13,1530.60) scale(0.9300,1)" font-size="18.14" font-weight="normal" fill="#000" stroke="#000" stroke-width="0.75">150</text>
<text transform="translate(833.10,1588.03) scale(0.9600,1)" font-size="17.57" font-weight="bold" fill="#000">100</text>
<text transform="translate(1316.13,1591.93) scale(0.9300,1)" font-size="18.14" font-weight="normal" fill="#000" stroke="#000" stroke-width="0.75">100</text>
<text transform="translate(842.55,1645.77) scale(0.9600,1)" font-size="17.57" font-weight="bold" fill="#000">50</text>
<text transform="translate(1316.73,1653.27) scale(0.9300,1)" font-size="18.14" font-weight="normal" fill="#000" stroke="#000" stroke-width="0.75">50</text>
<text transform="translate(851.91,1703.50) scale(0.9600,1)" font-size="17.57" font-weight="bold" fill="#000">0</text>
<text transform="translate(1316.73,1714.60) scale(0.9300,1)" font-size="18.14" font-weight="normal" fill="#000" stroke="#000" stroke-width="0.75">0</text>
<text transform="translate(147.51,1510.80) scale(0.9802,1)" font-size="17.54" font-weight="normal" fill="#111">10 Hz</text>
<text transform="translate(240.01,1510.80) scale(0.9790,1)" font-size="17.54" font-weight="normal" fill="#111">10.3 Hz</text>
<text transform="translate(326.19,1510.80) scale(0.9928,1)" font-size="17.54" font-weight="normal" fill="#111">10.6 Hz</text>
<text transform="translate(420.90,1510.80) scale(0.9894,1)" font-size="17.54" font-weight="normal" fill="#111">11 Hz</text>
<text transform="translate(491.39,1510.80) scale(0.9931,1)" font-size="17.54" font-weight="normal" fill="#111">11.3 Hz</text>
<text transform="translate(892.30,1513.00) scale(0.9930,1)" font-size="17.39" font-weight="normal" fill="#111">10 Hz</text>
<text transform="translate(965.30,1513.00) scale(0.9941,1)" font-size="17.39" font-weight="normal" fill="#111">10.3 Hz</text>
<text transform="translate(1058.07,1513.00) scale(1.0166,1)" font-size="17.39" font-weight="normal" fill="#111">10.6 Hz</text>
<text transform="translate(1151.69,1513.00) scale(1.0071,1)" font-size="17.39" font-weight="normal" fill="#111">11 Hz</text>
<text transform="translate(1230.59,1513.00) scale(1.0049,1)" font-size="17.39" font-weight="normal" fill="#111">11.3 Hz</text>
</svg>
</body></html>
